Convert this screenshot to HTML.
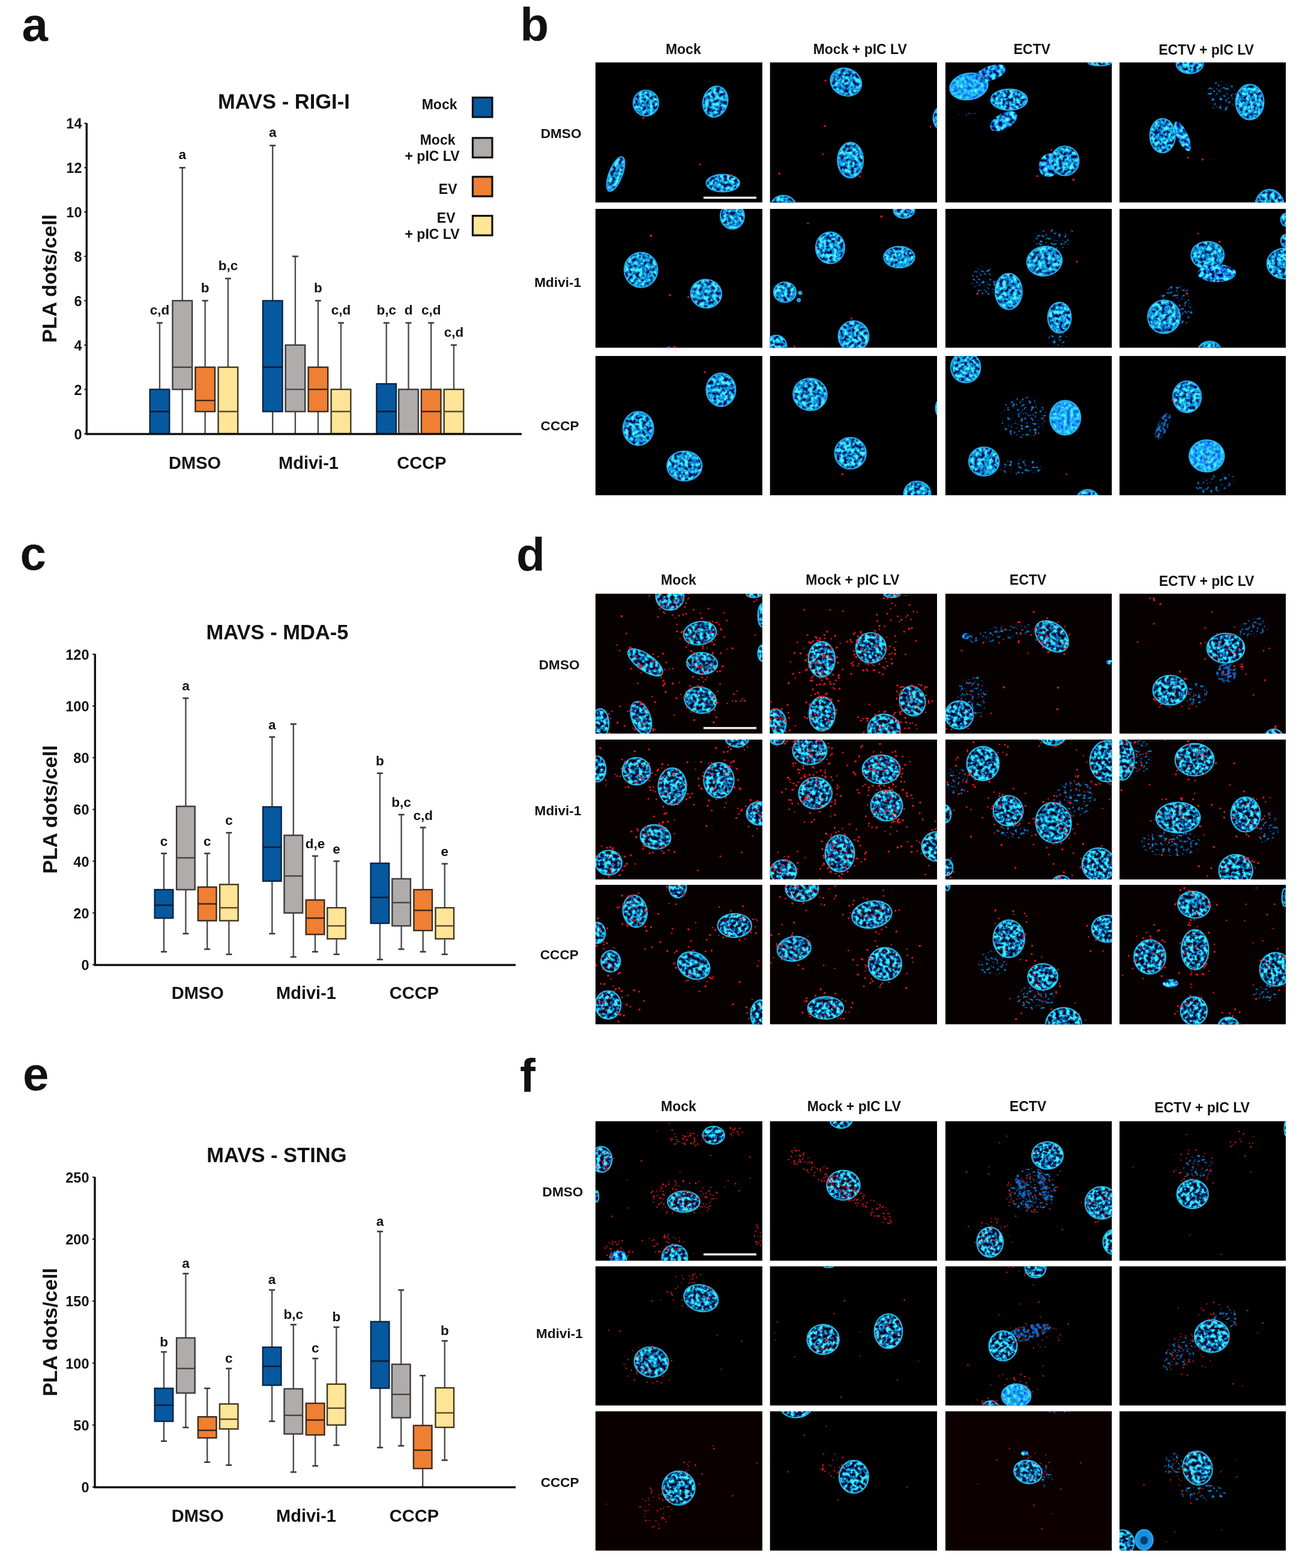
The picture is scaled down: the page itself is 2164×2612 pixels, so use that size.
<!DOCTYPE html><html><head><meta charset="utf-8"><title>Figure</title><style>html,body{margin:0;padding:0;background:#fff;width:2164px;height:2612px;overflow:hidden}svg{display:block}text{font-family:"Liberation Sans", Arial, Helvetica, sans-serif;font-weight:bold;fill:#111}</style></head><body>
<svg width="2164" height="2612" viewBox="0 0 2164 2612">
<defs><filter id="texb" x="-10%" y="-10%" width="120%" height="120%" color-interpolation-filters="sRGB"><feTurbulence type="fractalNoise" baseFrequency="0.17" numOctaves="2" seed="4" result="t"/><feColorMatrix in="t" type="matrix" values="3 0 0 0 -1  3 0 0 0 -1  3 0 0 0 -1  0 0 0 0 1" result="s"/><feComponentTransfer in="s" result="c"><feFuncR type="table" tableValues="0 0.02 0.08 0.12 0.3"/><feFuncG type="table" tableValues="0.07 0.39 0.57 0.77 0.95"/><feFuncB type="table" tableValues="0.3 0.69 0.87 0.93 1"/></feComponentTransfer><feComposite in="c" in2="SourceGraphic" operator="in" result="d"/><feGaussianBlur in="d" stdDeviation="0.5"/></filter><filter id="texd" x="-10%" y="-10%" width="120%" height="120%" color-interpolation-filters="sRGB"><feTurbulence type="fractalNoise" baseFrequency="0.17" numOctaves="2" seed="6" result="t"/><feColorMatrix in="t" type="matrix" values="3 0 0 0 -1  3 0 0 0 -1  3 0 0 0 -1  0 0 0 0 1" result="s"/><feComponentTransfer in="s" result="c"><feFuncR type="table" tableValues="0 0 0.04 0.1 0.25"/><feFuncG type="table" tableValues="0.02 0.14 0.4 0.74 0.93"/><feFuncB type="table" tableValues="0.08 0.32 0.7 0.9 1"/></feComponentTransfer><feComposite in="c" in2="SourceGraphic" operator="in" result="d"/><feGaussianBlur in="d" stdDeviation="0.5"/></filter><filter id="texf" x="-10%" y="-10%" width="120%" height="120%" color-interpolation-filters="sRGB"><feTurbulence type="fractalNoise" baseFrequency="0.17" numOctaves="2" seed="8" result="t"/><feColorMatrix in="t" type="matrix" values="3 0 0 0 -1  3 0 0 0 -1  3 0 0 0 -1  0 0 0 0 1" result="s"/><feComponentTransfer in="s" result="c"><feFuncR type="table" tableValues="0 0 0.04 0.1 0.25"/><feFuncG type="table" tableValues="0.02 0.14 0.4 0.74 0.93"/><feFuncB type="table" tableValues="0.08 0.32 0.7 0.9 1"/></feComponentTransfer><feComposite in="c" in2="SourceGraphic" operator="in" result="d"/><feGaussianBlur in="d" stdDeviation="0.5"/></filter><filter id="texm" x="-10%" y="-10%" width="120%" height="120%" color-interpolation-filters="sRGB"><feTurbulence type="fractalNoise" baseFrequency="0.16" numOctaves="2" seed="5" result="t"/><feColorMatrix in="t" type="matrix" values="0.8 0 0 0 -0.3  2.6 0 0 0 -0.75  3.0 0 0 0 -0.55  0 0 0 0 1" result="c"/><feComposite in="c" in2="SourceGraphic" operator="in" result="d"/><feGaussianBlur in="d" stdDeviation="0.5"/></filter><filter id="texk" x="-10%" y="-10%" width="120%" height="120%" color-interpolation-filters="sRGB"><feTurbulence type="fractalNoise" baseFrequency="0.2" numOctaves="2" seed="13" result="t"/><feColorMatrix in="t" type="matrix" values="0 0 0 0 0.08  0 0 0 0 0.42  0 0 0 0 0.8  6 0 0 0 -2.6" result="c"/><feComposite in="c" in2="SourceGraphic" operator="in"/></filter><filter id="tex2" x="-10%" y="-10%" width="120%" height="120%" color-interpolation-filters="sRGB"><feTurbulence type="fractalNoise" baseFrequency="0.18" numOctaves="2" seed="9" result="t"/><feColorMatrix in="t" type="matrix" values="0.5 0 0 0 -0.12  1.3 0 0 0 0.02  0 0 0 0 0.96  0 0 0 0 1" result="c"/><feComposite in="c" in2="SourceGraphic" operator="in"/></filter><filter id="tex3" x="-10%" y="-10%" width="120%" height="120%" color-interpolation-filters="sRGB"><feTurbulence type="fractalNoise" baseFrequency="0.22" numOctaves="2" seed="11" result="t"/><feColorMatrix in="t" type="matrix" values="0 0 0 0 0.04  1.2 0 0 0 -0.25  2.2 0 0 0 -0.35  8 0 0 0 -4.55" result="c"/><feComposite in="c" in2="SourceGraphic" operator="in"/></filter></defs>
<rect width="2164" height="2612" fill="#fff"/>
<text x="36.5" y="68" font-size="78" text-anchor="start">a</text>
<text x="866.5" y="67.5" font-size="78" text-anchor="start">b</text>
<text x="33.5" y="949" font-size="78" text-anchor="start">c</text>
<text x="860.3" y="951" font-size="78" text-anchor="start">d</text>
<text x="38" y="1816" font-size="78" text-anchor="start">e</text>
<text x="866" y="1819" font-size="78" text-anchor="start">f</text>
<line x1="266" y1="648.64" x2="266" y2="537.85" stroke="#4d4d4d" stroke-width="2.4"/>
<line x1="266" y1="722.5" x2="266" y2="722.5" stroke="#4d4d4d" stroke-width="2.4"/>
<line x1="261" y1="537.85" x2="271" y2="537.85" stroke="#3a3a3a" stroke-width="2.6"/>
<rect x="249.7" y="648.64" width="32.6" height="73.86" fill="#06589f" stroke="#0b2443" stroke-width="2.4"/>
<line x1="249.7" y1="685.57" x2="282.3" y2="685.57" stroke="#0a1a30" stroke-width="2.4"/>
<text x="266" y="523.85" font-size="22.5" text-anchor="middle">c,d</text>
<line x1="303.8" y1="500.92" x2="303.8" y2="279.34" stroke="#4d4d4d" stroke-width="2.4"/>
<line x1="303.8" y1="648.64" x2="303.8" y2="722.5" stroke="#4d4d4d" stroke-width="2.4"/>
<line x1="298.8" y1="279.34" x2="308.8" y2="279.34" stroke="#3a3a3a" stroke-width="2.6"/>
<rect x="287.5" y="500.92" width="32.6" height="147.72" fill="#b0acab" stroke="#3b3b3b" stroke-width="2.4"/>
<line x1="287.5" y1="611.71" x2="320.1" y2="611.71" stroke="#444" stroke-width="2.4"/>
<text x="303.8" y="265.34" font-size="22.5" text-anchor="middle">a</text>
<line x1="341.7" y1="611.71" x2="341.7" y2="500.92" stroke="#4d4d4d" stroke-width="2.4"/>
<line x1="341.7" y1="685.57" x2="341.7" y2="722.5" stroke="#4d4d4d" stroke-width="2.4"/>
<line x1="336.7" y1="500.92" x2="346.7" y2="500.92" stroke="#3a3a3a" stroke-width="2.6"/>
<rect x="325.4" y="611.71" width="32.6" height="73.86" fill="#ee7f33" stroke="#3d2a1c" stroke-width="2.4"/>
<line x1="325.4" y1="667.11" x2="358" y2="667.11" stroke="#3a2412" stroke-width="2.4"/>
<text x="341.7" y="486.92" font-size="22.5" text-anchor="middle">b</text>
<line x1="379.9" y1="611.71" x2="379.9" y2="463.99" stroke="#4d4d4d" stroke-width="2.4"/>
<line x1="379.9" y1="722.5" x2="379.9" y2="722.5" stroke="#4d4d4d" stroke-width="2.4"/>
<line x1="374.9" y1="463.99" x2="384.9" y2="463.99" stroke="#3a3a3a" stroke-width="2.6"/>
<rect x="363.6" y="611.71" width="32.6" height="110.79" fill="#ffe597" stroke="#40391f" stroke-width="2.4"/>
<line x1="363.6" y1="685.57" x2="396.2" y2="685.57" stroke="#5a4a2a" stroke-width="2.4"/>
<text x="379.9" y="449.99" font-size="22.5" text-anchor="middle">b,c</text>
<line x1="454.2" y1="500.92" x2="454.2" y2="242.41" stroke="#4d4d4d" stroke-width="2.4"/>
<line x1="454.2" y1="685.57" x2="454.2" y2="722.5" stroke="#4d4d4d" stroke-width="2.4"/>
<line x1="449.2" y1="242.41" x2="459.2" y2="242.41" stroke="#3a3a3a" stroke-width="2.6"/>
<rect x="437.9" y="500.92" width="32.6" height="184.65" fill="#06589f" stroke="#0b2443" stroke-width="2.4"/>
<line x1="437.9" y1="611.71" x2="470.5" y2="611.71" stroke="#0a1a30" stroke-width="2.4"/>
<text x="454.2" y="228.41" font-size="22.5" text-anchor="middle">a</text>
<line x1="491.9" y1="574.78" x2="491.9" y2="427.06" stroke="#4d4d4d" stroke-width="2.4"/>
<line x1="491.9" y1="685.57" x2="491.9" y2="722.5" stroke="#4d4d4d" stroke-width="2.4"/>
<line x1="486.9" y1="427.06" x2="496.9" y2="427.06" stroke="#3a3a3a" stroke-width="2.6"/>
<rect x="475.6" y="574.78" width="32.6" height="110.79" fill="#b0acab" stroke="#3b3b3b" stroke-width="2.4"/>
<line x1="475.6" y1="648.64" x2="508.2" y2="648.64" stroke="#444" stroke-width="2.4"/>
<line x1="529.9" y1="611.71" x2="529.9" y2="500.92" stroke="#4d4d4d" stroke-width="2.4"/>
<line x1="529.9" y1="685.57" x2="529.9" y2="722.5" stroke="#4d4d4d" stroke-width="2.4"/>
<line x1="524.9" y1="500.92" x2="534.9" y2="500.92" stroke="#3a3a3a" stroke-width="2.6"/>
<rect x="513.6" y="611.71" width="32.6" height="73.86" fill="#ee7f33" stroke="#3d2a1c" stroke-width="2.4"/>
<line x1="513.6" y1="648.64" x2="546.2" y2="648.64" stroke="#3a2412" stroke-width="2.4"/>
<text x="529.9" y="486.92" font-size="22.5" text-anchor="middle">b</text>
<line x1="568" y1="648.64" x2="568" y2="537.85" stroke="#4d4d4d" stroke-width="2.4"/>
<line x1="568" y1="722.5" x2="568" y2="722.5" stroke="#4d4d4d" stroke-width="2.4"/>
<line x1="563" y1="537.85" x2="573" y2="537.85" stroke="#3a3a3a" stroke-width="2.6"/>
<rect x="551.7" y="648.64" width="32.6" height="73.86" fill="#ffe597" stroke="#40391f" stroke-width="2.4"/>
<line x1="551.7" y1="685.57" x2="584.3" y2="685.57" stroke="#5a4a2a" stroke-width="2.4"/>
<text x="568" y="523.85" font-size="22.5" text-anchor="middle">c,d</text>
<line x1="643.7" y1="639.41" x2="643.7" y2="537.85" stroke="#4d4d4d" stroke-width="2.4"/>
<line x1="643.7" y1="722.5" x2="643.7" y2="722.5" stroke="#4d4d4d" stroke-width="2.4"/>
<line x1="638.7" y1="537.85" x2="648.7" y2="537.85" stroke="#3a3a3a" stroke-width="2.6"/>
<rect x="627.4" y="639.41" width="32.6" height="83.09" fill="#06589f" stroke="#0b2443" stroke-width="2.4"/>
<line x1="627.4" y1="685.57" x2="660" y2="685.57" stroke="#0a1a30" stroke-width="2.4"/>
<text x="643.7" y="523.85" font-size="22.5" text-anchor="middle">b,c</text>
<line x1="680.5" y1="648.64" x2="680.5" y2="537.85" stroke="#4d4d4d" stroke-width="2.4"/>
<line x1="680.5" y1="722.5" x2="680.5" y2="722.5" stroke="#4d4d4d" stroke-width="2.4"/>
<line x1="675.5" y1="537.85" x2="685.5" y2="537.85" stroke="#3a3a3a" stroke-width="2.6"/>
<rect x="664.2" y="648.64" width="32.6" height="73.86" fill="#b0acab" stroke="#3b3b3b" stroke-width="2.4"/>
<text x="680.5" y="523.85" font-size="22.5" text-anchor="middle">d</text>
<line x1="718.2" y1="648.64" x2="718.2" y2="537.85" stroke="#4d4d4d" stroke-width="2.4"/>
<line x1="718.2" y1="722.5" x2="718.2" y2="722.5" stroke="#4d4d4d" stroke-width="2.4"/>
<line x1="713.2" y1="537.85" x2="723.2" y2="537.85" stroke="#3a3a3a" stroke-width="2.6"/>
<rect x="701.9" y="648.64" width="32.6" height="73.86" fill="#ee7f33" stroke="#3d2a1c" stroke-width="2.4"/>
<line x1="701.9" y1="685.57" x2="734.5" y2="685.57" stroke="#3a2412" stroke-width="2.4"/>
<text x="718.2" y="523.85" font-size="22.5" text-anchor="middle">c,d</text>
<line x1="756" y1="648.64" x2="756" y2="574.78" stroke="#4d4d4d" stroke-width="2.4"/>
<line x1="756" y1="722.5" x2="756" y2="722.5" stroke="#4d4d4d" stroke-width="2.4"/>
<line x1="751" y1="574.78" x2="761" y2="574.78" stroke="#3a3a3a" stroke-width="2.6"/>
<rect x="739.7" y="648.64" width="32.6" height="73.86" fill="#ffe597" stroke="#40391f" stroke-width="2.4"/>
<line x1="739.7" y1="685.57" x2="772.3" y2="685.57" stroke="#5a4a2a" stroke-width="2.4"/>
<text x="756" y="560.78" font-size="22.5" text-anchor="middle">c,d</text>
<line x1="144.3" y1="204.98" x2="144.3" y2="724.2" stroke="#111" stroke-width="3.4"/>
<line x1="142.6" y1="723" x2="869" y2="723" stroke="#111" stroke-width="3.3"/>
<line x1="140.3" y1="722.5" x2="144.3" y2="722.5" stroke="#111" stroke-width="2"/>
<text x="136.5" y="731.5" font-size="23.5" text-anchor="end">0</text>
<line x1="140.3" y1="648.64" x2="144.3" y2="648.64" stroke="#111" stroke-width="2"/>
<text x="136.5" y="657.64" font-size="23.5" text-anchor="end">2</text>
<line x1="140.3" y1="574.78" x2="144.3" y2="574.78" stroke="#111" stroke-width="2"/>
<text x="136.5" y="583.78" font-size="23.5" text-anchor="end">4</text>
<line x1="140.3" y1="500.92" x2="144.3" y2="500.92" stroke="#111" stroke-width="2"/>
<text x="136.5" y="509.92" font-size="23.5" text-anchor="end">6</text>
<line x1="140.3" y1="427.06" x2="144.3" y2="427.06" stroke="#111" stroke-width="2"/>
<text x="136.5" y="436.06" font-size="23.5" text-anchor="end">8</text>
<line x1="140.3" y1="353.2" x2="144.3" y2="353.2" stroke="#111" stroke-width="2"/>
<text x="136.5" y="362.2" font-size="23.5" text-anchor="end">10</text>
<line x1="140.3" y1="279.34" x2="144.3" y2="279.34" stroke="#111" stroke-width="2"/>
<text x="136.5" y="288.34" font-size="23.5" text-anchor="end">12</text>
<line x1="140.3" y1="205.48" x2="144.3" y2="205.48" stroke="#111" stroke-width="2"/>
<text x="136.5" y="214.48" font-size="23.5" text-anchor="end">14</text>
<text transform="translate(93.8,463.99) rotate(-90)" font-size="34" text-anchor="middle">PLA dots/cell</text>
<text x="472.9" y="181" font-size="34.5" text-anchor="middle">MAVS - RIGI-I</text>
<text x="324.6" y="780.5" font-size="29" text-anchor="middle">DMSO</text>
<text x="514" y="780.5" font-size="29" text-anchor="middle">Mdivi-1</text>
<text x="702.4" y="780.5" font-size="29" text-anchor="middle">CCCP</text>
<line x1="273" y1="1482.01" x2="273" y2="1421.67" stroke="#4d4d4d" stroke-width="2.4"/>
<line x1="273" y1="1529.42" x2="273" y2="1585.45" stroke="#4d4d4d" stroke-width="2.4"/>
<line x1="268" y1="1421.67" x2="278" y2="1421.67" stroke="#3a3a3a" stroke-width="2.6"/>
<line x1="268" y1="1585.45" x2="278" y2="1585.45" stroke="#3a3a3a" stroke-width="2.6"/>
<rect x="257.7" y="1482.01" width="30.6" height="47.41" fill="#06589f" stroke="#0b2443" stroke-width="2.4"/>
<line x1="257.7" y1="1507.87" x2="288.3" y2="1507.87" stroke="#0a1a30" stroke-width="2.4"/>
<text x="273" y="1408.67" font-size="22.5" text-anchor="middle">c</text>
<line x1="309.4" y1="1343.23" x2="309.4" y2="1163.07" stroke="#4d4d4d" stroke-width="2.4"/>
<line x1="309.4" y1="1482.01" x2="309.4" y2="1555.28" stroke="#4d4d4d" stroke-width="2.4"/>
<line x1="304.4" y1="1163.07" x2="314.4" y2="1163.07" stroke="#3a3a3a" stroke-width="2.6"/>
<line x1="304.4" y1="1555.28" x2="314.4" y2="1555.28" stroke="#3a3a3a" stroke-width="2.6"/>
<rect x="294.1" y="1343.23" width="30.6" height="138.78" fill="#b0acab" stroke="#3b3b3b" stroke-width="2.4"/>
<line x1="294.1" y1="1429" x2="324.7" y2="1429" stroke="#444" stroke-width="2.4"/>
<text x="309.4" y="1150.07" font-size="22.5" text-anchor="middle">a</text>
<line x1="345.2" y1="1477.7" x2="345.2" y2="1421.67" stroke="#4d4d4d" stroke-width="2.4"/>
<line x1="345.2" y1="1533.73" x2="345.2" y2="1581.14" stroke="#4d4d4d" stroke-width="2.4"/>
<line x1="340.2" y1="1421.67" x2="350.2" y2="1421.67" stroke="#3a3a3a" stroke-width="2.6"/>
<line x1="340.2" y1="1581.14" x2="350.2" y2="1581.14" stroke="#3a3a3a" stroke-width="2.6"/>
<rect x="329.9" y="1477.7" width="30.6" height="56.03" fill="#ee7f33" stroke="#3d2a1c" stroke-width="2.4"/>
<line x1="329.9" y1="1505.71" x2="360.5" y2="1505.71" stroke="#3a2412" stroke-width="2.4"/>
<text x="345.2" y="1408.67" font-size="22.5" text-anchor="middle">c</text>
<line x1="381.4" y1="1473.39" x2="381.4" y2="1387.19" stroke="#4d4d4d" stroke-width="2.4"/>
<line x1="381.4" y1="1533.73" x2="381.4" y2="1589.76" stroke="#4d4d4d" stroke-width="2.4"/>
<line x1="376.4" y1="1387.19" x2="386.4" y2="1387.19" stroke="#3a3a3a" stroke-width="2.6"/>
<line x1="376.4" y1="1589.76" x2="386.4" y2="1589.76" stroke="#3a3a3a" stroke-width="2.6"/>
<rect x="366.1" y="1473.39" width="30.6" height="60.34" fill="#ffe597" stroke="#40391f" stroke-width="2.4"/>
<line x1="366.1" y1="1512.18" x2="396.7" y2="1512.18" stroke="#5a4a2a" stroke-width="2.4"/>
<text x="381.4" y="1374.19" font-size="22.5" text-anchor="middle">c</text>
<line x1="453.3" y1="1344.09" x2="453.3" y2="1227.72" stroke="#4d4d4d" stroke-width="2.4"/>
<line x1="453.3" y1="1467.79" x2="453.3" y2="1555.28" stroke="#4d4d4d" stroke-width="2.4"/>
<line x1="448.3" y1="1227.72" x2="458.3" y2="1227.72" stroke="#3a3a3a" stroke-width="2.6"/>
<line x1="448.3" y1="1555.28" x2="458.3" y2="1555.28" stroke="#3a3a3a" stroke-width="2.6"/>
<rect x="438" y="1344.09" width="30.6" height="123.7" fill="#06589f" stroke="#0b2443" stroke-width="2.4"/>
<line x1="438" y1="1411.33" x2="468.6" y2="1411.33" stroke="#0a1a30" stroke-width="2.4"/>
<text x="453.3" y="1214.72" font-size="22.5" text-anchor="middle">a</text>
<line x1="488.8" y1="1391.5" x2="488.8" y2="1206.17" stroke="#4d4d4d" stroke-width="2.4"/>
<line x1="488.8" y1="1520.8" x2="488.8" y2="1594.07" stroke="#4d4d4d" stroke-width="2.4"/>
<line x1="483.8" y1="1206.17" x2="493.8" y2="1206.17" stroke="#3a3a3a" stroke-width="2.6"/>
<line x1="483.8" y1="1594.07" x2="493.8" y2="1594.07" stroke="#3a3a3a" stroke-width="2.6"/>
<rect x="473.5" y="1391.5" width="30.6" height="129.3" fill="#b0acab" stroke="#3b3b3b" stroke-width="2.4"/>
<line x1="473.5" y1="1459.17" x2="504.1" y2="1459.17" stroke="#444" stroke-width="2.4"/>
<line x1="525" y1="1499.25" x2="525" y2="1425.98" stroke="#4d4d4d" stroke-width="2.4"/>
<line x1="525" y1="1556.57" x2="525" y2="1585.45" stroke="#4d4d4d" stroke-width="2.4"/>
<line x1="520" y1="1425.98" x2="530" y2="1425.98" stroke="#3a3a3a" stroke-width="2.6"/>
<line x1="520" y1="1585.45" x2="530" y2="1585.45" stroke="#3a3a3a" stroke-width="2.6"/>
<rect x="509.7" y="1499.25" width="30.6" height="57.32" fill="#ee7f33" stroke="#3d2a1c" stroke-width="2.4"/>
<line x1="509.7" y1="1529.42" x2="540.3" y2="1529.42" stroke="#3a2412" stroke-width="2.4"/>
<text x="525" y="1412.98" font-size="22.5" text-anchor="middle">d,e</text>
<line x1="560.6" y1="1512.18" x2="560.6" y2="1434.6" stroke="#4d4d4d" stroke-width="2.4"/>
<line x1="560.6" y1="1563.9" x2="560.6" y2="1589.76" stroke="#4d4d4d" stroke-width="2.4"/>
<line x1="555.6" y1="1434.6" x2="565.6" y2="1434.6" stroke="#3a3a3a" stroke-width="2.6"/>
<line x1="555.6" y1="1589.76" x2="565.6" y2="1589.76" stroke="#3a3a3a" stroke-width="2.6"/>
<rect x="545.3" y="1512.18" width="30.6" height="51.72" fill="#ffe597" stroke="#40391f" stroke-width="2.4"/>
<line x1="545.3" y1="1542.35" x2="575.9" y2="1542.35" stroke="#5a4a2a" stroke-width="2.4"/>
<text x="560.6" y="1421.6" font-size="22.5" text-anchor="middle">e</text>
<line x1="632.9" y1="1438.05" x2="632.9" y2="1288.06" stroke="#4d4d4d" stroke-width="2.4"/>
<line x1="632.9" y1="1538.04" x2="632.9" y2="1598.38" stroke="#4d4d4d" stroke-width="2.4"/>
<line x1="627.9" y1="1288.06" x2="637.9" y2="1288.06" stroke="#3a3a3a" stroke-width="2.6"/>
<line x1="627.9" y1="1598.38" x2="637.9" y2="1598.38" stroke="#3a3a3a" stroke-width="2.6"/>
<rect x="617.6" y="1438.05" width="30.6" height="99.99" fill="#06589f" stroke="#0b2443" stroke-width="2.4"/>
<line x1="617.6" y1="1494.94" x2="648.2" y2="1494.94" stroke="#0a1a30" stroke-width="2.4"/>
<text x="632.9" y="1275.06" font-size="22.5" text-anchor="middle">b</text>
<line x1="668.6" y1="1463.91" x2="668.6" y2="1357.02" stroke="#4d4d4d" stroke-width="2.4"/>
<line x1="668.6" y1="1542.35" x2="668.6" y2="1581.14" stroke="#4d4d4d" stroke-width="2.4"/>
<line x1="663.6" y1="1357.02" x2="673.6" y2="1357.02" stroke="#3a3a3a" stroke-width="2.6"/>
<line x1="663.6" y1="1581.14" x2="673.6" y2="1581.14" stroke="#3a3a3a" stroke-width="2.6"/>
<rect x="653.3" y="1463.91" width="30.6" height="78.44" fill="#b0acab" stroke="#3b3b3b" stroke-width="2.4"/>
<line x1="653.3" y1="1503.56" x2="683.9" y2="1503.56" stroke="#444" stroke-width="2.4"/>
<text x="668.6" y="1344.02" font-size="22.5" text-anchor="middle">b,c</text>
<line x1="704.7" y1="1482.01" x2="704.7" y2="1378.57" stroke="#4d4d4d" stroke-width="2.4"/>
<line x1="704.7" y1="1550.11" x2="704.7" y2="1585.45" stroke="#4d4d4d" stroke-width="2.4"/>
<line x1="699.7" y1="1378.57" x2="709.7" y2="1378.57" stroke="#3a3a3a" stroke-width="2.6"/>
<line x1="699.7" y1="1585.45" x2="709.7" y2="1585.45" stroke="#3a3a3a" stroke-width="2.6"/>
<rect x="689.4" y="1482.01" width="30.6" height="68.1" fill="#ee7f33" stroke="#3d2a1c" stroke-width="2.4"/>
<line x1="689.4" y1="1516.49" x2="720" y2="1516.49" stroke="#3a2412" stroke-width="2.4"/>
<text x="704.7" y="1365.57" font-size="22.5" text-anchor="middle">c,d</text>
<line x1="740.8" y1="1512.18" x2="740.8" y2="1438.91" stroke="#4d4d4d" stroke-width="2.4"/>
<line x1="740.8" y1="1563.9" x2="740.8" y2="1589.76" stroke="#4d4d4d" stroke-width="2.4"/>
<line x1="735.8" y1="1438.91" x2="745.8" y2="1438.91" stroke="#3a3a3a" stroke-width="2.6"/>
<line x1="735.8" y1="1589.76" x2="745.8" y2="1589.76" stroke="#3a3a3a" stroke-width="2.6"/>
<rect x="725.5" y="1512.18" width="30.6" height="51.72" fill="#ffe597" stroke="#40391f" stroke-width="2.4"/>
<line x1="725.5" y1="1542.35" x2="756.1" y2="1542.35" stroke="#5a4a2a" stroke-width="2.4"/>
<text x="740.8" y="1425.91" font-size="22.5" text-anchor="middle">e</text>
<line x1="158.3" y1="1089.3" x2="158.3" y2="1608.7" stroke="#111" stroke-width="3.4"/>
<line x1="156.6" y1="1607.5" x2="859" y2="1607.5" stroke="#111" stroke-width="3.3"/>
<line x1="154.3" y1="1607" x2="158.3" y2="1607" stroke="#111" stroke-width="2"/>
<text x="148.5" y="1616" font-size="23.5" text-anchor="end">0</text>
<line x1="154.3" y1="1520.8" x2="158.3" y2="1520.8" stroke="#111" stroke-width="2"/>
<text x="148.5" y="1529.8" font-size="23.5" text-anchor="end">20</text>
<line x1="154.3" y1="1434.6" x2="158.3" y2="1434.6" stroke="#111" stroke-width="2"/>
<text x="148.5" y="1443.6" font-size="23.5" text-anchor="end">40</text>
<line x1="154.3" y1="1348.4" x2="158.3" y2="1348.4" stroke="#111" stroke-width="2"/>
<text x="148.5" y="1357.4" font-size="23.5" text-anchor="end">60</text>
<line x1="154.3" y1="1262.2" x2="158.3" y2="1262.2" stroke="#111" stroke-width="2"/>
<text x="148.5" y="1271.2" font-size="23.5" text-anchor="end">80</text>
<line x1="154.3" y1="1176" x2="158.3" y2="1176" stroke="#111" stroke-width="2"/>
<text x="148.5" y="1185" font-size="23.5" text-anchor="end">100</text>
<line x1="154.3" y1="1089.8" x2="158.3" y2="1089.8" stroke="#111" stroke-width="2"/>
<text x="148.5" y="1098.8" font-size="23.5" text-anchor="end">120</text>
<text transform="translate(95.2,1348.4) rotate(-90)" font-size="34" text-anchor="middle">PLA dots/cell</text>
<text x="462" y="1065" font-size="34.5" text-anchor="middle">MAVS - MDA-5</text>
<text x="329.2" y="1664.3" font-size="29" text-anchor="middle">DMSO</text>
<text x="510" y="1664.3" font-size="29" text-anchor="middle">Mdivi-1</text>
<text x="689.9" y="1664.3" font-size="29" text-anchor="middle">CCCP</text>
<line x1="273" y1="2312.71" x2="273" y2="2252.02" stroke="#4d4d4d" stroke-width="2.4"/>
<line x1="273" y1="2367.61" x2="273" y2="2400.63" stroke="#4d4d4d" stroke-width="2.4"/>
<line x1="268" y1="2252.02" x2="278" y2="2252.02" stroke="#3a3a3a" stroke-width="2.6"/>
<line x1="268" y1="2400.63" x2="278" y2="2400.63" stroke="#3a3a3a" stroke-width="2.6"/>
<rect x="257.7" y="2312.71" width="30.6" height="54.9" fill="#06589f" stroke="#0b2443" stroke-width="2.4"/>
<line x1="257.7" y1="2340.78" x2="288.3" y2="2340.78" stroke="#0a1a30" stroke-width="2.4"/>
<text x="273" y="2242.52" font-size="22.5" text-anchor="middle">b</text>
<line x1="309.4" y1="2228.7" x2="309.4" y2="2121.58" stroke="#4d4d4d" stroke-width="2.4"/>
<line x1="309.4" y1="2320.55" x2="309.4" y2="2377.93" stroke="#4d4d4d" stroke-width="2.4"/>
<line x1="304.4" y1="2121.58" x2="314.4" y2="2121.58" stroke="#3a3a3a" stroke-width="2.6"/>
<line x1="304.4" y1="2377.93" x2="314.4" y2="2377.93" stroke="#3a3a3a" stroke-width="2.6"/>
<rect x="294.1" y="2228.7" width="30.6" height="91.85" fill="#b0acab" stroke="#3b3b3b" stroke-width="2.4"/>
<line x1="294.1" y1="2279.68" x2="324.7" y2="2279.68" stroke="#444" stroke-width="2.4"/>
<text x="309.4" y="2112.08" font-size="22.5" text-anchor="middle">a</text>
<line x1="345.2" y1="2360.18" x2="345.2" y2="2312.71" stroke="#4d4d4d" stroke-width="2.4"/>
<line x1="345.2" y1="2395.27" x2="345.2" y2="2435.72" stroke="#4d4d4d" stroke-width="2.4"/>
<line x1="340.2" y1="2312.71" x2="350.2" y2="2312.71" stroke="#3a3a3a" stroke-width="2.6"/>
<line x1="340.2" y1="2435.72" x2="350.2" y2="2435.72" stroke="#3a3a3a" stroke-width="2.6"/>
<rect x="329.9" y="2360.18" width="30.6" height="35.09" fill="#ee7f33" stroke="#3d2a1c" stroke-width="2.4"/>
<line x1="329.9" y1="2382.68" x2="360.5" y2="2382.68" stroke="#3a2412" stroke-width="2.4"/>
<line x1="381.2" y1="2338.71" x2="381.2" y2="2279.68" stroke="#4d4d4d" stroke-width="2.4"/>
<line x1="381.2" y1="2380.4" x2="381.2" y2="2440.67" stroke="#4d4d4d" stroke-width="2.4"/>
<line x1="376.2" y1="2279.68" x2="386.2" y2="2279.68" stroke="#3a3a3a" stroke-width="2.6"/>
<line x1="376.2" y1="2440.67" x2="386.2" y2="2440.67" stroke="#3a3a3a" stroke-width="2.6"/>
<rect x="365.9" y="2338.71" width="30.6" height="41.69" fill="#ffe597" stroke="#40391f" stroke-width="2.4"/>
<line x1="365.9" y1="2364.1" x2="396.5" y2="2364.1" stroke="#5a4a2a" stroke-width="2.4"/>
<text x="381.2" y="2270.18" font-size="22.5" text-anchor="middle">c</text>
<line x1="453.1" y1="2244.18" x2="453.1" y2="2148.82" stroke="#4d4d4d" stroke-width="2.4"/>
<line x1="453.1" y1="2307.55" x2="453.1" y2="2367.61" stroke="#4d4d4d" stroke-width="2.4"/>
<line x1="448.1" y1="2148.82" x2="458.1" y2="2148.82" stroke="#3a3a3a" stroke-width="2.6"/>
<line x1="448.1" y1="2367.61" x2="458.1" y2="2367.61" stroke="#3a3a3a" stroke-width="2.6"/>
<rect x="437.8" y="2244.18" width="30.6" height="63.36" fill="#06589f" stroke="#0b2443" stroke-width="2.4"/>
<line x1="437.8" y1="2275.97" x2="468.4" y2="2275.97" stroke="#0a1a30" stroke-width="2.4"/>
<text x="453.1" y="2139.32" font-size="22.5" text-anchor="middle">a</text>
<line x1="488.8" y1="2313.53" x2="488.8" y2="2206.62" stroke="#4d4d4d" stroke-width="2.4"/>
<line x1="488.8" y1="2388.66" x2="488.8" y2="2452.23" stroke="#4d4d4d" stroke-width="2.4"/>
<line x1="483.8" y1="2206.62" x2="493.8" y2="2206.62" stroke="#3a3a3a" stroke-width="2.6"/>
<line x1="483.8" y1="2452.23" x2="493.8" y2="2452.23" stroke="#3a3a3a" stroke-width="2.6"/>
<rect x="473.5" y="2313.53" width="30.6" height="75.13" fill="#b0acab" stroke="#3b3b3b" stroke-width="2.4"/>
<line x1="473.5" y1="2357.7" x2="504.1" y2="2357.7" stroke="#444" stroke-width="2.4"/>
<text x="488.8" y="2197.12" font-size="22.5" text-anchor="middle">b,c</text>
<line x1="525.2" y1="2337.68" x2="525.2" y2="2262.96" stroke="#4d4d4d" stroke-width="2.4"/>
<line x1="525.2" y1="2390.31" x2="525.2" y2="2441.91" stroke="#4d4d4d" stroke-width="2.4"/>
<line x1="520.2" y1="2262.96" x2="530.2" y2="2262.96" stroke="#3a3a3a" stroke-width="2.6"/>
<line x1="520.2" y1="2441.91" x2="530.2" y2="2441.91" stroke="#3a3a3a" stroke-width="2.6"/>
<rect x="509.9" y="2337.68" width="30.6" height="52.63" fill="#ee7f33" stroke="#3d2a1c" stroke-width="2.4"/>
<line x1="509.9" y1="2365.54" x2="540.5" y2="2365.54" stroke="#3a2412" stroke-width="2.4"/>
<text x="525.2" y="2253.46" font-size="22.5" text-anchor="middle">c</text>
<line x1="560.4" y1="2305.69" x2="560.4" y2="2210.74" stroke="#4d4d4d" stroke-width="2.4"/>
<line x1="560.4" y1="2373.8" x2="560.4" y2="2407.44" stroke="#4d4d4d" stroke-width="2.4"/>
<line x1="555.4" y1="2210.74" x2="565.4" y2="2210.74" stroke="#3a3a3a" stroke-width="2.6"/>
<line x1="555.4" y1="2407.44" x2="565.4" y2="2407.44" stroke="#3a3a3a" stroke-width="2.6"/>
<rect x="545.1" y="2305.69" width="30.6" height="68.11" fill="#ffe597" stroke="#40391f" stroke-width="2.4"/>
<line x1="545.1" y1="2345.73" x2="575.7" y2="2345.73" stroke="#5a4a2a" stroke-width="2.4"/>
<text x="560.4" y="2201.24" font-size="22.5" text-anchor="middle">b</text>
<line x1="633.1" y1="2201.66" x2="633.1" y2="2051.4" stroke="#4d4d4d" stroke-width="2.4"/>
<line x1="633.1" y1="2312.5" x2="633.1" y2="2411.36" stroke="#4d4d4d" stroke-width="2.4"/>
<line x1="628.1" y1="2051.4" x2="638.1" y2="2051.4" stroke="#3a3a3a" stroke-width="2.6"/>
<line x1="628.1" y1="2411.36" x2="638.1" y2="2411.36" stroke="#3a3a3a" stroke-width="2.6"/>
<rect x="617.8" y="2201.66" width="30.6" height="110.84" fill="#06589f" stroke="#0b2443" stroke-width="2.4"/>
<line x1="617.8" y1="2267.3" x2="648.4" y2="2267.3" stroke="#0a1a30" stroke-width="2.4"/>
<text x="633.1" y="2041.9" font-size="22.5" text-anchor="middle">a</text>
<line x1="668.2" y1="2272.66" x2="668.2" y2="2149.03" stroke="#4d4d4d" stroke-width="2.4"/>
<line x1="668.2" y1="2361.62" x2="668.2" y2="2408.48" stroke="#4d4d4d" stroke-width="2.4"/>
<line x1="663.2" y1="2149.03" x2="673.2" y2="2149.03" stroke="#3a3a3a" stroke-width="2.6"/>
<line x1="663.2" y1="2408.48" x2="673.2" y2="2408.48" stroke="#3a3a3a" stroke-width="2.6"/>
<rect x="652.9" y="2272.66" width="30.6" height="88.96" fill="#b0acab" stroke="#3b3b3b" stroke-width="2.4"/>
<line x1="652.9" y1="2322.82" x2="683.5" y2="2322.82" stroke="#444" stroke-width="2.4"/>
<line x1="704.2" y1="2374.63" x2="704.2" y2="2291.45" stroke="#4d4d4d" stroke-width="2.4"/>
<line x1="704.2" y1="2446.25" x2="704.2" y2="2477" stroke="#4d4d4d" stroke-width="2.4"/>
<line x1="699.2" y1="2291.45" x2="709.2" y2="2291.45" stroke="#3a3a3a" stroke-width="2.6"/>
<rect x="688.9" y="2374.63" width="30.6" height="71.62" fill="#ee7f33" stroke="#3d2a1c" stroke-width="2.4"/>
<line x1="688.9" y1="2415.7" x2="719.5" y2="2415.7" stroke="#3a2412" stroke-width="2.4"/>
<line x1="740.8" y1="2311.88" x2="740.8" y2="2233.65" stroke="#4d4d4d" stroke-width="2.4"/>
<line x1="740.8" y1="2377.72" x2="740.8" y2="2432.42" stroke="#4d4d4d" stroke-width="2.4"/>
<line x1="735.8" y1="2233.65" x2="745.8" y2="2233.65" stroke="#3a3a3a" stroke-width="2.6"/>
<line x1="735.8" y1="2432.42" x2="745.8" y2="2432.42" stroke="#3a3a3a" stroke-width="2.6"/>
<rect x="725.5" y="2311.88" width="30.6" height="65.84" fill="#ffe597" stroke="#40391f" stroke-width="2.4"/>
<line x1="725.5" y1="2353.57" x2="756.1" y2="2353.57" stroke="#5a4a2a" stroke-width="2.4"/>
<text x="740.8" y="2224.15" font-size="22.5" text-anchor="middle">b</text>
<line x1="158" y1="1960.5" x2="158" y2="2478.7" stroke="#111" stroke-width="3.4"/>
<line x1="156.3" y1="2477.5" x2="859" y2="2477.5" stroke="#111" stroke-width="3.3"/>
<line x1="154" y1="2477" x2="158" y2="2477" stroke="#111" stroke-width="2"/>
<text x="148.5" y="2486" font-size="23.5" text-anchor="end">0</text>
<line x1="154" y1="2373.8" x2="158" y2="2373.8" stroke="#111" stroke-width="2"/>
<text x="148.5" y="2382.8" font-size="23.5" text-anchor="end">50</text>
<line x1="154" y1="2270.6" x2="158" y2="2270.6" stroke="#111" stroke-width="2"/>
<text x="148.5" y="2279.6" font-size="23.5" text-anchor="end">100</text>
<line x1="154" y1="2167.4" x2="158" y2="2167.4" stroke="#111" stroke-width="2"/>
<text x="148.5" y="2176.4" font-size="23.5" text-anchor="end">150</text>
<line x1="154" y1="2064.2" x2="158" y2="2064.2" stroke="#111" stroke-width="2"/>
<text x="148.5" y="2073.2" font-size="23.5" text-anchor="end">200</text>
<line x1="154" y1="1961" x2="158" y2="1961" stroke="#111" stroke-width="2"/>
<text x="148.5" y="1970" font-size="23.5" text-anchor="end">250</text>
<text transform="translate(95.2,2219) rotate(-90)" font-size="34" text-anchor="middle">PLA dots/cell</text>
<text x="460.9" y="1935.5" font-size="34.5" text-anchor="middle">MAVS - STING</text>
<text x="329.2" y="2534.5" font-size="29" text-anchor="middle">DMSO</text>
<text x="510" y="2534.5" font-size="29" text-anchor="middle">Mdivi-1</text>
<text x="689.9" y="2534.5" font-size="29" text-anchor="middle">CCCP</text>
<rect x="787.5" y="162.5" width="32.5" height="32.5" fill="#06589f" stroke="#111" stroke-width="3.2"/>
<rect x="787.5" y="229.8" width="32.5" height="32.5" fill="#b0acab" stroke="#111" stroke-width="3.2"/>
<rect x="787.5" y="294.5" width="32.5" height="32.5" fill="#ee7f33" stroke="#111" stroke-width="3.2"/>
<rect x="787.5" y="359.5" width="32.5" height="32.5" fill="#ffe597" stroke="#111" stroke-width="3.2"/>
<text x="761.5" y="181.5" font-size="23" text-anchor="end">Mock</text>
<text x="758.5" y="240.5" font-size="23" text-anchor="end">Mock</text>
<text x="765.5" y="267.5" font-size="23" text-anchor="end">+ pIC LV</text>
<text x="761.5" y="322.5" font-size="23" text-anchor="end">EV</text>
<text x="758.5" y="371.2" font-size="23" text-anchor="end">EV</text>
<text x="765.5" y="398" font-size="23" text-anchor="end">+ pIC LV</text>
<clipPath id="cp_b00"><rect x="992" y="104" width="278" height="233.5"/></clipPath>
<g clip-path="url(#cp_b00)">
<rect x="992" y="104" width="278" height="233.5" fill="#000"/>
<ellipse cx="1076" cy="171.7" rx="21.7" ry="22" fill="#1c86d6" filter="url(#texb)"/>
<ellipse cx="1076" cy="171.7" rx="21.1" ry="21.4" fill="none" stroke="#2aaef2" stroke-width="2.2" opacity="0.9"/>
<ellipse cx="1191.7" cy="169.3" rx="21" ry="26.5" transform="rotate(15 1191.7 169.3)" fill="#1c86d6" filter="url(#texb)"/>
<ellipse cx="1191.7" cy="169.3" rx="20.4" ry="25.9" transform="rotate(15 1191.7 169.3)" fill="none" stroke="#2aaef2" stroke-width="2.2" opacity="0.9"/>
<ellipse cx="1025.7" cy="290" rx="11.5" ry="31" transform="rotate(21 1025.7 290)" fill="#1c86d6" filter="url(#texb)"/>
<ellipse cx="1025.7" cy="290" rx="10.9" ry="30.4" transform="rotate(21 1025.7 290)" fill="none" stroke="#2aaef2" stroke-width="2.2" opacity="0.9"/>
<ellipse cx="1204.3" cy="305" rx="28.3" ry="15" fill="#1c86d6" filter="url(#texb)"/>
<ellipse cx="1204.3" cy="305" rx="27.7" ry="14.4" fill="none" stroke="#2aaef2" stroke-width="2.2" opacity="0.9"/>
<path d="M1070.27 195.27h2.85v2.85h-2.85zM1164.69 272.69h2.61v2.61h-2.61zM1215.04 290.04h3.31v3.31h-3.31zM1036.75 277.75h2.5v2.5h-2.5z" fill="#ee1020"/>
</g>
<clipPath id="cp_b01"><rect x="1282.5" y="104" width="278.5" height="233.5"/></clipPath>
<g clip-path="url(#cp_b01)">
<rect x="1282.5" y="104" width="278.5" height="233.5" fill="#000"/>
<ellipse cx="1409.3" cy="136.7" rx="27" ry="23" transform="rotate(25 1409.3 136.7)" fill="#1c86d6" filter="url(#texb)"/>
<ellipse cx="1409.3" cy="136.7" rx="26.4" ry="22.4" transform="rotate(25 1409.3 136.7)" fill="none" stroke="#2aaef2" stroke-width="2.2" opacity="0.9"/>
<ellipse cx="1416.7" cy="266.7" rx="22" ry="30" fill="#1c86d6" filter="url(#texb)"/>
<ellipse cx="1416.7" cy="266.7" rx="21.4" ry="29.4" fill="none" stroke="#2aaef2" stroke-width="2.2" opacity="0.9"/>
<ellipse cx="1568" cy="197" rx="14" ry="19" fill="#1c86d6" filter="url(#texb)"/>
<ellipse cx="1568" cy="197" rx="13.4" ry="18.4" fill="none" stroke="#2aaef2" stroke-width="2.2" opacity="0.9"/>
<ellipse cx="1305" cy="345" rx="22" ry="20" fill="#1c86d6" filter="url(#texb)"/>
<ellipse cx="1305" cy="345" rx="21.4" ry="19.4" fill="none" stroke="#2aaef2" stroke-width="2.2" opacity="0.9"/>
<path d="M1373.42 132.72h3.15v3.15h-3.15zM1372.54 208.54h2.91v2.91h-2.91zM1369.46 255.46h2.48v2.48h-2.48zM1296.74 287.74h3.11v3.11h-3.11zM1433.77 285.77h2.45v2.45h-2.45zM1430.5 292.5h3.01v3.01h-3.01zM1548.75 209.75h2.5v2.5h-2.5z" fill="#ee1020"/>
</g>
<clipPath id="cp_b02"><rect x="1575" y="104" width="277.4" height="233.5"/></clipPath>
<g clip-path="url(#cp_b02)">
<rect x="1575" y="104" width="277.4" height="233.5" fill="#000"/>
<ellipse cx="1614" cy="144" rx="32.5" ry="22.5" transform="rotate(-10 1614 144)" fill="#22a4ee" filter="url(#tex2)"/>
<ellipse cx="1614" cy="144" rx="31.9" ry="21.9" transform="rotate(-10 1614 144)" fill="none" stroke="#2cb4f4" stroke-width="2"/>
<ellipse cx="1650" cy="122" rx="27" ry="12" transform="rotate(-20 1650 122)" fill="#1a7fcf" filter="url(#texm)"/>
<ellipse cx="1681" cy="166" rx="31" ry="18" fill="#1c86d6" filter="url(#texb)"/>
<ellipse cx="1681" cy="166" rx="30.4" ry="17.4" fill="none" stroke="#2aaef2" stroke-width="2.2" opacity="0.9"/>
<ellipse cx="1672" cy="202" rx="25" ry="13" transform="rotate(-30 1672 202)" fill="#1a7fcf" filter="url(#texm)"/>
<ellipse cx="1748" cy="275" rx="17" ry="20" transform="rotate(20 1748 275)" fill="#1a7fcf" filter="url(#texm)"/>
<ellipse cx="1774" cy="268" rx="24" ry="25" fill="#1c86d6" filter="url(#texb)"/>
<ellipse cx="1774" cy="268" rx="23.4" ry="24.4" fill="none" stroke="#2aaef2" stroke-width="2.2" opacity="0.9"/>
<ellipse cx="1613" cy="190" rx="16" ry="2" fill="#0d4a8c" opacity="0.75" filter="url(#tex3)"/>
<ellipse cx="1832" cy="104" rx="20" ry="6" fill="#1c86d6" filter="url(#texb)"/>
<ellipse cx="1832" cy="104" rx="19.4" ry="5.4" fill="none" stroke="#2aaef2" stroke-width="2.2" opacity="0.9"/>
<path d="M1635.44 128.04h2.53v2.53h-2.53zM1726.8 291.8h2.99v2.99h-2.99zM1786.52 297.52h3.56v3.56h-3.56zM1750.41 248.71h2.57v2.57h-2.57z" fill="#ee1020"/>
</g>
<clipPath id="cp_b03"><rect x="1865" y="104" width="277" height="233.5"/></clipPath>
<g clip-path="url(#cp_b03)">
<rect x="1865" y="104" width="277" height="233.5" fill="#000"/>
<ellipse cx="1982" cy="106" rx="23" ry="17" fill="#1c86d6" filter="url(#texb)"/>
<ellipse cx="1982" cy="106" rx="22.4" ry="16.4" fill="none" stroke="#2aaef2" stroke-width="2.2" opacity="0.9"/>
<ellipse cx="2035" cy="160" rx="25" ry="25" fill="#0d4a8c" opacity="0.75" filter="url(#tex3)"/>
<ellipse cx="2082" cy="170" rx="24" ry="30" fill="#1c86d6" filter="url(#texb)"/>
<ellipse cx="2082" cy="170" rx="23.4" ry="29.4" fill="none" stroke="#2aaef2" stroke-width="2.2" opacity="0.9"/>
<ellipse cx="1936.7" cy="226" rx="21.7" ry="29" fill="#1c86d6" filter="url(#texb)"/>
<ellipse cx="1936.7" cy="226" rx="21.1" ry="28.4" fill="none" stroke="#2aaef2" stroke-width="2.2" opacity="0.9"/>
<ellipse cx="1970" cy="227" rx="9" ry="27" transform="rotate(-25 1970 227)" fill="#1a7fcf" filter="url(#texm)"/>
<ellipse cx="2115" cy="345" rx="25" ry="30" fill="#1c86d6" filter="url(#texb)"/>
<ellipse cx="2115" cy="345" rx="24.4" ry="29.4" fill="none" stroke="#2aaef2" stroke-width="2.2" opacity="0.9"/>
<path d="M1977.94 261.34h2.71v2.71h-2.71zM2001.66 264.06h3.28v3.28h-3.28z" fill="#ee1020"/>
</g>
<clipPath id="cp_b10"><rect x="992" y="348" width="278" height="231.5"/></clipPath>
<g clip-path="url(#cp_b10)">
<rect x="992" y="348" width="278" height="231.5" fill="#000"/>
<ellipse cx="1220" cy="360" rx="20.5" ry="22" fill="#1c86d6" filter="url(#texb)"/>
<ellipse cx="1220" cy="360" rx="19.9" ry="21.4" fill="none" stroke="#2aaef2" stroke-width="2.2" opacity="0.9"/>
<ellipse cx="1067.7" cy="449.7" rx="28.3" ry="29.7" fill="#1c86d6" filter="url(#texb)"/>
<ellipse cx="1067.7" cy="449.7" rx="27.7" ry="29.1" fill="none" stroke="#2aaef2" stroke-width="2.2" opacity="0.9"/>
<ellipse cx="1176.3" cy="489.2" rx="26.3" ry="24.2" transform="rotate(10 1176.3 489.2)" fill="#1c86d6" filter="url(#texb)"/>
<ellipse cx="1176.3" cy="489.2" rx="25.7" ry="23.6" transform="rotate(10 1176.3 489.2)" fill="none" stroke="#2aaef2" stroke-width="2.2" opacity="0.9"/>
<ellipse cx="1114" cy="582" rx="6" ry="4" fill="#1c86d6" filter="url(#texb)"/>
<ellipse cx="1114" cy="582" rx="5.4" ry="3.4" fill="none" stroke="#2aaef2" stroke-width="2.2" opacity="0.9"/>
<path d="M1082.44 390.84h3.73v3.73h-3.73zM1114.4 490.1h3.21v3.21h-3.21zM1145.22 493.52h2.96v2.96h-2.96zM1121.42 576.42h3.77v3.77h-3.77z" fill="#ee1020"/>
</g>
<clipPath id="cp_b11"><rect x="1282.5" y="348" width="278.5" height="231.5"/></clipPath>
<g clip-path="url(#cp_b11)">
<rect x="1282.5" y="348" width="278.5" height="231.5" fill="#000"/>
<ellipse cx="1506" cy="350" rx="18" ry="14" fill="#1c86d6" filter="url(#texb)"/>
<ellipse cx="1506" cy="350" rx="17.4" ry="13.4" fill="none" stroke="#2aaef2" stroke-width="2.2" opacity="0.9"/>
<ellipse cx="1383" cy="412.7" rx="24.7" ry="26.7" fill="#1c86d6" filter="url(#texb)"/>
<ellipse cx="1383" cy="412.7" rx="24.1" ry="26.1" fill="none" stroke="#2aaef2" stroke-width="2.2" opacity="0.9"/>
<ellipse cx="1498" cy="428.3" rx="26.3" ry="18.3" fill="#1c86d6" filter="url(#texb)"/>
<ellipse cx="1498" cy="428.3" rx="25.7" ry="17.7" fill="none" stroke="#2aaef2" stroke-width="2.2" opacity="0.9"/>
<ellipse cx="1307.5" cy="486.7" rx="19.2" ry="17.3" fill="#1c86d6" filter="url(#texb)"/>
<ellipse cx="1307.5" cy="486.7" rx="18.6" ry="16.7" fill="none" stroke="#2aaef2" stroke-width="2.2" opacity="0.9"/>
<ellipse cx="1333" cy="488" rx="3" ry="3" fill="#1c86d6" filter="url(#texb)"/>
<ellipse cx="1333" cy="488" rx="2.4" ry="2.4" fill="none" stroke="#2aaef2" stroke-width="2.2" opacity="0.9"/>
<ellipse cx="1330.7" cy="500" rx="3" ry="3" fill="#1c86d6" filter="url(#texb)"/>
<ellipse cx="1330.7" cy="500" rx="2.4" ry="2.4" fill="none" stroke="#2aaef2" stroke-width="2.2" opacity="0.9"/>
<ellipse cx="1422" cy="560" rx="26" ry="26" fill="#1c86d6" filter="url(#texb)"/>
<ellipse cx="1422" cy="560" rx="25.4" ry="25.4" fill="none" stroke="#2aaef2" stroke-width="2.2" opacity="0.9"/>
<ellipse cx="1293" cy="576" rx="18" ry="18" fill="#1c86d6" filter="url(#texb)"/>
<ellipse cx="1293" cy="576" rx="17.4" ry="17.4" fill="none" stroke="#2aaef2" stroke-width="2.2" opacity="0.9"/>
<path d="M1344.77 371.07h2.47v2.47h-2.47zM1466.5 358.9h3.6v3.6h-3.6zM1416.9 529.3h2.81v2.81h-2.81zM1322 576h2.6v2.6h-2.6z" fill="#ee1020"/>
</g>
<clipPath id="cp_b12"><rect x="1575" y="348" width="277.4" height="231.5"/></clipPath>
<g clip-path="url(#cp_b12)">
<rect x="1575" y="348" width="277.4" height="231.5" fill="#000"/>
<ellipse cx="1752" cy="400" rx="30" ry="18" fill="#0d4a8c" opacity="0.75" filter="url(#tex3)"/>
<ellipse cx="1740" cy="435" rx="30" ry="25" transform="rotate(-10 1740 435)" fill="#1c86d6" filter="url(#texb)"/>
<ellipse cx="1740" cy="435" rx="29.4" ry="24.4" transform="rotate(-10 1740 435)" fill="none" stroke="#2aaef2" stroke-width="2.2" opacity="0.9"/>
<ellipse cx="1640" cy="468" rx="22" ry="25" fill="#0d4a8c" opacity="0.75" filter="url(#tex3)"/>
<ellipse cx="1680.3" cy="485.5" rx="23" ry="30.5" fill="#1c86d6" filter="url(#texb)"/>
<ellipse cx="1680.3" cy="485.5" rx="22.4" ry="29.9" fill="none" stroke="#2aaef2" stroke-width="2.2" opacity="0.9"/>
<ellipse cx="1765" cy="529" rx="20" ry="26" fill="#1c86d6" filter="url(#texb)"/>
<ellipse cx="1765" cy="529" rx="19.4" ry="25.4" fill="none" stroke="#2aaef2" stroke-width="2.2" opacity="0.9"/>
<ellipse cx="1762" cy="565" rx="16" ry="14" fill="#0d4a8c" opacity="0.75" filter="url(#tex3)"/>
<path d="M1784.72 383.72h2.56v2.56h-2.56zM1792.58 434.58h2.83v2.83h-2.83zM1626.53 487.53h3.54v3.54h-3.54z" fill="#ee1020"/>
</g>
<clipPath id="cp_b13"><rect x="1865" y="348" width="277" height="231.5"/></clipPath>
<g clip-path="url(#cp_b13)">
<rect x="1865" y="348" width="277" height="231.5" fill="#000"/>
<ellipse cx="2011.7" cy="425" rx="28" ry="23.3" fill="#1c86d6" filter="url(#texb)"/>
<ellipse cx="2011.7" cy="425" rx="27.4" ry="22.7" fill="none" stroke="#2aaef2" stroke-width="2.2" opacity="0.9"/>
<ellipse cx="2027" cy="455" rx="32" ry="15" fill="#1a7fcf" filter="url(#texm)"/>
<ellipse cx="2140" cy="439" rx="30" ry="26" fill="#1c86d6" filter="url(#texb)"/>
<ellipse cx="2140" cy="439" rx="29.4" ry="25.4" fill="none" stroke="#2aaef2" stroke-width="2.2" opacity="0.9"/>
<ellipse cx="2142" cy="366" rx="9" ry="11" fill="#1c86d6" filter="url(#texb)"/>
<ellipse cx="2142" cy="366" rx="8.4" ry="10.4" fill="none" stroke="#2aaef2" stroke-width="2.2" opacity="0.9"/>
<ellipse cx="2142" cy="401" rx="9" ry="11" fill="#1c86d6" filter="url(#texb)"/>
<ellipse cx="2142" cy="401" rx="8.4" ry="10.4" fill="none" stroke="#2aaef2" stroke-width="2.2" opacity="0.9"/>
<ellipse cx="1960" cy="510" rx="30" ry="35" fill="#0d4a8c" opacity="0.75" filter="url(#tex3)"/>
<ellipse cx="1939" cy="527.7" rx="27.5" ry="28.3" fill="#1c86d6" filter="url(#texb)"/>
<ellipse cx="1939" cy="527.7" rx="26.9" ry="27.7" fill="none" stroke="#2aaef2" stroke-width="2.2" opacity="0.9"/>
<ellipse cx="2015" cy="585" rx="20" ry="17" fill="#1c86d6" filter="url(#texb)"/>
<ellipse cx="2015" cy="585" rx="19.4" ry="16.4" fill="none" stroke="#2aaef2" stroke-width="2.2" opacity="0.9"/>
<path d="M1994.67 387.67h2.65v2.65h-2.65zM2030.09 401.09h3.21v3.21h-3.21zM1975.65 487.35h3.29v3.29h-3.29z" fill="#ee1020"/>
</g>
<clipPath id="cp_b20"><rect x="992" y="593" width="278" height="232"/></clipPath>
<g clip-path="url(#cp_b20)">
<rect x="992" y="593" width="278" height="232" fill="#000"/>
<ellipse cx="1201" cy="649.3" rx="25" ry="28.3" fill="#1c86d6" filter="url(#texb)"/>
<ellipse cx="1201" cy="649.3" rx="24.4" ry="27.7" fill="none" stroke="#2aaef2" stroke-width="2.2" opacity="0.9"/>
<ellipse cx="1063.3" cy="713.7" rx="26" ry="28.7" fill="#1c86d6" filter="url(#texb)"/>
<ellipse cx="1063.3" cy="713.7" rx="25.4" ry="28.1" fill="none" stroke="#2aaef2" stroke-width="2.2" opacity="0.9"/>
<ellipse cx="1140.3" cy="776.3" rx="29.7" ry="25.3" fill="#1c86d6" filter="url(#texb)"/>
<ellipse cx="1140.3" cy="776.3" rx="29.1" ry="24.7" fill="none" stroke="#2aaef2" stroke-width="2.2" opacity="0.9"/>
<path d="M1172.54 618.54h2.92v2.92h-2.92z" fill="#ee1020"/>
</g>
<clipPath id="cp_b21"><rect x="1282.5" y="593" width="278.5" height="232"/></clipPath>
<g clip-path="url(#cp_b21)">
<rect x="1282.5" y="593" width="278.5" height="232" fill="#000"/>
<ellipse cx="1349.5" cy="657" rx="28.8" ry="27.2" transform="rotate(10 1349.5 657)" fill="#1c86d6" filter="url(#texb)"/>
<ellipse cx="1349.5" cy="657" rx="28.2" ry="26.6" transform="rotate(10 1349.5 657)" fill="none" stroke="#2aaef2" stroke-width="2.2" opacity="0.9"/>
<ellipse cx="1416.7" cy="755" rx="26.7" ry="26.7" fill="#1c86d6" filter="url(#texb)"/>
<ellipse cx="1416.7" cy="755" rx="26.1" ry="26.1" fill="none" stroke="#2aaef2" stroke-width="2.2" opacity="0.9"/>
<ellipse cx="1528" cy="823" rx="23" ry="22" fill="#1c86d6" filter="url(#texb)"/>
<ellipse cx="1528" cy="823" rx="22.4" ry="21.4" fill="none" stroke="#2aaef2" stroke-width="2.2" opacity="0.9"/>
<ellipse cx="1568" cy="680" rx="10" ry="16" fill="#1c86d6" filter="url(#texb)"/>
<ellipse cx="1568" cy="680" rx="9.4" ry="15.4" fill="none" stroke="#2aaef2" stroke-width="2.2" opacity="0.9"/>
<path d="M1401.72 788.42h3.17v3.17h-3.17zM1395.46 755.46h2.49v2.49h-2.49z" fill="#ee1020"/>
</g>
<clipPath id="cp_b22"><rect x="1575" y="593" width="277.4" height="232"/></clipPath>
<g clip-path="url(#cp_b22)">
<rect x="1575" y="593" width="277.4" height="232" fill="#000"/>
<ellipse cx="1705" cy="695" rx="38" ry="35" fill="#0d4a8c" opacity="0.75" filter="url(#tex3)"/>
<ellipse cx="1700" cy="778" rx="40" ry="12" fill="#0d4a8c" opacity="0.75" filter="url(#tex3)"/>
<ellipse cx="1608.7" cy="612" rx="25.3" ry="26" fill="#1c86d6" filter="url(#texb)"/>
<ellipse cx="1608.7" cy="612" rx="24.7" ry="25.4" fill="none" stroke="#2aaef2" stroke-width="2.2" opacity="0.9"/>
<ellipse cx="1774.5" cy="695.8" rx="26.2" ry="29.2" fill="#22a4ee" filter="url(#tex2)"/>
<ellipse cx="1774.5" cy="695.8" rx="25.6" ry="28.6" fill="none" stroke="#2cb4f4" stroke-width="2"/>
<ellipse cx="1639.2" cy="768.8" rx="25.8" ry="24.5" fill="#1c86d6" filter="url(#texb)"/>
<ellipse cx="1639.2" cy="768.8" rx="25.2" ry="23.9" fill="none" stroke="#2aaef2" stroke-width="2.2" opacity="0.9"/>
<ellipse cx="1812" cy="835" rx="20" ry="20" fill="#1c86d6" filter="url(#texb)"/>
<ellipse cx="1812" cy="835" rx="19.4" ry="19.4" fill="none" stroke="#2aaef2" stroke-width="2.2" opacity="0.9"/>
<path d="M1728.76 720.46h2.48v2.48h-2.48zM1775.36 788.66h2.69v2.69h-2.69z" fill="#ee1020"/>
</g>
<clipPath id="cp_b23"><rect x="1865" y="593" width="277" height="232"/></clipPath>
<g clip-path="url(#cp_b23)">
<rect x="1865" y="593" width="277" height="232" fill="#000"/>
<ellipse cx="1977.5" cy="661" rx="24.2" ry="26.7" fill="#1c86d6" filter="url(#texb)"/>
<ellipse cx="1977.5" cy="661" rx="23.6" ry="26.1" fill="none" stroke="#2aaef2" stroke-width="2.2" opacity="0.9"/>
<ellipse cx="2010.3" cy="759.5" rx="29.7" ry="27.2" fill="#22a4ee" filter="url(#tex2)"/>
<ellipse cx="2010.3" cy="759.5" rx="29.1" ry="26.6" fill="none" stroke="#2cb4f4" stroke-width="2"/>
<ellipse cx="1937" cy="710" rx="9" ry="24" transform="rotate(25 1937 710)" fill="#1a7fcf" filter="url(#texk)"/>
<ellipse cx="2023" cy="806" rx="36" ry="14" transform="rotate(-15 2023 806)" fill="#0d4a8c" opacity="0.75" filter="url(#tex3)"/>
<path d="M1951.62 665.02h3.35v3.35h-3.35zM2008.5 763.5h3v3h-3z" fill="#ee1020"/>
</g>
<rect x="1172" y="327.6" width="88" height="3.6" fill="#ececec"/>
<clipPath id="cp_d00"><rect x="992" y="989" width="278" height="233"/></clipPath>
<g clip-path="url(#cp_d00)">
<rect x="992" y="989" width="278" height="233" fill="#070000"/>
<ellipse cx="1116" cy="993" rx="24" ry="24" fill="#1c86d6" filter="url(#texd)"/>
<ellipse cx="1116" cy="993" rx="23.4" ry="23.4" fill="none" stroke="#2ec2ee" stroke-width="2.2" opacity="0.9"/>
<ellipse cx="1166" cy="1054.7" rx="28" ry="19.7" transform="rotate(-10 1166 1054.7)" fill="#1c86d6" filter="url(#texd)"/>
<ellipse cx="1166" cy="1054.7" rx="27.4" ry="19.1" transform="rotate(-10 1166 1054.7)" fill="none" stroke="#2ec2ee" stroke-width="2.2" opacity="0.9"/>
<ellipse cx="1075" cy="1103.3" rx="34.7" ry="14" transform="rotate(35 1075 1103.3)" fill="#1c86d6" filter="url(#texd)"/>
<ellipse cx="1075" cy="1103.3" rx="34.1" ry="13.4" transform="rotate(35 1075 1103.3)" fill="none" stroke="#2ec2ee" stroke-width="2.2" opacity="0.9"/>
<ellipse cx="1169.7" cy="1105" rx="26.3" ry="18.3" transform="rotate(5 1169.7 1105)" fill="#1c86d6" filter="url(#texd)"/>
<ellipse cx="1169.7" cy="1105" rx="25.7" ry="17.7" transform="rotate(5 1169.7 1105)" fill="none" stroke="#2ec2ee" stroke-width="2.2" opacity="0.9"/>
<ellipse cx="1166.7" cy="1166.3" rx="27.3" ry="22" transform="rotate(15 1166.7 1166.3)" fill="#1c86d6" filter="url(#texd)"/>
<ellipse cx="1166.7" cy="1166.3" rx="26.7" ry="21.4" transform="rotate(15 1166.7 1166.3)" fill="none" stroke="#2ec2ee" stroke-width="2.2" opacity="0.9"/>
<ellipse cx="1068" cy="1196" rx="16" ry="29" transform="rotate(-20 1068 1196)" fill="#1c86d6" filter="url(#texd)"/>
<ellipse cx="1068" cy="1196" rx="15.4" ry="28.4" transform="rotate(-20 1068 1196)" fill="none" stroke="#2ec2ee" stroke-width="2.2" opacity="0.9"/>
<ellipse cx="1000" cy="1205" rx="15" ry="25" fill="#1c86d6" filter="url(#texd)"/>
<ellipse cx="1000" cy="1205" rx="14.4" ry="24.4" fill="none" stroke="#2ec2ee" stroke-width="2.2" opacity="0.9"/>
<ellipse cx="1270" cy="1025" rx="8" ry="20" fill="#1c86d6" filter="url(#texd)"/>
<ellipse cx="1270" cy="1025" rx="7.4" ry="19.4" fill="none" stroke="#2ec2ee" stroke-width="2.2" opacity="0.9"/>
<ellipse cx="1270" cy="1088" rx="8" ry="14" fill="#1c86d6" filter="url(#texd)"/>
<ellipse cx="1270" cy="1088" rx="7.4" ry="13.4" fill="none" stroke="#2ec2ee" stroke-width="2.2" opacity="0.9"/>
<ellipse cx="1256" cy="990" rx="13" ry="6" fill="#1c86d6" filter="url(#texd)"/>
<ellipse cx="1256" cy="990" rx="12.4" ry="5.4" fill="none" stroke="#2ec2ee" stroke-width="2.2" opacity="0.9"/>
<path d="M1119.33 1023.6h2.13v2.13h-2.13zM1112.14 1013.76h2.19v2.19h-2.19zM1136.05 996.22h2.63v2.63h-2.63zM1129.49 1024.22h2.82v2.82h-2.82zM1098.87 1007.78h3.13v3.13h-3.13zM1126.36 1000.99h2.87v2.87h-2.87zM1139.52 1009.84h2.78v2.78h-2.78zM1104.3 1018.25h2.92v2.92h-2.92zM1141.65 1021h2.55v2.55h-2.55zM1154.04 1014.26h2.66v2.66h-2.66zM1131.19 997.41h2.05v2.05h-2.05zM1141.24 1003.42h2.94v2.94h-2.94zM1120.55 997.79h2.28v2.28h-2.28zM1109.5 1004.6h3.1v3.1h-3.1zM1145.27 995.84h2.77v2.77h-2.77zM1188.08 1163.67h2.36v2.36h-2.36zM1238.8 1166.29h2.15v2.15h-2.15zM1194.64 1150.71h2.3v2.3h-2.3zM1221.07 1154.9h2.76v2.76h-2.76zM1193.87 1169.11h2.84v2.84h-2.84zM1235.46 1163.28h2.13v2.13h-2.13zM1219.35 1166.13h2.08v2.08h-2.08zM1239.83 1166.13h2.63v2.63h-2.63zM1224.6 1166.71h2.7v2.7h-2.7zM1190.64 1170.04h2.47v2.47h-2.47zM1232.62 1166.42h2.27v2.27h-2.27zM1185 1157.62h2.72v2.72h-2.72zM1226.54 1150.19h2.01v2.01h-2.01zM1210.16 1170.7h2.36v2.36h-2.36zM1141.79 1076.6h2.55v2.55h-2.55zM1182.17 1051.37h3.15v3.15h-3.15zM1175.66 1067.54h2.77v2.77h-2.77zM1169.53 1075.25h3.06v3.06h-3.06zM1148.47 1046.55h2.57v2.57h-2.57zM1194.04 1055.36h2.28v2.28h-2.28zM1145.32 1071.38h2.3v2.3h-2.3zM1199.82 1047.18h3.15v3.15h-3.15zM1133.73 1052.29h2.85v2.85h-2.85zM1162.45 1048.58h2.37v2.37h-2.37zM1196.93 1039.35h2.03v2.03h-2.03zM1193.15 1035.69h2.6v2.6h-2.6zM1145.9 1066.45h2.81v2.81h-2.81zM1193.56 1117.29h2.5v2.5h-2.5zM1179.48 1107.42h2.31v2.31h-2.31zM1174.32 1114.72h2.8v2.8h-2.8zM1166.02 1109.48h3.11v3.11h-3.11zM1184.87 1104.88h2.27v2.27h-2.27zM1188.42 1114.31h2.04v2.04h-2.04zM1204.03 1108.68h2.41v2.41h-2.41zM1160.29 1098.16h2.5v2.5h-2.5zM1170.29 1119.91h2.82v2.82h-2.82zM1162.59 1111.75h2.24v2.24h-2.24zM1102.9 1087.46h2.96v2.96h-2.96zM1050.01 1112.39h2.89v2.89h-2.89zM1090.22 1112.97h2.61v2.61h-2.61zM1067 1120.05h2.25v2.25h-2.25zM1086.44 1099.23h3.16v3.16h-3.16zM1119.34 1112.48h2.37v2.37h-2.37zM1062.68 1106.75h2.98v2.98h-2.98zM1072.21 1107.72h2.28v2.28h-2.28zM1044.65 1183.31h2.27v2.27h-2.27zM1089.9 1168.33h2.91v2.91h-2.91zM1072.56 1208.15h2.35v2.35h-2.35zM1086.55 1212.81h3.14v3.14h-3.14zM1047.78 1182.96h2.59v2.59h-2.59zM1067.09 1202.15h2.22v2.22h-2.22zM1085.09 1159.45h2.27v2.27h-2.27zM1204.3 1019.82h2.5v2.5h-2.5zM1178.73 1012.57h2.8v2.8h-2.8zM1143.1 1176.73h3.14v3.14h-3.14zM1114.24 1113.67h2.18v2.18h-2.18zM1201.63 1108.92h2.47v2.47h-2.47zM1122.16 1190.26h2.26v2.26h-2.26zM1218.57 1078.57h3.17v3.17h-3.17zM1257.32 1056.77h2.17v2.17h-2.17zM1210.15 1080.44h2.06v2.06h-2.06zM1141.27 1150.46h2.07v2.07h-2.07zM1149.56 1145.73h2.47v2.47h-2.47zM1033.98 1025.09h3.08v3.08h-3.08zM1180.64 1034.27h3.06v3.06h-3.06zM1093.68 961.65h2.88v2.88h-2.88zM1140.44 974.83h3.2v3.2h-3.2zM1114.47 960.37h3.12v3.12h-3.12zM1095 1026.52h2.4v2.4h-2.4zM1158.29 984.08h2.22v2.22h-2.22zM1112.99 982.37h3.12v3.12h-3.12zM1136.66 1022.45h2.9v2.9h-2.9zM1121.97 973.14h2.04v2.04h-2.04zM1145.2 987.8h2.8v2.8h-2.8zM1129.97 1008.16h2.45v2.45h-2.45zM1094.85 964.47h2.45v2.45h-2.45zM1148.44 976.9h2.4v2.4h-2.4zM1123.96 1028.16h2.2v2.2h-2.2zM1107.01 1020.88h2v2h-2zM1096.15 1002.26h2.34v2.34h-2.34zM1098.33 1013.35h2.42v2.42h-2.42zM1076.33 969.42h3.15v3.15h-3.15zM1080.58 991.57h2.15v2.15h-2.15zM1100.51 989.35h3.16v3.16h-3.16zM1122.9 1009.83h2.25v2.25h-2.25zM1126.48 1013.81h2.43v2.43h-2.43zM1149.9 1082.73h2.99v2.99h-2.99zM1126.5 1050.33h2.99v2.99h-2.99zM1169.55 1078.73h2.52v2.52h-2.52zM1165.73 1020.78h2.06v2.06h-2.06zM1191.6 1035.74h2.57v2.57h-2.57zM1126.77 1038.88h2.45v2.45h-2.45zM1139.04 1063.55h3.1v3.1h-3.1zM1131.63 1062.86h2.23v2.23h-2.23zM1209.58 1032.62h2.44v2.44h-2.44zM1135.36 1050.39h3.08v3.08h-3.08zM1190.74 1065.15h2.04v2.04h-2.04zM1205.47 1059.92h2.49v2.49h-2.49zM1167.62 1028.29h2.97v2.97h-2.97zM1184.48 1067.61h2.92v2.92h-2.92zM1186.04 1034.36h2.05v2.05h-2.05zM1176.73 1078.46h2.04v2.04h-2.04zM1199.37 1045.99h2.08v2.08h-2.08zM1188.16 1072.03h3.1v3.1h-3.1zM1177.17 1070.04h2.31v2.31h-2.31zM1159.16 1041.2h2.9v2.9h-2.9zM1151.87 1059.15h3.08v3.08h-3.08zM1042.42 1054.32h2.41v2.41h-2.41zM1095.17 1092.8h2.33v2.33h-2.33zM1103.43 1140.6h3.15v3.15h-3.15zM1066.96 1107h2.74v2.74h-2.74zM1106.26 1114.53h2.31v2.31h-2.31zM1064.99 1111.18h2.86v2.86h-2.86zM1049.78 1077.36h2.38v2.38h-2.38zM1070.4 1083.39h2.33v2.33h-2.33zM1106.73 1136.39h2v2h-2zM1105.5 1137.57h2.91v2.91h-2.91zM1103.93 1132.42h3.1v3.1h-3.1zM1047.76 1077.84h2.76v2.76h-2.76zM1066.26 1107.62h3.13v3.13h-3.13zM1071.58 1107.5h2.03v2.03h-2.03zM1100.72 1126.8h2.28v2.28h-2.28zM1086.39 1088.62h2.57v2.57h-2.57zM1058.49 1091.26h3.15v3.15h-3.15zM1119.28 1137.1h3.14v3.14h-3.14zM1048.83 1079.11h2.46v2.46h-2.46zM1026.82 1073.54h2.3v2.3h-2.3zM1030.96 1082.43h2.52v2.52h-2.52zM1108.6 1102.34h2.59v2.59h-2.59zM1101.96 1119.87h3.11v3.11h-3.11zM1186.53 1085.48h2.22v2.22h-2.22zM1161.92 1108.74h2.96v2.96h-2.96zM1198.02 1116.39h2.89v2.89h-2.89zM1167.31 1109.94h2.99v2.99h-2.99zM1185.74 1087.7h2.93v2.93h-2.93zM1167.94 1126.93h2.73v2.73h-2.73zM1153.31 1105.2h2.39v2.39h-2.39zM1162.83 1130.92h2.38v2.38h-2.38zM1167.77 1122.94h2.43v2.43h-2.43zM1152.84 1125.97h2.94v2.94h-2.94zM1143.76 1104.55h2.09v2.09h-2.09zM1176.95 1127.41h2.24v2.24h-2.24zM1188.71 1114.77h2.9v2.9h-2.9zM1180.94 1107.3h2.3v2.3h-2.3zM1170.75 1134.96h2.08v2.08h-2.08zM1154.5 1086.05h2.04v2.04h-2.04zM1199.5 1086.79h2.66v2.66h-2.66zM1198.37 1137.63h2.39v2.39h-2.39zM1155.43 1090.17h3.18v3.18h-3.18zM1190.07 1156.66h3.06v3.06h-3.06zM1187.26 1201.57h3.19v3.19h-3.19zM1133.22 1155.71h2.32v2.32h-2.32zM1130.95 1135.95h2.1v2.1h-2.1zM1160.25 1143.76h2.12v2.12h-2.12zM1179.69 1186.79h2.6v2.6h-2.6zM1192.01 1193.53h2.85v2.85h-2.85zM1148.42 1141.37h2.54v2.54h-2.54zM1143.71 1160.56h2.28v2.28h-2.28zM1174.07 1131.05h2.5v2.5h-2.5zM1189.23 1181.39h2.74v2.74h-2.74zM1162.43 1174.89h2.81v2.81h-2.81zM1167.55 1142.24h2.9v2.9h-2.9zM1107.42 1151.19h3.02v3.02h-3.02zM1137.97 1160.62h2.8v2.8h-2.8zM1160.88 1156.91h2.15v2.15h-2.15zM1155.23 1197.87h3.01v3.01h-3.01zM1149.77 1184.69h2.35v2.35h-2.35zM1156.93 1184.47h2.68v2.68h-2.68zM1161.07 1140.74h2.45v2.45h-2.45zM1125.47 1161.59h2.89v2.89h-2.89zM1090.7 1214.23h2.24v2.24h-2.24zM1072.82 1185.48h2.3v2.3h-2.3zM1061.34 1137.32h2.29v2.29h-2.29zM1053.25 1211.65h2.18v2.18h-2.18zM1093.07 1244.68h3.06v3.06h-3.06zM1086.9 1215.58h2.69v2.69h-2.69zM1064.2 1167.28h2.39v2.39h-2.39zM1071.99 1171.47h2.48v2.48h-2.48zM1062.14 1196.77h3.19v3.19h-3.19zM1039.09 1207.81h2.61v2.61h-2.61zM1069.26 1209.29h2.28v2.28h-2.28zM1071.63 1240.66h2.97v2.97h-2.97zM1066.23 1171.16h2.78v2.78h-2.78zM1053.84 1170.2h3.19v3.19h-3.19zM1080.12 1257.12h2.12v2.12h-2.12zM1031.09 1175.24h2.57v2.57h-2.57zM1055.95 1213.84h2.98v2.98h-2.98zM1065.56 1167.91h3.01v3.01h-3.01zM1076.4 1178.64h3.1v3.1h-3.1zM1088.91 1229.6h2.05v2.05h-2.05zM1016.02 1195.73h2.35v2.35h-2.35zM1018.67 1184.03h2.14v2.14h-2.14zM975.37 1191.36h2.23v2.23h-2.23zM981.65 1212.33h3.17v3.17h-3.17zM980.83 1165.61h2.7v2.7h-2.7zM1011.63 1226.07h3.12v3.12h-3.12zM990.16 1225.29h2.45v2.45h-2.45zM996.39 1257.82h3.04v3.04h-3.04zM993.25 1231.37h2.54v2.54h-2.54zM1007.68 1227.59h2.31v2.31h-2.31zM1012.65 1187.75h2.93v2.93h-2.93zM1027.1 1202.37h3.13v3.13h-3.13zM1011.37 1228.86h2.13v2.13h-2.13zM1013.42 1219.51h2.72v2.72h-2.72zM997.43 1241.54h2.74v2.74h-2.74zM980.47 1222.59h2.26v2.26h-2.26zM983.44 1199.87h2.44v2.44h-2.44zM996.11 1230.68h2.17v2.17h-2.17zM1269.19 995.56h2.24v2.24h-2.24zM1259.27 998.24h2.31v2.31h-2.31zM1254.89 1000.65h2.72v2.72h-2.72zM1264.6 982.15h2.78v2.78h-2.78zM1264.68 989.5h2.24v2.24h-2.24zM1264.86 985.49h2.01v2.01h-2.01zM1245.17 992.41h2.39v2.39h-2.39zM1262.23 981.74h2.81v2.81h-2.81z" fill="#e8141c"/>
</g>
<clipPath id="cp_d01"><rect x="1282.5" y="989" width="278.5" height="233"/></clipPath>
<g clip-path="url(#cp_d01)">
<rect x="1282.5" y="989" width="278.5" height="233" fill="#070000"/>
<ellipse cx="1486" cy="990" rx="14" ry="6" fill="#1c86d6" filter="url(#texd)"/>
<ellipse cx="1486" cy="990" rx="13.4" ry="5.4" fill="none" stroke="#2ec2ee" stroke-width="2.2" opacity="0.9"/>
<ellipse cx="1368.8" cy="1098.3" rx="22.8" ry="30" fill="#1c86d6" filter="url(#texd)"/>
<ellipse cx="1368.8" cy="1098.3" rx="22.2" ry="29.4" fill="none" stroke="#2ec2ee" stroke-width="2.2" opacity="0.9"/>
<ellipse cx="1450.8" cy="1079.2" rx="25.8" ry="25.8" fill="#1c86d6" filter="url(#texd)"/>
<ellipse cx="1450.8" cy="1079.2" rx="25.2" ry="25.2" fill="none" stroke="#2ec2ee" stroke-width="2.2" opacity="0.9"/>
<ellipse cx="1520" cy="1167.8" rx="21.7" ry="25.5" transform="rotate(-15 1520 1167.8)" fill="#1c86d6" filter="url(#texd)"/>
<ellipse cx="1520" cy="1167.8" rx="21.1" ry="24.9" transform="rotate(-15 1520 1167.8)" fill="none" stroke="#2ec2ee" stroke-width="2.2" opacity="0.9"/>
<ellipse cx="1369.5" cy="1189" rx="22.2" ry="29" fill="#1c86d6" filter="url(#texd)"/>
<ellipse cx="1369.5" cy="1189" rx="21.6" ry="28.4" fill="none" stroke="#2ec2ee" stroke-width="2.2" opacity="0.9"/>
<ellipse cx="1472.5" cy="1215" rx="27.5" ry="26" fill="#1c86d6" filter="url(#texd)"/>
<ellipse cx="1472.5" cy="1215" rx="26.9" ry="25.4" fill="none" stroke="#2ec2ee" stroke-width="2.2" opacity="0.9"/>
<ellipse cx="1292" cy="1205" rx="18" ry="24" fill="#1c86d6" filter="url(#texd)"/>
<ellipse cx="1292" cy="1205" rx="17.4" ry="23.4" fill="none" stroke="#2ec2ee" stroke-width="2.2" opacity="0.9"/>
<path d="M1369.18 1123.18h2.9v2.9h-2.9zM1371.25 1139.89h2.2v2.2h-2.2zM1346.98 1094.91h2.99v2.99h-2.99zM1382.7 1116.39h3.13v3.13h-3.13zM1322.28 1086.88h2.47v2.47h-2.47zM1375.07 1109.27h2.5v2.5h-2.5zM1348.16 1069.56h3.01v3.01h-3.01zM1353.15 1124.73h2.63v2.63h-2.63zM1384.44 1090.99h2.47v2.47h-2.47zM1332.22 1086.79h3.13v3.13h-3.13zM1319.92 1120.9h2.93v2.93h-2.93zM1387.74 1098.18h2.41v2.41h-2.41zM1372.19 1137.58h2.29v2.29h-2.29zM1359.86 1102.32h2.4v2.4h-2.4zM1384.2 1080.63h2.52v2.52h-2.52zM1371.5 1070.76h3.18v3.18h-3.18zM1382.67 1076.64h2.97v2.97h-2.97zM1361.51 1103.44h3.1v3.1h-3.1zM1322.09 1086.28h2.98v2.98h-2.98zM1370.57 1090.8h3.02v3.02h-3.02zM1337.94 1078.67h2.06v2.06h-2.06zM1340.36 1098.18h2.62v2.62h-2.62zM1351.23 1132.32h3.15v3.15h-3.15zM1372.57 1091.3h3.12v3.12h-3.12zM1315.87 1101.42h2.3v2.3h-2.3zM1379.61 1094.34h2.51v2.51h-2.51zM1391.24 1131.92h2.76v2.76h-2.76zM1391.74 1093.68h2.44v2.44h-2.44zM1402.3 1113.88h2.64v2.64h-2.64zM1324.18 1128.52h2.08v2.08h-2.08zM1327.03 1068.83h2.52v2.52h-2.52zM1381.43 1134.66h2.61v2.61h-2.61zM1364.32 1129.05h2.02v2.02h-2.02zM1383.79 1062.98h2.17v2.17h-2.17zM1367.58 1118.88h3.16v3.16h-3.16zM1330.62 1118.88h2.93v2.93h-2.93zM1345.91 1109.69h3.12v3.12h-3.12zM1359.38 1139.48h2.76v2.76h-2.76zM1457.64 1073.39h2.97v2.97h-2.97zM1415.08 1064.51h3.06v3.06h-3.06zM1489.6 1087.59h3.06v3.06h-3.06zM1476.14 1100.9h2.04v2.04h-2.04zM1417.48 1068.33h2.77v2.77h-2.77zM1440.98 1104.38h2.32v2.32h-2.32zM1425.67 1065h2.81v2.81h-2.81zM1434.9 1055.24h2.33v2.33h-2.33zM1444.45 1081.1h2.65v2.65h-2.65zM1427.86 1058.48h3.11v3.11h-3.11zM1454.19 1115.17h2.75v2.75h-2.75zM1456.43 1050.92h2.3v2.3h-2.3zM1463.65 1104.8h2.62v2.62h-2.62zM1463.07 1088.12h2.52v2.52h-2.52zM1438.35 1083.8h3.14v3.14h-3.14zM1421.47 1089.53h2.35v2.35h-2.35zM1484.77 1087.31h2.37v2.37h-2.37zM1483.37 1096.38h2.78v2.78h-2.78zM1456.36 1049.34h2.14v2.14h-2.14zM1480.08 1088.61h2.71v2.71h-2.71zM1419.55 1106.86h3.15v3.15h-3.15zM1477.4 1108.05h2.62v2.62h-2.62zM1488.48 1077.96h2.32v2.32h-2.32zM1458.41 1061.75h2.56v2.56h-2.56zM1481.34 1075.31h2.64v2.64h-2.64zM1491.47 1068.09h2.18v2.18h-2.18zM1470.79 1111.04h2.15v2.15h-2.15zM1461.13 1074.38h2.16v2.16h-2.16zM1428.16 1108.25h2.35v2.35h-2.35zM1473.35 1112.17h2.49v2.49h-2.49zM1444.61 1116.29h2.35v2.35h-2.35zM1491.94 1220.54h2.29v2.29h-2.29zM1490.14 1197.34h2.11v2.11h-2.11zM1467.91 1224.94h2.66v2.66h-2.66zM1466.62 1208.72h3.01v3.01h-3.01zM1478.61 1214.6h2.73v2.73h-2.73zM1507.11 1194.04h2.68v2.68h-2.68zM1486.22 1196.08h2.78v2.78h-2.78zM1474.42 1193.95h2.24v2.24h-2.24zM1433 1198.98h2.85v2.85h-2.85zM1442.18 1225.35h2.55v2.55h-2.55zM1436.29 1195.91h2.66v2.66h-2.66zM1482.12 1197.1h2.74v2.74h-2.74zM1508.77 1202.67h2.56v2.56h-2.56zM1437.06 1220.33h2.37v2.37h-2.37zM1466.43 1233.58h2.29v2.29h-2.29zM1445.39 1195.46h2.27v2.27h-2.27zM1473.62 1183.83h2.61v2.61h-2.61zM1489.15 1226.95h2.46v2.46h-2.46zM1512.12 1211.76h2.7v2.7h-2.7zM1470.11 1227.97h2.01v2.01h-2.01zM1507.34 1201.49h2.42v2.42h-2.42zM1456.63 1189.11h3.03v3.03h-3.03zM1479.68 1203.92h2.29v2.29h-2.29zM1492.93 1222.66h2.67v2.67h-2.67zM1482.62 1031.99h2.59v2.59h-2.59zM1520.34 1017.62h2.34v2.34h-2.34zM1513.01 1045.81h3.19v3.19h-3.19zM1510.85 1024.02h2.35v2.35h-2.35zM1500.54 1030.75h2.93v2.93h-2.93zM1497.09 1034.27h2.19v2.19h-2.19zM1482.4 1013.18h2.08v2.08h-2.08zM1517.45 1044.68h3.05v3.05h-3.05zM1494.23 1025.35h2.53v2.53h-2.53zM1527.16 1018.6h2.07v2.07h-2.07zM1516.09 1030.76h2.47v2.47h-2.47zM1484.61 1003.79h2.53v2.53h-2.53zM1513.65 1006.17h2.88v2.88h-2.88zM1508.55 1026.92h2.13v2.13h-2.13zM1490.47 1007.28h2.27v2.27h-2.27zM1286.58 1212.7h3.15v3.15h-3.15zM1275.85 1205.93h2.89v2.89h-2.89zM1297.62 1188h2.19v2.19h-2.19zM1303.11 1196.17h2.4v2.4h-2.4zM1283.17 1196.03h2.42v2.42h-2.42zM1299.06 1203.89h2.81v2.81h-2.81zM1299.13 1196.23h2.74v2.74h-2.74zM1275.47 1191.78h3.02v3.02h-3.02zM1526.9 1173.95h2.99v2.99h-2.99zM1502.07 1150.27h2.62v2.62h-2.62zM1501.52 1142.54h2.89v2.89h-2.89zM1526.16 1178.4h2.89v2.89h-2.89zM1516.49 1169.82h2.91v2.91h-2.91zM1539.1 1146.71h2.57v2.57h-2.57zM1518.01 1161.19h2.94v2.94h-2.94zM1383.05 1163.53h2.85v2.85h-2.85zM1343.23 1194.98h3.1v3.1h-3.1zM1355.29 1193.82h2.15v2.15h-2.15zM1379.89 1198.84h3.04v3.04h-3.04zM1385.86 1193.89h2.01v2.01h-2.01zM1368.49 1159.36h2.92v2.92h-2.92zM1382.92 1164.26h2.7v2.7h-2.7zM1366.46 1214.62h2.6v2.6h-2.6zM1312.18 1136.62h3.16v3.16h-3.16zM1352.41 1090.41h2.69v2.69h-2.69zM1338.59 1014.62h2.5v2.5h-2.5zM1443.64 1199.51h2.94v2.94h-2.94zM1484.51 1103.84h3.05v3.05h-3.05zM1428.41 1193.15h2.73v2.73h-2.73zM1524.36 1066.42h2.46v2.46h-2.46zM1362.09 1190.12h2.54v2.54h-2.54zM1388.6 1146.1h2.55v2.55h-2.55zM1504.88 1050.64h2.87v2.87h-2.87zM1381.56 1014.83h2.35v2.35h-2.35zM1507.07 1088.86h2.47v2.47h-2.47zM1476.68 1021h2.67v2.67h-2.67zM1472.52 1042.01h2.46v2.46h-2.46zM1403.22 1016.79h2.39v2.39h-2.39zM1397.28 1145.87h2.94v2.94h-2.94zM1392.47 1077.12h3.02v3.02h-3.02zM1460.57 1076.46h2.6v2.6h-2.6zM1497.21 989.65h2.53v2.53h-2.53zM1482.38 990.47h2.22v2.22h-2.22zM1498.46 990.38h2.36v2.36h-2.36zM1475.92 984.6h2.17v2.17h-2.17zM1471.49 985.05h2.69v2.69h-2.69zM1490.87 982.75h2.7v2.7h-2.7zM1494.91 984.27h2.11v2.11h-2.11zM1490.15 987.56h3.1v3.1h-3.1zM1493.89 992.11h2.39v2.39h-2.39zM1491.08 981.62h3.01v3.01h-3.01zM1483.31 990.62h3.01v3.01h-3.01zM1485.41 979.34h3.15v3.15h-3.15zM1477.25 995.92h2.25v2.25h-2.25zM1481.91 994.59h2.51v2.51h-2.51zM1470.56 994.95h3.09v3.09h-3.09zM1493.9 983.84h2.01v2.01h-2.01zM1507.83 990.9h2.06v2.06h-2.06zM1351.16 1127.77h2.68v2.68h-2.68zM1343.63 1089.38h2.6v2.6h-2.6zM1370.16 1088.58h3.1v3.1h-3.1zM1374.78 1128.34h2.93v2.93h-2.93zM1381.45 1094.4h2.65v2.65h-2.65zM1340.79 1098.56h3.2v3.2h-3.2zM1348.77 1132.18h2.62v2.62h-2.62zM1365.95 1127.4h2.62v2.62h-2.62zM1358.45 1061.09h2.82v2.82h-2.82zM1396.43 1128.45h2.47v2.47h-2.47zM1357.66 1059.2h2.43v2.43h-2.43zM1346.61 1068.5h2.71v2.71h-2.71zM1383.04 1080.36h2.42v2.42h-2.42zM1394.52 1102.46h3.14v3.14h-3.14zM1364.77 1138.44h2.81v2.81h-2.81zM1383.7 1077.93h2.63v2.63h-2.63zM1346.26 1104.33h2.12v2.12h-2.12zM1344.04 1056.47h2.45v2.45h-2.45zM1358.6 1119.61h2.48v2.48h-2.48zM1353.3 1066.72h2.67v2.67h-2.67zM1372.05 1056.21h2.69v2.69h-2.69zM1386.47 1122.38h3.06v3.06h-3.06zM1376.79 1129.46h3.16v3.16h-3.16zM1360.25 1065.49h2.58v2.58h-2.58zM1367.94 1132.02h2.53v2.53h-2.53zM1355.84 1094.79h2.75v2.75h-2.75zM1375.5 1123.93h3.2v3.2h-3.2zM1379.78 1093.23h2.41v2.41h-2.41zM1393.72 1093.46h2.64v2.64h-2.64zM1364.53 1062.12h2.98v2.98h-2.98zM1395.46 1126.22h2.2v2.2h-2.2zM1357.87 1107.94h2.38v2.38h-2.38zM1376.43 1050.69h3.17v3.17h-3.17zM1351.94 1101.55h2.99v2.99h-2.99zM1349.56 1113.09h2.62v2.62h-2.62zM1398.65 1070.7h2.13v2.13h-2.13zM1341.48 1115.1h3.07v3.07h-3.07zM1363.21 1065.71h2.83v2.83h-2.83zM1389.75 1057.44h2.98v2.98h-2.98zM1350.05 1068.88h3.19v3.19h-3.19zM1395.84 1123.32h3.07v3.07h-3.07zM1373 1062.25h2.51v2.51h-2.51zM1343.47 1113.81h2.19v2.19h-2.19zM1423.17 1052.69h2.35v2.35h-2.35zM1469.25 1122.07h2.61v2.61h-2.61zM1459.35 1022.85h2.61v2.61h-2.61zM1475.45 1084.38h2.23v2.23h-2.23zM1469.67 1109.94h2.22v2.22h-2.22zM1473.28 1095.4h2.76v2.76h-2.76zM1409.75 1067.37h2.72v2.72h-2.72zM1461.86 1055.32h2.42v2.42h-2.42zM1424.78 1093.03h3.19v3.19h-3.19zM1416.96 1103.82h2.76v2.76h-2.76zM1469.14 1096.92h2.05v2.05h-2.05zM1445.34 1105.27h2.49v2.49h-2.49zM1489.48 1081.09h2.95v2.95h-2.95zM1429.8 1104.54h2.37v2.37h-2.37zM1455.42 1115.02h2.83v2.83h-2.83zM1455.57 1107.38h2v2h-2zM1419.78 1102.09h2.37v2.37h-2.37zM1463.59 1041.3h3.01v3.01h-3.01zM1420.98 1083.43h2.7v2.7h-2.7zM1416.75 1120.92h2.8v2.8h-2.8zM1463.92 1047.19h2.24v2.24h-2.24zM1428.77 1071.41h2.6v2.6h-2.6zM1433.3 1098.79h2.66v2.66h-2.66zM1446.93 1102.67h2.32v2.32h-2.32zM1457.19 1096.07h2.78v2.78h-2.78zM1442.32 1113.92h2.64v2.64h-2.64zM1436.6 1114.94h3.2v3.2h-3.2zM1432.35 1051.18h2.69v2.69h-2.69zM1490.03 1058.51h2.49v2.49h-2.49zM1476.41 1060.19h2.15v2.15h-2.15zM1466.14 1098.07h2.19v2.19h-2.19zM1475.28 1079.62h2.91v2.91h-2.91zM1433.2 1053.48h2.13v2.13h-2.13zM1452.65 1106.34h2.12v2.12h-2.12zM1436.65 1096.92h2.2v2.2h-2.2zM1455.36 1055.98h2.63v2.63h-2.63zM1420.89 1054.69h2.99v2.99h-2.99zM1460.32 1033.2h2.74v2.74h-2.74zM1463.36 1118.63h2.97v2.97h-2.97zM1423.65 1088.77h2.07v2.07h-2.07zM1426.14 1069.67h2.01v2.01h-2.01zM1433.78 1078.41h2.92v2.92h-2.92zM1540.45 1185.67h2.39v2.39h-2.39zM1498.03 1172.17h2.86v2.86h-2.86zM1524.49 1143.08h2.42v2.42h-2.42zM1492.96 1161.66h2.2v2.2h-2.2zM1498.99 1188.94h2.32v2.32h-2.32zM1541.06 1173.11h2.12v2.12h-2.12zM1497.44 1154.57h3.08v3.08h-3.08zM1542.84 1143.62h2.7v2.7h-2.7zM1498.33 1174.64h2.42v2.42h-2.42zM1545.84 1166.18h2.54v2.54h-2.54zM1529.3 1138.75h2.46v2.46h-2.46zM1499.52 1176.14h2.07v2.07h-2.07zM1497.56 1185.01h3.07v3.07h-3.07zM1492.85 1163.04h2.7v2.7h-2.7zM1494.64 1199.07h3.15v3.15h-3.15zM1524.63 1206.75h2.53v2.53h-2.53zM1517.67 1139.85h2.74v2.74h-2.74zM1515.03 1203.73h2.3v2.3h-2.3zM1517.45 1147.33h2.05v2.05h-2.05zM1533.07 1140.07h3.12v3.12h-3.12zM1545.78 1169.05h3.03v3.03h-3.03zM1533.55 1150.64h2.38v2.38h-2.38zM1493.46 1140.4h3.08v3.08h-3.08zM1492.88 1150.52h2.98v2.98h-2.98zM1504.6 1143.5h2.36v2.36h-2.36zM1498.72 1143.57h2.72v2.72h-2.72zM1516.37 1155.78h3.15v3.15h-3.15zM1551.88 1166.81h2.59v2.59h-2.59zM1506.33 1194.42h3.14v3.14h-3.14zM1517.25 1142.17h2.29v2.29h-2.29zM1498.31 1188.63h2.47v2.47h-2.47zM1500.92 1183.22h2.86v2.86h-2.86zM1510.64 1164.77h2.27v2.27h-2.27zM1520.46 1141.38h2.37v2.37h-2.37zM1539.45 1142.65h3.05v3.05h-3.05zM1497.77 1157.85h2.58v2.58h-2.58zM1541.1 1156.69h2.95v2.95h-2.95zM1499.68 1149.75h2.29v2.29h-2.29zM1372.29 1195.06h2.21v2.21h-2.21zM1359.96 1163.17h2.43v2.43h-2.43zM1387.44 1203.27h2.22v2.22h-2.22zM1363.62 1158.62h3.17v3.17h-3.17zM1364.46 1139.14h2.35v2.35h-2.35zM1362.16 1154.04h2.67v2.67h-2.67zM1366.43 1167.55h2.14v2.14h-2.14zM1361.07 1152.22h2.64v2.64h-2.64zM1391.91 1180.73h2.46v2.46h-2.46zM1384.27 1189.26h2.48v2.48h-2.48zM1373.04 1174.68h2.08v2.08h-2.08zM1365.97 1163.2h2.15v2.15h-2.15zM1356.08 1188.85h2.99v2.99h-2.99zM1347.29 1173.82h2.42v2.42h-2.42zM1376.01 1155.26h2.29v2.29h-2.29zM1350.18 1157.28h2.23v2.23h-2.23zM1374.19 1154.8h2.34v2.34h-2.34zM1373.11 1159.77h2.28v2.28h-2.28zM1392.65 1182.76h2.04v2.04h-2.04zM1388.08 1138.24h2.8v2.8h-2.8zM1386.9 1144.42h2.41v2.41h-2.41zM1358.15 1222.64h2.19v2.19h-2.19zM1357.18 1154.78h2.85v2.85h-2.85zM1385.29 1171.12h2.11v2.11h-2.11zM1366.57 1216.03h2.32v2.32h-2.32zM1348.05 1171.72h3v3h-3zM1379.91 1161.9h2.15v2.15h-2.15zM1384.35 1164.51h2.53v2.53h-2.53zM1382.16 1138.11h3v3h-3zM1395.44 1165.95h2.97v2.97h-2.97zM1376.49 1153.49h2.19v2.19h-2.19zM1368.31 1158.45h2.42v2.42h-2.42zM1352.84 1146.87h2.87v2.87h-2.87zM1373.99 1214.46h2.45v2.45h-2.45zM1350.21 1193.41h3.15v3.15h-3.15zM1373.76 1137.7h2.25v2.25h-2.25zM1341.43 1168.51h3.14v3.14h-3.14zM1339.4 1193.27h2.61v2.61h-2.61zM1378.68 1221.36h2.27v2.27h-2.27zM1345.34 1222.6h2.54v2.54h-2.54zM1349.7 1205.11h2.16v2.16h-2.16zM1391.59 1187.02h2.85v2.85h-2.85zM1493.19 1230.1h2.31v2.31h-2.31zM1443.81 1195.49h3.08v3.08h-3.08zM1462.36 1212.63h2.71v2.71h-2.71zM1513.28 1211.38h2.44v2.44h-2.44zM1469.35 1239.78h2.3v2.3h-2.3zM1445.58 1225.77h2.73v2.73h-2.73zM1518.96 1203.36h2.26v2.26h-2.26zM1498.48 1219.78h3.05v3.05h-3.05zM1500.67 1223.1h2.15v2.15h-2.15zM1506.81 1178.13h2.62v2.62h-2.62zM1503.34 1226.65h2.65v2.65h-2.65zM1451.04 1228.27h2.32v2.32h-2.32zM1468.97 1256.77h2.93v2.93h-2.93zM1447.07 1172.32h2.46v2.46h-2.46zM1446.92 1221.3h2.79v2.79h-2.79zM1506.47 1211.92h2.68v2.68h-2.68zM1454.32 1235.34h2.37v2.37h-2.37zM1510.01 1188.73h2.47v2.47h-2.47zM1463.3 1184.24h2.1v2.1h-2.1zM1482.19 1212.96h2.21v2.21h-2.21zM1471.95 1184.43h3.02v3.02h-3.02zM1441.53 1195.58h2.39v2.39h-2.39zM1491.92 1228.96h2.8v2.8h-2.8zM1459.01 1215.32h2.13v2.13h-2.13zM1491.37 1237.71h2.67v2.67h-2.67zM1498.46 1215.82h2.43v2.43h-2.43zM1497.51 1201.55h2.6v2.6h-2.6zM1499.99 1201.89h2.36v2.36h-2.36zM1447.96 1221.61h2.08v2.08h-2.08zM1488.02 1189.69h2.37v2.37h-2.37zM1440.43 1222.89h2.27v2.27h-2.27zM1462.96 1205.6h2.15v2.15h-2.15zM1507.4 1226.36h2.86v2.86h-2.86zM1448.84 1206.42h2.34v2.34h-2.34zM1468.01 1243.5h2.48v2.48h-2.48zM1489.25 1186.04h3.09v3.09h-3.09zM1489.41 1244.13h2.93v2.93h-2.93zM1508.99 1244.83h3.06v3.06h-3.06zM1499.38 1223.5h3.03v3.03h-3.03zM1438.21 1218.4h2.16v2.16h-2.16zM1468.83 1262.11h2.33v2.33h-2.33zM1526.22 1213.36h2.04v2.04h-2.04zM1495.23 1229.64h2.82v2.82h-2.82zM1287.83 1178.82h2.8v2.8h-2.8zM1305.5 1201.14h2.42v2.42h-2.42zM1287.82 1209.83h2.5v2.5h-2.5zM1300.73 1179.84h2.79v2.79h-2.79zM1311.91 1186.03h2.84v2.84h-2.84zM1284.09 1199.51h2.3v2.3h-2.3zM1292.82 1179.45h3.02v3.02h-3.02zM1308.03 1217.86h2.42v2.42h-2.42zM1270.49 1204.39h2.75v2.75h-2.75zM1283.59 1168.08h2.22v2.22h-2.22zM1265.65 1184.58h2.14v2.14h-2.14zM1271.7 1219.74h3.1v3.1h-3.1zM1314.1 1214.94h2.88v2.88h-2.88zM1310.66 1173h2.86v2.86h-2.86zM1324.17 1208.28h2.05v2.05h-2.05zM1288.99 1229.85h2.05v2.05h-2.05zM1301.27 1179.35h2.19v2.19h-2.19zM1281.38 1195.28h2.24v2.24h-2.24zM1268.41 1214.41h2.36v2.36h-2.36zM1307.96 1225.5h2.46v2.46h-2.46zM1277.21 1242.38h2.05v2.05h-2.05zM1267.04 1233.06h2.37v2.37h-2.37zM1312.93 1194.78h2.77v2.77h-2.77zM1272.25 1201.81h2.22v2.22h-2.22zM1307.62 1198.76h3.01v3.01h-3.01zM1294.09 1213.78h2.68v2.68h-2.68zM1293.24 1195.63h2.86v2.86h-2.86zM1282.03 1168.43h2.31v2.31h-2.31zM1274.5 1192.45h2.52v2.52h-2.52zM1286.02 1183.74h2.82v2.82h-2.82zM1289.39 1194.87h2.42v2.42h-2.42zM1273.15 1204.96h2v2h-2zM1280.28 1212.68h3v3h-3zM1298.31 1191.17h2.93v2.93h-2.93z" fill="#e8141c"/>
</g>
<clipPath id="cp_d02"><rect x="1575" y="989" width="277.4" height="233"/></clipPath>
<g clip-path="url(#cp_d02)">
<rect x="1575" y="989" width="277.4" height="233" fill="#070000"/>
<ellipse cx="1665" cy="1055" rx="60" ry="12" transform="rotate(-10 1665 1055)" fill="#0d4a8c" opacity="0.75" filter="url(#tex3)"/>
<ellipse cx="1752.3" cy="1060" rx="32" ry="22" transform="rotate(40 1752.3 1060)" fill="#1c86d6" filter="url(#texd)"/>
<ellipse cx="1752.3" cy="1060" rx="31.4" ry="21.4" transform="rotate(40 1752.3 1060)" fill="none" stroke="#2ec2ee" stroke-width="2.2" opacity="0.9"/>
<ellipse cx="1609" cy="1060" rx="6" ry="5" fill="#1a7fcf" filter="url(#texm)"/>
<ellipse cx="1620" cy="1160" rx="25" ry="35" fill="#0d4a8c" opacity="0.75" filter="url(#tex3)"/>
<ellipse cx="1598" cy="1191" rx="24" ry="24" fill="#1c86d6" filter="url(#texd)"/>
<ellipse cx="1598" cy="1191" rx="23.4" ry="23.4" fill="none" stroke="#2ec2ee" stroke-width="2.2" opacity="0.9"/>
<ellipse cx="1848" cy="1103" rx="5" ry="4" fill="#1a7fcf" filter="url(#texm)"/>
<path d="M1696.01 1066.24h2.83v2.83h-2.83zM1724.99 1043.59h2.2v2.2h-2.2zM1724.73 1064.79h2.53v2.53h-2.53zM1735.89 1076.44h3.16v3.16h-3.16zM1711.98 1086.89h2.11v2.11h-2.11zM1698.93 1052.76h2.05v2.05h-2.05zM1686.98 1044.22h2.53v2.53h-2.53zM1698.12 1035.4h2.23v2.23h-2.23zM1695.36 1068.8h2.87v2.87h-2.87zM1732.8 1054.97h2v2h-2zM1739.91 1050.61h3.01v3.01h-3.01zM1694.9 1035.04h3.03v3.03h-3.03zM1672.87 1046.95h2.94v2.94h-2.94zM1742.05 1068.57h2.51v2.51h-2.51zM1663.4 1069.55h2.34v2.34h-2.34zM1716.28 1056.24h2.79v2.79h-2.79zM1699.55 1054.85h2.62v2.62h-2.62zM1738.24 1033.28h2.51v2.51h-2.51zM1746.72 1084.39h2.41v2.41h-2.41zM1780.09 1055.86h2.53v2.53h-2.53zM1729.37 1056.24h2.8v2.8h-2.8zM1770.79 1067.48h2.99v2.99h-2.99zM1733.2 1068.03h3.08v3.08h-3.08zM1614.78 1182.63h2.2v2.2h-2.2zM1612.26 1137.26h2.35v2.35h-2.35zM1619.86 1188.34h2.53v2.53h-2.53zM1598.74 1166.09h2.68v2.68h-2.68zM1635.15 1159.49h2.42v2.42h-2.42zM1610.27 1204.71h2.23v2.23h-2.23zM1633.09 1192.31h2.1v2.1h-2.1zM1649.96 1186.94h2.39v2.39h-2.39zM1600.53 1082.68h2.55v2.55h-2.55zM1760.01 1179.76h3.17v3.17h-3.17zM1636.61 1068.99h3.09v3.09h-3.09zM1720.49 1017.78h3.04v3.04h-3.04zM1761.02 1143.86h3.17v3.17h-3.17zM1670.64 1143.34h3.15v3.15h-3.15zM1771.55 1088.42h2.74v2.74h-2.74zM1744.59 1084.75h2.97v2.97h-2.97zM1727.1 1064.85h2.07v2.07h-2.07zM1741.64 1058.38h2.81v2.81h-2.81zM1773.27 1079.23h2.73v2.73h-2.73zM1761.16 1035.24h2.36v2.36h-2.36zM1740.41 1042.9h2.69v2.69h-2.69zM1722.43 1046.28h3.14v3.14h-3.14zM1778.33 1068.21h2.58v2.58h-2.58zM1743.04 1028.32h2.78v2.78h-2.78zM1746.82 1064.34h2.36v2.36h-2.36zM1772.9 1042.17h2.41v2.41h-2.41zM1586.05 1224.24h3.06v3.06h-3.06zM1614.4 1181.34h2.03v2.03h-2.03zM1615.63 1155.99h2.23v2.23h-2.23zM1584.02 1213.63h2.81v2.81h-2.81zM1575.55 1212.71h2.54v2.54h-2.54zM1581.27 1206.79h2.1v2.1h-2.1zM1572.93 1179.03h2.79v2.79h-2.79zM1615.58 1149.64h2.45v2.45h-2.45zM1559.28 1190.97h2.7v2.7h-2.7zM1611.39 1212.03h2.5v2.5h-2.5z" fill="#e8141c"/>
</g>
<clipPath id="cp_d03"><rect x="1865" y="989" width="277" height="233"/></clipPath>
<g clip-path="url(#cp_d03)">
<rect x="1865" y="989" width="277" height="233" fill="#070000"/>
<ellipse cx="2090" cy="1045" rx="28" ry="15" transform="rotate(-20 2090 1045)" fill="#0d4a8c" opacity="0.75" filter="url(#tex3)"/>
<ellipse cx="2042" cy="1079.7" rx="32" ry="25.3" fill="#1c86d6" filter="url(#texd)"/>
<ellipse cx="2042" cy="1079.7" rx="31.4" ry="24.7" fill="none" stroke="#2ec2ee" stroke-width="2.2" opacity="0.9"/>
<ellipse cx="2043" cy="1121" rx="17" ry="16" fill="#1a7fcf" filter="url(#texk)"/>
<ellipse cx="1992" cy="1158" rx="20" ry="20" fill="#0d4a8c" opacity="0.75" filter="url(#tex3)"/>
<ellipse cx="1949" cy="1149.7" rx="29" ry="25.3" fill="#1c86d6" filter="url(#texd)"/>
<ellipse cx="1949" cy="1149.7" rx="28.4" ry="24.7" fill="none" stroke="#2ec2ee" stroke-width="2.2" opacity="0.9"/>
<ellipse cx="2122" cy="1232" rx="17" ry="18" fill="#1c86d6" filter="url(#texd)"/>
<ellipse cx="2122" cy="1232" rx="16.4" ry="17.4" fill="none" stroke="#2ec2ee" stroke-width="2.2" opacity="0.9"/>
<path d="M1914.76 995.42h2.34v2.34h-2.34zM1921.49 998.57h2.95v2.95h-2.95zM1931.46 1005.03h3.05v3.05h-3.05zM1920.64 995.44h3.13v3.13h-3.13zM2055.27 1085.17h2.82v2.82h-2.82zM2067.94 1113.15h2.36v2.36h-2.36zM2040.24 1123.02h2.92v2.92h-2.92zM2020.36 1093.01h2.89v2.89h-2.89zM2027.12 1093.5h2.61v2.61h-2.61zM2006.22 1096.4h2.76v2.76h-2.76zM2065.96 1109.59h2.42v2.42h-2.42zM2067.38 1109.01h2.66v2.66h-2.66zM2062.6 1079.11h2.49v2.49h-2.49zM2032.33 1069.26h2.07v2.07h-2.07zM2074.47 1121.77h2.4v2.4h-2.4zM1956.25 1137.8h2.39v2.39h-2.39zM1972.01 1129.22h3.19v3.19h-3.19zM1979.65 1178.89h2.58v2.58h-2.58zM1922.23 1136.89h2.44v2.44h-2.44zM1984.73 1172.21h2.29v2.29h-2.29zM1979.35 1154.89h2.28v2.28h-2.28zM1954.94 1151.89h2.42v2.42h-2.42zM1941.69 1139.89h2.16v2.16h-2.16zM1947.32 1177h2.01v2.01h-2.01zM1920.56 1163.28h3.05v3.05h-3.05zM1920.84 1037.86h2.54v2.54h-2.54zM1893.83 1068.13h2.53v2.53h-2.53zM2045.32 1075.94h2.68v2.68h-2.68zM2006.64 1044.57h2.36v2.36h-2.36zM2018.06 1018.49h2.2v2.2h-2.2zM2029.8 1074.69h2.08v2.08h-2.08zM1930.88 1176.43h2.36v2.36h-2.36zM2113.42 1078.84h2.37v2.37h-2.37zM2105.83 1131.64h2.87v2.87h-2.87zM2086.71 1156.42h2.66v2.66h-2.66zM2049.87 1056.58h3.12v3.12h-3.12zM2025.73 1055.04h2.41v2.41h-2.41zM2054.57 1108.07h3.11v3.11h-3.11zM2049.64 1084.51h2.7v2.7h-2.7zM2055.53 1043.69h2.1v2.1h-2.1zM2007.13 1069.13h2.21v2.21h-2.21zM2067.42 1105.37h2.7v2.7h-2.7zM1998.7 1069.99h3.18v3.18h-3.18zM2103.73 1082.81h2.43v2.43h-2.43zM2068.79 1109.36h2.93v2.93h-2.93zM1990.97 1156.99h2.51v2.51h-2.51zM1963.76 1117.14h3.04v3.04h-3.04zM1968.02 1175.59h2.08v2.08h-2.08zM1922.99 1165.48h2.58v2.58h-2.58zM1932.71 1171.82h3.08v3.08h-3.08zM1975.52 1129.55h2.33v2.33h-2.33zM1928.77 1168.41h2.31v2.31h-2.31zM1922.83 1137.15h2.03v2.03h-2.03zM1922.69 1136.66h2.2v2.2h-2.2zM1979.09 1152.07h2.32v2.32h-2.32zM2130.53 1244.31h2.85v2.85h-2.85zM2117.73 1254.05h2.26v2.26h-2.26zM2106.1 1223.58h2.48v2.48h-2.48zM2145.68 1223.6h2.24v2.24h-2.24zM2123.03 1211.5h2.72v2.72h-2.72zM2123.67 1208.54h3.04v3.04h-3.04z" fill="#e8141c"/>
</g>
<clipPath id="cp_d10"><rect x="992" y="1232" width="278" height="233"/></clipPath>
<g clip-path="url(#cp_d10)">
<rect x="992" y="1232" width="278" height="233" fill="#070000"/>
<ellipse cx="1228" cy="1230" rx="20" ry="15" fill="#1c86d6" filter="url(#texd)"/>
<ellipse cx="1228" cy="1230" rx="19.4" ry="14.4" fill="none" stroke="#2ec2ee" stroke-width="2.2" opacity="0.9"/>
<ellipse cx="995" cy="1281" rx="15" ry="22" fill="#1c86d6" filter="url(#texd)"/>
<ellipse cx="995" cy="1281" rx="14.4" ry="21.4" fill="none" stroke="#2ec2ee" stroke-width="2.2" opacity="0.9"/>
<ellipse cx="1060" cy="1284.7" rx="24" ry="23.3" fill="#1c86d6" filter="url(#texd)"/>
<ellipse cx="1060" cy="1284.7" rx="23.4" ry="22.7" fill="none" stroke="#2ec2ee" stroke-width="2.2" opacity="0.9"/>
<ellipse cx="1120" cy="1310" rx="24" ry="31.3" fill="#1c86d6" filter="url(#texd)"/>
<ellipse cx="1120" cy="1310" rx="23.4" ry="30.7" fill="none" stroke="#2ec2ee" stroke-width="2.2" opacity="0.9"/>
<ellipse cx="1197.5" cy="1299.7" rx="25.8" ry="30" fill="#1c86d6" filter="url(#texd)"/>
<ellipse cx="1197.5" cy="1299.7" rx="25.2" ry="29.4" fill="none" stroke="#2ec2ee" stroke-width="2.2" opacity="0.9"/>
<ellipse cx="1265" cy="1355" rx="22" ry="20" fill="#1c86d6" filter="url(#texd)"/>
<ellipse cx="1265" cy="1355" rx="21.4" ry="19.4" fill="none" stroke="#2ec2ee" stroke-width="2.2" opacity="0.9"/>
<ellipse cx="1092" cy="1394" rx="26" ry="20.5" transform="rotate(10 1092 1394)" fill="#1c86d6" filter="url(#texd)"/>
<ellipse cx="1092" cy="1394" rx="25.4" ry="19.9" transform="rotate(10 1092 1394)" fill="none" stroke="#2ec2ee" stroke-width="2.2" opacity="0.9"/>
<ellipse cx="1014" cy="1437" rx="22.5" ry="21" fill="#1c86d6" filter="url(#texd)"/>
<ellipse cx="1014" cy="1437" rx="21.9" ry="20.4" fill="none" stroke="#2ec2ee" stroke-width="2.2" opacity="0.9"/>
<path d="M1183.78 1279.14h2.6v2.6h-2.6zM1191.07 1244.83h2.94v2.94h-2.94zM1185.25 1289.27h3.09v3.09h-3.09zM1210.92 1250.64h2.9v2.9h-2.9zM1186.6 1315.71h2.76v2.76h-2.76zM1208.37 1336.18h2.24v2.24h-2.24zM1221.15 1267.6h2.75v2.75h-2.75zM1213.84 1286.69h3.01v3.01h-3.01zM1177.46 1340.71h2.94v2.94h-2.94zM1178.95 1270.76h2.11v2.11h-2.11zM1184.28 1269.74h2.86v2.86h-2.86zM1222.89 1311.29h2.42v2.42h-2.42zM1230.07 1311.17h2.19v2.19h-2.19zM1179.4 1331.77h3.16v3.16h-3.16zM1176.96 1282.51h2.81v2.81h-2.81zM1190.44 1300.02h2.89v2.89h-2.89zM1226.06 1280.23h2.16v2.16h-2.16zM1206.12 1297.48h2.99v2.99h-2.99zM1166.55 1267.71h3.12v3.12h-3.12zM1188.89 1313.23h3.09v3.09h-3.09zM1205 1315.82h2.89v2.89h-2.89zM1100.12 1378.07h3v3h-3zM1111.25 1367.57h2.96v2.96h-2.96zM1061.42 1382.19h2.71v2.71h-2.71zM1060.6 1379.13h2.52v2.52h-2.52zM1075.41 1376.51h2.99v2.99h-2.99zM1097.11 1370.79h2.94v2.94h-2.94zM1087.99 1358.79h3.04v3.04h-3.04zM1103.34 1369.62h2.36v2.36h-2.36zM1105.42 1354.17h3.15v3.15h-3.15zM1073.44 1394.04h2.64v2.64h-2.64zM1050.45 1383.48h3.14v3.14h-3.14zM1102.14 1391.38h2.14v2.14h-2.14zM1058.41 1392.72h3.16v3.16h-3.16zM1103.08 1367.7h2.94v2.94h-2.94zM1122.68 1387.75h2.3v2.3h-2.3zM1058.93 1273.01h3.01v3.01h-3.01zM1071.48 1286.1h2.28v2.28h-2.28zM1081.92 1293.03h2.24v2.24h-2.24zM1044.69 1278.65h2.55v2.55h-2.55zM1078.52 1276.04h2.28v2.28h-2.28zM1067.42 1295.59h2.59v2.59h-2.59zM1055.87 1249.96h3.09v3.09h-3.09zM1061.72 1288.67h2.82v2.82h-2.82zM1121.6 1289.18h2.85v2.85h-2.85zM1143.34 1305.63h2.47v2.47h-2.47zM1105.06 1290.82h2.94v2.94h-2.94zM1125.94 1282.75h2.95v2.95h-2.95zM1103.7 1342.59h2.82v2.82h-2.82zM1141.79 1329.9h3.13v3.13h-3.13zM1144.28 1321.35h2.99v2.99h-2.99zM1092.21 1330.26h2.49v2.49h-2.49zM1038.39 1442.24h2.1v2.1h-2.1zM985.29 1449.03h2.78v2.78h-2.78zM1039.57 1425.44h3v3h-3zM1016.64 1448.65h2.41v2.41h-2.41zM1011.86 1453.34h2.71v2.71h-2.71zM1015.34 1446.93h3v3h-3zM1015.14 1409.51h2.95v2.95h-2.95zM1003.53 1462.54h2.01v2.01h-2.01zM1019.21 1455.85h2.59v2.59h-2.59zM1031.97 1457.21h2.02v2.02h-2.02zM1257.74 1347.58h2.13v2.13h-2.13zM1248.73 1331.3h2.97v2.97h-2.97zM1245.82 1375.66h2.5v2.5h-2.5zM1225.14 1361.2h2.73v2.73h-2.73zM1259.62 1379.79h2.55v2.55h-2.55zM1235.04 1347.18h2.4v2.4h-2.4zM1228.23 1345.41h2.26v2.26h-2.26zM1161.66 1448.91h2.42v2.42h-2.42zM1049.47 1423.2h3.01v3.01h-3.01zM1167.69 1313.08h2.74v2.74h-2.74zM1220.49 1266.06h2.35v2.35h-2.35zM1122.5 1365.38h2.11v2.11h-2.11zM1234.45 1418.86h2.33v2.33h-2.33zM1262.01 1354.8h2.84v2.84h-2.84zM1198.84 1425.36h2.53v2.53h-2.53zM1175.64 1374.6h2.79v2.79h-2.79zM1111.27 1318.38h2.97v2.97h-2.97zM1057.36 1438.1h2.14v2.14h-2.14zM1221.26 1209.97h2.82v2.82h-2.82zM1235.95 1228.11h2.05v2.05h-2.05zM1234.19 1207.25h2.99v2.99h-2.99zM1229.37 1244.92h2.22v2.22h-2.22zM1241.76 1237.51h2.33v2.33h-2.33zM1215.65 1246.63h3.15v3.15h-3.15zM1243.97 1243.56h2.43v2.43h-2.43zM1238.87 1247.68h2.27v2.27h-2.27zM1215.87 1228.43h3.07v3.07h-3.07zM1195.83 1229.18h2.73v2.73h-2.73zM1204.67 1251.13h3.07v3.07h-3.07zM1224.11 1211.79h2.47v2.47h-2.47zM1236.16 1243.12h2.6v2.6h-2.6zM1206.33 1227.6h3.15v3.15h-3.15zM1196.04 1220.15h2.61v2.61h-2.61zM984.87 1261.44h3.19v3.19h-3.19zM967.28 1267.53h2.23v2.23h-2.23zM990.33 1256.85h3v3h-3zM985.24 1307.69h2.19v2.19h-2.19zM982.12 1294.56h2.63v2.63h-2.63zM1008.62 1306.95h2v2h-2zM1006.92 1270.36h2.21v2.21h-2.21zM982.31 1265.77h3.13v3.13h-3.13zM1007.69 1298.05h2.55v2.55h-2.55zM998.63 1244.91h2.97v2.97h-2.97zM986 1302.67h2.3v2.3h-2.3zM979.93 1273.33h2.42v2.42h-2.42zM993.6 1258.97h2.12v2.12h-2.12zM974.53 1277.88h2.66v2.66h-2.66zM983.58 1264.12h3.03v3.03h-3.03zM978.69 1300.66h2.62v2.62h-2.62zM1035.25 1263.89h2.45v2.45h-2.45zM1045.22 1309.5h3.11v3.11h-3.11zM1039.57 1267.49h3.07v3.07h-3.07zM1079.71 1270.06h2.8v2.8h-2.8zM1023.63 1288.73h2.09v2.09h-2.09zM1081.05 1310.35h2.75v2.75h-2.75zM1033.94 1279.24h2.53v2.53h-2.53zM1059.85 1302.51h3.15v3.15h-3.15zM1026.32 1291.51h2.43v2.43h-2.43zM1067.47 1273.88h2.79v2.79h-2.79zM1079.85 1246.99h2.76v2.76h-2.76zM1066.74 1291.02h2.45v2.45h-2.45zM1080.33 1299.22h2.63v2.63h-2.63zM1045.81 1287.09h2.81v2.81h-2.81zM1093.63 1282.5h3.09v3.09h-3.09zM1031.88 1291.99h2.6v2.6h-2.6zM1082.42 1315.02h2.44v2.44h-2.44zM1042.59 1300.12h3.17v3.17h-3.17zM1041.18 1310.84h2.07v2.07h-2.07zM1084.5 1286.03h3v3h-3zM1129.2 1337.24h2.82v2.82h-2.82zM1114.99 1339.4h2.67v2.67h-2.67zM1155.05 1339.35h2.54v2.54h-2.54zM1143.68 1268.37h2.9v2.9h-2.9zM1095.07 1280.58h3.07v3.07h-3.07zM1151.52 1320.73h2.87v2.87h-2.87zM1108.61 1352.91h2.9v2.9h-2.9zM1101.55 1278.44h2.04v2.04h-2.04zM1091.23 1289.42h2.39v2.39h-2.39zM1127.98 1339.68h2.16v2.16h-2.16zM1101.77 1271.38h3.14v3.14h-3.14zM1147.7 1326.63h3.07v3.07h-3.07zM1087.05 1309.8h2.17v2.17h-2.17zM1119.37 1287.22h2.71v2.71h-2.71zM1090.68 1317.4h2.69v2.69h-2.69zM1087.16 1315.92h2.06v2.06h-2.06zM1078.9 1329.41h2.47v2.47h-2.47zM1106.9 1280.75h2.9v2.9h-2.9zM1104.1 1322.07h2.77v2.77h-2.77zM1096.69 1298.67h2.34v2.34h-2.34zM1122.19 1334.12h2.91v2.91h-2.91zM1134.04 1323.57h2.35v2.35h-2.35zM1102.29 1299.52h2.65v2.65h-2.65zM1111.92 1273.1h2.5v2.5h-2.5zM1231.58 1312.98h3.17v3.17h-3.17zM1228.2 1297.86h2.78v2.78h-2.78zM1205.27 1287.03h2.97v2.97h-2.97zM1171.93 1295.06h2.81v2.81h-2.81zM1191.96 1330.58h2.46v2.46h-2.46zM1216.61 1268.63h3.16v3.16h-3.16zM1162.26 1295.56h2.85v2.85h-2.85zM1214.59 1274.42h2.83v2.83h-2.83zM1212.26 1275.17h2.33v2.33h-2.33zM1169.02 1291.1h2.19v2.19h-2.19zM1162.92 1307.19h2.69v2.69h-2.69zM1205.56 1265.04h2.99v2.99h-2.99zM1225.82 1279h2.95v2.95h-2.95zM1169.19 1291.85h2.42v2.42h-2.42zM1171.11 1285.9h2.17v2.17h-2.17zM1184.58 1348.93h2.62v2.62h-2.62zM1212.34 1242.56h3.05v3.05h-3.05zM1166.17 1311.29h2.19v2.19h-2.19zM1221.18 1309.34h2.89v2.89h-2.89zM1207.93 1282.92h2.2v2.2h-2.2zM1207.93 1327.29h2.37v2.37h-2.37zM1157.62 1280.44h2.06v2.06h-2.06zM1185.1 1272.93h2.36v2.36h-2.36zM1206.05 1343.95h2.46v2.46h-2.46zM1265.55 1360.39h3.16v3.16h-3.16zM1271.64 1319.27h3.15v3.15h-3.15zM1245.04 1364.07h2.22v2.22h-2.22zM1260.91 1347.62h2.37v2.37h-2.37zM1257.23 1337.54h3.13v3.13h-3.13zM1252.4 1390.99h2.24v2.24h-2.24zM1241 1342.06h2.39v2.39h-2.39zM1283.33 1342.73h2.53v2.53h-2.53zM1273.72 1340.17h2.13v2.13h-2.13zM1293.98 1350.4h2.31v2.31h-2.31zM1249.26 1337.67h2.47v2.47h-2.47zM1251.07 1350.36h2.46v2.46h-2.46zM1260.29 1332.7h3.16v3.16h-3.16zM1273.22 1337.98h2.32v2.32h-2.32zM1289.17 1353.32h2.24v2.24h-2.24zM1233.45 1348.9h3.09v3.09h-3.09zM1229.37 1354.41h2.54v2.54h-2.54zM1288.25 1368.38h3v3h-3zM1081.29 1388.91h2.76v2.76h-2.76zM1080.78 1419.87h2.93v2.93h-2.93zM1109.11 1377.94h2.38v2.38h-2.38zM1072.1 1377.45h2.18v2.18h-2.18zM1072.78 1407.2h2.91v2.91h-2.91zM1073.75 1409.03h2.56v2.56h-2.56zM1086.61 1418.85h2.67v2.67h-2.67zM1083.27 1404.49h2.8v2.8h-2.8zM1122.34 1417.75h2.9v2.9h-2.9zM1100.96 1373.09h2.33v2.33h-2.33zM1072.62 1388.32h2.44v2.44h-2.44zM1104.8 1410h3.1v3.1h-3.1zM1070.78 1407.28h2.64v2.64h-2.64zM1101.76 1416.26h2.35v2.35h-2.35zM1070.09 1412.77h2.76v2.76h-2.76zM1101.57 1409.35h2.31v2.31h-2.31zM1112.4 1414.8h2.93v2.93h-2.93zM1076.38 1387.58h2.05v2.05h-2.05zM1104.46 1419.6h2.99v2.99h-2.99zM1095.4 1412.57h2.68v2.68h-2.68zM1015.75 1444.96h2.42v2.42h-2.42zM1028.16 1420.1h3.13v3.13h-3.13zM1033.92 1428.52h2.32v2.32h-2.32zM1019 1414.1h2.29v2.29h-2.29zM1012.96 1426.05h2.08v2.08h-2.08zM1040.29 1440.74h2.66v2.66h-2.66zM988.05 1432.93h2.9v2.9h-2.9zM991.39 1424.95h2.81v2.81h-2.81zM994.37 1424.04h2.5v2.5h-2.5zM1013.18 1458.74h2.97v2.97h-2.97zM1028.63 1434.36h2.13v2.13h-2.13zM1001.57 1408.38h2.37v2.37h-2.37zM976.83 1443.79h2.77v2.77h-2.77zM1042.53 1437.32h3.16v3.16h-3.16zM1035.43 1448.77h2.76v2.76h-2.76zM1009.86 1410.72h2.83v2.83h-2.83zM1030.93 1456.39h2.93v2.93h-2.93zM1023.34 1486.89h2.47v2.47h-2.47zM1019.31 1411.44h3.13v3.13h-3.13z" fill="#e8141c"/>
</g>
<clipPath id="cp_d11"><rect x="1282.5" y="1232" width="278.5" height="233"/></clipPath>
<g clip-path="url(#cp_d11)">
<rect x="1282.5" y="1232" width="278.5" height="233" fill="#070000"/>
<ellipse cx="1295" cy="1233" rx="12" ry="8" fill="#1c86d6" filter="url(#texd)"/>
<ellipse cx="1295" cy="1233" rx="11.4" ry="7.4" fill="none" stroke="#2ec2ee" stroke-width="2.2" opacity="0.9"/>
<ellipse cx="1349" cy="1250" rx="29" ry="24" fill="#1c86d6" filter="url(#texd)"/>
<ellipse cx="1349" cy="1250" rx="28.4" ry="23.4" fill="none" stroke="#2ec2ee" stroke-width="2.2" opacity="0.9"/>
<ellipse cx="1468" cy="1281.8" rx="32" ry="24.5" fill="#1c86d6" filter="url(#texd)"/>
<ellipse cx="1468" cy="1281.8" rx="31.4" ry="23.9" fill="none" stroke="#2ec2ee" stroke-width="2.2" opacity="0.9"/>
<ellipse cx="1358.3" cy="1321.3" rx="28.3" ry="26.7" fill="#1c86d6" filter="url(#texd)"/>
<ellipse cx="1358.3" cy="1321.3" rx="27.7" ry="26.1" fill="none" stroke="#2ec2ee" stroke-width="2.2" opacity="0.9"/>
<ellipse cx="1477" cy="1342" rx="27" ry="26" fill="#1c86d6" filter="url(#texd)"/>
<ellipse cx="1477" cy="1342" rx="26.4" ry="25.4" fill="none" stroke="#2ec2ee" stroke-width="2.2" opacity="0.9"/>
<ellipse cx="1399" cy="1421.8" rx="25" ry="31.2" fill="#1c86d6" filter="url(#texd)"/>
<ellipse cx="1399" cy="1421.8" rx="24.4" ry="30.6" fill="none" stroke="#2ec2ee" stroke-width="2.2" opacity="0.9"/>
<ellipse cx="1560" cy="1410" rx="25" ry="25" fill="#1c86d6" filter="url(#texd)"/>
<ellipse cx="1560" cy="1410" rx="24.4" ry="24.4" fill="none" stroke="#2ec2ee" stroke-width="2.2" opacity="0.9"/>
<ellipse cx="1305" cy="1452" rx="22.5" ry="20" fill="#1c86d6" filter="url(#texd)"/>
<ellipse cx="1305" cy="1452" rx="21.9" ry="19.4" fill="none" stroke="#2ec2ee" stroke-width="2.2" opacity="0.9"/>
<path d="M1347.18 1289.37h2.87v2.87h-2.87zM1313.75 1346.83h2.43v2.43h-2.43zM1335.99 1336.08h2.76v2.76h-2.76zM1373.68 1292.12h3.1v3.1h-3.1zM1308.21 1313.33h2.48v2.48h-2.48zM1363.63 1308.14h2.52v2.52h-2.52zM1342.03 1329.72h2.36v2.36h-2.36zM1318.38 1337.05h2.67v2.67h-2.67zM1373.02 1285.84h2.8v2.8h-2.8zM1320.51 1303.64h2.88v2.88h-2.88zM1325.02 1306.74h3.14v3.14h-3.14zM1373.82 1282.16h2.17v2.17h-2.17zM1359.03 1302.26h2.44v2.44h-2.44zM1327.94 1280.24h3.02v3.02h-3.02zM1301.14 1318.36h2.95v2.95h-2.95zM1383.32 1293.05h2.71v2.71h-2.71zM1365.97 1282.26h2.81v2.81h-2.81zM1361.9 1306.28h2.41v2.41h-2.41zM1336.51 1278.22h3.13v3.13h-3.13zM1328.71 1301.66h2.66v2.66h-2.66zM1384.17 1334.7h2.48v2.48h-2.48zM1360.64 1295.56h2.22v2.22h-2.22zM1354.37 1341.95h2.14v2.14h-2.14zM1382.63 1341.32h3.08v3.08h-3.08zM1392.74 1311.47h2.96v2.96h-2.96zM1322.39 1351.25h2.03v2.03h-2.03zM1389.96 1338.87h2.39v2.39h-2.39zM1347.38 1321.32h2.58v2.58h-2.58zM1335.89 1305.19h2.59v2.59h-2.59zM1346.88 1330.79h2.44v2.44h-2.44zM1313.36 1330.93h3.07v3.07h-3.07zM1472.3 1281.34h2.42v2.42h-2.42zM1476.45 1276.92h2.64v2.64h-2.64zM1474.78 1319.77h3.12v3.12h-3.12zM1453.19 1308.04h2.77v2.77h-2.77zM1447.5 1280.93h2.57v2.57h-2.57zM1474.97 1271.19h2.4v2.4h-2.4zM1492.72 1258.32h2.46v2.46h-2.46zM1460.14 1287.02h2.73v2.73h-2.73zM1470.01 1281.9h2.94v2.94h-2.94zM1436.3 1288.08h2.31v2.31h-2.31zM1505.39 1301.03h2.44v2.44h-2.44zM1462.67 1258.57h2.47v2.47h-2.47zM1439.82 1305.59h2.44v2.44h-2.44zM1448.27 1278.38h3.1v3.1h-3.1zM1502.29 1259.18h2.65v2.65h-2.65zM1485.2 1251.87h2.33v2.33h-2.33zM1445.04 1323.68h2.4v2.4h-2.4zM1499.65 1300.5h2.99v2.99h-2.99zM1491.38 1308.98h2.19v2.19h-2.19zM1451.31 1257.89h2.83v2.83h-2.83zM1440.94 1295.56h2.03v2.03h-2.03zM1480.58 1312.49h2.23v2.23h-2.23zM1464.48 1306.22h2.07v2.07h-2.07zM1465.36 1259.89h2.97v2.97h-2.97zM1448.31 1295.6h2.18v2.18h-2.18zM1462.51 1271.87h2.27v2.27h-2.27zM1465.3 1318.76h2.07v2.07h-2.07zM1453.96 1251.22h2.32v2.32h-2.32zM1475.91 1299.74h2.88v2.88h-2.88zM1510.08 1325.13h2.86v2.86h-2.86zM1474.31 1332.39h3.09v3.09h-3.09zM1477.84 1348.37h3.14v3.14h-3.14zM1501.7 1314.76h2.66v2.66h-2.66zM1460.65 1326.58h3.11v3.11h-3.11zM1465.75 1358.3h2.11v2.11h-2.11zM1446.23 1310.36h3.11v3.11h-3.11zM1473.49 1352.63h2.52v2.52h-2.52zM1489.04 1367.8h2.23v2.23h-2.23zM1509.05 1319.62h2.9v2.9h-2.9zM1462.67 1347.49h3.03v3.03h-3.03zM1490.6 1354.74h2.46v2.46h-2.46zM1482.25 1313.51h2.11v2.11h-2.11zM1519.37 1340.93h3.05v3.05h-3.05zM1485.16 1313.71h2.9v2.9h-2.9zM1483.68 1329.14h2.72v2.72h-2.72zM1502.59 1364.76h3.17v3.17h-3.17zM1456.42 1342.95h2.05v2.05h-2.05zM1476.89 1350.52h2.07v2.07h-2.07zM1508.8 1323.38h2.15v2.15h-2.15zM1518.94 1328.98h2.03v2.03h-2.03zM1441.07 1358.48h2.85v2.85h-2.85zM1446.35 1370.6h2.76v2.76h-2.76zM1407.87 1405.11h2.13v2.13h-2.13zM1419.65 1420.59h2.19v2.19h-2.19zM1375.08 1404.74h2.22v2.22h-2.22zM1439.57 1420.98h2.73v2.73h-2.73zM1405.48 1388.74h2.81v2.81h-2.81zM1439.29 1429.81h3.16v3.16h-3.16zM1387.07 1416.23h2.43v2.43h-2.43zM1382.59 1450.26h3.17v3.17h-3.17zM1422.28 1398.07h2.52v2.52h-2.52zM1385.7 1403.08h2.47v2.47h-2.47zM1400.62 1461.64h2.3v2.3h-2.3zM1388.12 1428.62h2.28v2.28h-2.28zM1384.98 1409.74h3.17v3.17h-3.17zM1407.81 1447.31h3.19v3.19h-3.19zM1367.74 1400.2h2.85v2.85h-2.85zM1390.93 1390.14h2.21v2.21h-2.21zM1433.8 1434.67h2.22v2.22h-2.22zM1428.04 1429.14h2.18v2.18h-2.18zM1368.9 1440.45h2.42v2.42h-2.42zM1393.58 1397.09h2.88v2.88h-2.88zM1376.87 1388.74h2.07v2.07h-2.07zM1382 1421.68h2.64v2.64h-2.64zM1427.88 1399.75h2.82v2.82h-2.82zM1419.27 1427.42h2.04v2.04h-2.04zM1366.8 1252.55h2.53v2.53h-2.53zM1319.84 1270.2h2.95v2.95h-2.95zM1361.9 1232.29h2.69v2.69h-2.69zM1347.32 1247.87h2.54v2.54h-2.54zM1380.32 1269.95h3.06v3.06h-3.06zM1350.18 1248.1h2.72v2.72h-2.72zM1366.5 1258.23h2.4v2.4h-2.4zM1364.76 1247.83h2.48v2.48h-2.48zM1329.25 1227.91h3.13v3.13h-3.13zM1322.79 1231.48h3.03v3.03h-3.03zM1346.18 1265.16h3.1v3.1h-3.1zM1382.24 1256.65h2.67v2.67h-2.67zM1379.27 1271.88h2.17v2.17h-2.17zM1343.59 1241.33h2.21v2.21h-2.21zM1303.02 1439.32h2.46v2.46h-2.46zM1288.86 1447.97h2.83v2.83h-2.83zM1305.51 1426.05h2.01v2.01h-2.01zM1299.75 1447.92h2.96v2.96h-2.96zM1311.84 1433.55h2.94v2.94h-2.94zM1307.91 1432.72h2.62v2.62h-2.62zM1282.12 1435.81h2.01v2.01h-2.01zM1429.61 1319.35h2.96v2.96h-2.96zM1509.24 1375.9h2.5v2.5h-2.5zM1397.75 1415.62h2.8v2.8h-2.8zM1530.74 1353.21h2.68v2.68h-2.68zM1535.62 1363.66h2.87v2.87h-2.87zM1451.94 1279.81h2.49v2.49h-2.49zM1493.85 1410h3.15v3.15h-3.15zM1441.08 1417.88h3.15v3.15h-3.15zM1517.22 1417.94h3.11v3.11h-3.11zM1344.66 1329.97h2.74v2.74h-2.74zM1511.07 1401.17h2.38v2.38h-2.38zM1488.99 1266.71h2.45v2.45h-2.45zM1482.19 1388.52h2.32v2.32h-2.32zM1381.54 1439.28h3.08v3.08h-3.08zM1479.14 1417.13h2.95v2.95h-2.95zM1531.48 1335.58h2.95v2.95h-2.95zM1454.07 1349.82h2.99v2.99h-2.99zM1500.15 1408.36h3.19v3.19h-3.19zM1342.31 1302.46h2.83v2.83h-2.83zM1339.04 1368.13h2.38v2.38h-2.38zM1338.31 1291.64h2.91v2.91h-2.91zM1306.68 1226.88h2.31v2.31h-2.31zM1305.52 1218.64h2.73v2.73h-2.73zM1308.4 1233.79h2.19v2.19h-2.19zM1301.38 1226.42h3.03v3.03h-3.03zM1278.73 1235.53h2.59v2.59h-2.59zM1293.6 1241.28h2.33v2.33h-2.33zM1306.11 1237.16h3.11v3.11h-3.11zM1313.54 1230.37h2.1v2.1h-2.1zM1301.32 1222.79h3.12v3.12h-3.12zM1293.74 1223.94h2.91v2.91h-2.91zM1310.73 1233.39h2.18v2.18h-2.18zM1305.48 1224.64h2.91v2.91h-2.91zM1296.71 1218.78h2.69v2.69h-2.69zM1298.82 1219.04h3.09v3.09h-3.09zM1331.1 1281.03h2.7v2.7h-2.7zM1324.18 1270.28h2.51v2.51h-2.51zM1318.78 1243.77h3.12v3.12h-3.12zM1297.75 1238.72h2.1v2.1h-2.1zM1331.5 1215.15h2.93v2.93h-2.93zM1376.82 1264.03h2.12v2.12h-2.12zM1402.81 1252.74h2.33v2.33h-2.33zM1340.72 1221.59h2.14v2.14h-2.14zM1331.99 1217.88h3.05v3.05h-3.05zM1347.04 1225.86h2.53v2.53h-2.53zM1384.61 1253.95h2.87v2.87h-2.87zM1359.46 1285.53h2.31v2.31h-2.31zM1320.9 1234.34h2.88v2.88h-2.88zM1323.82 1234.71h2.78v2.78h-2.78zM1362.1 1254.18h2.12v2.12h-2.12zM1358.99 1260.32h2.59v2.59h-2.59zM1379.01 1243.53h2.87v2.87h-2.87zM1343.44 1273.57h2.26v2.26h-2.26zM1336.81 1274.36h2.79v2.79h-2.79zM1337.32 1227.05h2.33v2.33h-2.33zM1378.13 1237.4h2.44v2.44h-2.44zM1359.47 1230.95h3.1v3.1h-3.1zM1352.47 1276.17h3.13v3.13h-3.13zM1345.28 1258.41h3.2v3.2h-3.2zM1365.21 1238.91h2.51v2.51h-2.51zM1308.41 1228.9h2.69v2.69h-2.69zM1351.96 1256.41h2.97v2.97h-2.97zM1384.64 1245.19h2.91v2.91h-2.91zM1349.23 1256.05h2.55v2.55h-2.55zM1363.61 1230.71h3.04v3.04h-3.04zM1320.65 1274.65h2.48v2.48h-2.48zM1365.29 1265.93h3.14v3.14h-3.14zM1334.48 1247.12h2.57v2.57h-2.57zM1359.32 1217.19h2.14v2.14h-2.14zM1326.35 1264.86h2.9v2.9h-2.9zM1354.88 1278.15h2.17v2.17h-2.17zM1427.47 1314.22h2.82v2.82h-2.82zM1500.72 1289.27h2.06v2.06h-2.06zM1489.97 1250.31h3.19v3.19h-3.19zM1491.49 1297.41h2.65v2.65h-2.65zM1463.67 1271.4h2.89v2.89h-2.89zM1452.64 1282.14h2.16v2.16h-2.16zM1456.37 1283.51h2.76v2.76h-2.76zM1436.37 1308.3h2.45v2.45h-2.45zM1500.63 1293.12h2.3v2.3h-2.3zM1464.49 1237.7h2.98v2.98h-2.98zM1485.32 1263.35h2.04v2.04h-2.04zM1410.15 1273.7h2.57v2.57h-2.57zM1482.16 1302.13h2.1v2.1h-2.1zM1463.01 1307.9h3.02v3.02h-3.02zM1423.28 1288.55h3.07v3.07h-3.07zM1451.47 1306.94h2.04v2.04h-2.04zM1435.16 1240.84h2.56v2.56h-2.56zM1456.96 1281.39h2.56v2.56h-2.56zM1432.94 1243.5h2.86v2.86h-2.86zM1497.66 1284.05h2.87v2.87h-2.87zM1471.61 1317.34h2.41v2.41h-2.41zM1429.83 1258.52h3.12v3.12h-3.12zM1514.87 1267.61h2.22v2.22h-2.22zM1490.56 1258.07h2.16v2.16h-2.16zM1471.67 1307.31h2.98v2.98h-2.98zM1478.43 1274.46h2.14v2.14h-2.14zM1502.33 1286.92h2.22v2.22h-2.22zM1466.45 1251.67h2.6v2.6h-2.6zM1495.94 1271.67h2.4v2.4h-2.4zM1497.68 1272.78h2.2v2.2h-2.2zM1420.64 1285.33h3.12v3.12h-3.12zM1502.42 1279.12h2.57v2.57h-2.57zM1476.45 1315.74h2.94v2.94h-2.94zM1385.35 1298.11h2.3v2.3h-2.3zM1506.64 1272.6h3.1v3.1h-3.1zM1458.37 1269.06h2.27v2.27h-2.27zM1486.23 1304.82h3.09v3.09h-3.09zM1497.81 1280.46h2.74v2.74h-2.74zM1423.64 1266.8h3.17v3.17h-3.17zM1389.52 1356.02h2.93v2.93h-2.93zM1367.64 1333.68h2.76v2.76h-2.76zM1314.16 1297.3h2.64v2.64h-2.64zM1389.82 1331.43h3.03v3.03h-3.03zM1317.31 1331.58h2.53v2.53h-2.53zM1393.36 1291.46h2.12v2.12h-2.12zM1350.64 1367.97h3.1v3.1h-3.1zM1335.63 1332.9h2.97v2.97h-2.97zM1367.86 1327.82h2.82v2.82h-2.82zM1348.12 1352.82h2.89v2.89h-2.89zM1321.23 1313.83h2.28v2.28h-2.28zM1368.67 1290.68h2.56v2.56h-2.56zM1357.88 1345.63h2.99v2.99h-2.99zM1311.22 1293.86h3.15v3.15h-3.15zM1365.56 1341.82h3.11v3.11h-3.11zM1315.38 1301.54h2.19v2.19h-2.19zM1346.96 1295.28h2.82v2.82h-2.82zM1318.4 1314.47h2.66v2.66h-2.66zM1390.28 1335.64h2.49v2.49h-2.49zM1339.8 1289.38h2.2v2.2h-2.2zM1392.79 1322.25h2.16v2.16h-2.16zM1330.07 1286.15h2.56v2.56h-2.56zM1384.38 1313.11h2.59v2.59h-2.59zM1396.06 1310.19h2.32v2.32h-2.32zM1328.15 1337.61h2.44v2.44h-2.44zM1353.98 1289.6h2.66v2.66h-2.66zM1339.66 1293.07h2.91v2.91h-2.91zM1364.24 1350.68h2.71v2.71h-2.71zM1372.76 1323.55h2.19v2.19h-2.19zM1339.9 1328.42h3.06v3.06h-3.06zM1393.68 1307h2.44v2.44h-2.44zM1340.71 1326.02h3.15v3.15h-3.15zM1398.99 1324.14h3.18v3.18h-3.18zM1382.7 1358.61h2.17v2.17h-2.17zM1373.31 1294.05h2.7v2.7h-2.7zM1333.43 1294.92h3.16v3.16h-3.16zM1359.98 1293.18h2.46v2.46h-2.46zM1355.28 1364.13h2.66v2.66h-2.66zM1503.9 1313.81h2.38v2.38h-2.38zM1481.56 1356.94h2.03v2.03h-2.03zM1471.8 1315.45h2.25v2.25h-2.25zM1488.06 1363.24h2.15v2.15h-2.15zM1503.29 1341.48h2.34v2.34h-2.34zM1485.69 1339.84h2.76v2.76h-2.76zM1516.65 1323.47h2.68v2.68h-2.68zM1496.97 1368.47h3.14v3.14h-3.14zM1452.02 1353.55h2.82v2.82h-2.82zM1475.27 1349.99h2.43v2.43h-2.43zM1485.39 1356.07h3.14v3.14h-3.14zM1465.5 1312.67h2.76v2.76h-2.76zM1451.37 1376.69h2.65v2.65h-2.65zM1486.55 1366.62h3.04v3.04h-3.04zM1490.99 1362.09h2.8v2.8h-2.8zM1454.42 1358.87h2.43v2.43h-2.43zM1481.54 1323.87h2.73v2.73h-2.73zM1492.83 1383.19h2.36v2.36h-2.36zM1484.17 1316.55h3.16v3.16h-3.16zM1459.82 1315.31h2.29v2.29h-2.29zM1495.25 1362.98h3.17v3.17h-3.17zM1456.96 1320.47h2.08v2.08h-2.08zM1473.6 1384.01h2.01v2.01h-2.01zM1504.79 1346.18h2.66v2.66h-2.66zM1482.68 1376.43h2.25v2.25h-2.25zM1445.65 1315.28h2.61v2.61h-2.61zM1484.53 1369.19h2.14v2.14h-2.14zM1494.03 1367.61h3v3h-3zM1479.89 1309.96h2.8v2.8h-2.8zM1490.9 1289.08h2.82v2.82h-2.82zM1458.93 1376.9h3.11v3.11h-3.11zM1489.91 1349.16h3.19v3.19h-3.19zM1493.82 1365.16h2.81v2.81h-2.81zM1495.39 1322.03h2.86v2.86h-2.86zM1444.57 1339.71h2v2h-2zM1445.83 1374.81h2.06v2.06h-2.06zM1408.57 1431.2h2.51v2.51h-2.51zM1370.26 1423.74h3.16v3.16h-3.16zM1383.57 1388.98h2.38v2.38h-2.38zM1389.36 1377.51h2.68v2.68h-2.68zM1365.25 1463.4h2.01v2.01h-2.01zM1386.8 1407.92h2.5v2.5h-2.5zM1374.43 1386.91h3.08v3.08h-3.08zM1425.59 1428.79h2.71v2.71h-2.71zM1371.19 1427.46h2.99v2.99h-2.99zM1391.91 1444.17h2.02v2.02h-2.02zM1402.23 1379.33h2.24v2.24h-2.24zM1422.41 1441.22h2.22v2.22h-2.22zM1420.68 1429.95h3v3h-3zM1405.91 1428.61h2.12v2.12h-2.12zM1368.26 1412.85h3.12v3.12h-3.12zM1407.54 1442.37h2.32v2.32h-2.32zM1370.9 1436.96h3.06v3.06h-3.06zM1409.22 1417.91h2.62v2.62h-2.62zM1396.07 1383.71h2.39v2.39h-2.39zM1429.16 1393.03h3.16v3.16h-3.16zM1391.04 1454.34h2.49v2.49h-2.49zM1391.48 1385.24h2.84v2.84h-2.84zM1417.97 1414.05h2.08v2.08h-2.08zM1382.08 1451.13h3v3h-3zM1396.44 1457.78h3.18v3.18h-3.18zM1412.67 1396.89h2.13v2.13h-2.13zM1410.46 1450.93h2.9v2.9h-2.9zM1371.84 1438.9h2.32v2.32h-2.32zM1425.83 1380.21h2.18v2.18h-2.18zM1378.18 1401.22h2.44v2.44h-2.44zM1431.8 1407.13h2.79v2.79h-2.79zM1393.35 1470.75h3.14v3.14h-3.14zM1377.88 1444.68h3.19v3.19h-3.19zM1401.34 1454.19h3.19v3.19h-3.19zM1365.39 1445.76h2.75v2.75h-2.75zM1398.88 1465.35h2.78v2.78h-2.78zM1406.7 1389.71h2.19v2.19h-2.19zM1413.93 1371.5h2.87v2.87h-2.87zM1382.64 1392.52h2.66v2.66h-2.66zM1530.81 1401.77h2.43v2.43h-2.43zM1573.87 1376.04h3.08v3.08h-3.08zM1575.31 1393.16h2.31v2.31h-2.31zM1557.4 1367.05h2.17v2.17h-2.17zM1546.46 1391.2h2.19v2.19h-2.19zM1526.23 1398.79h2.18v2.18h-2.18zM1566.77 1369.08h2.71v2.71h-2.71zM1563.83 1431.69h2.96v2.96h-2.96zM1549.38 1426.99h2.19v2.19h-2.19zM1559.93 1417.21h2.6v2.6h-2.6zM1557.04 1379.78h2.69v2.69h-2.69zM1526.81 1416.4h2.67v2.67h-2.67zM1540.32 1455.42h2.5v2.5h-2.5zM1589.08 1385.01h2.65v2.65h-2.65zM1545.97 1440.98h2.02v2.02h-2.02zM1543.69 1401.39h2.07v2.07h-2.07zM1575.63 1377.67h2.51v2.51h-2.51zM1577.07 1391.85h2.28v2.28h-2.28zM1569.6 1449.38h2.91v2.91h-2.91zM1551.4 1387.78h2.29v2.29h-2.29zM1602.68 1418.35h2.99v2.99h-2.99zM1533.14 1420.49h2.29v2.29h-2.29zM1533.35 1405.11h2.11v2.11h-2.11zM1565.23 1382.55h2.57v2.57h-2.57zM1572.2 1368.91h2.47v2.47h-2.47zM1583.89 1386.14h2.4v2.4h-2.4zM1551.5 1381.21h2.92v2.92h-2.92zM1568.56 1439.84h2.27v2.27h-2.27zM1573.99 1445.31h2.8v2.8h-2.8zM1517.23 1408.42h3v3h-3zM1604.56 1408.72h2.54v2.54h-2.54zM1568.73 1374.35h2.6v2.6h-2.6zM1560.32 1377.13h3.11v3.11h-3.11zM1542.88 1427.27h2.72v2.72h-2.72zM1280.39 1450.58h2.22v2.22h-2.22zM1340.31 1427.62h2.08v2.08h-2.08zM1289.09 1445.72h2.1v2.1h-2.1zM1311.36 1431.52h2.4v2.4h-2.4zM1285.44 1438.66h2.11v2.11h-2.11zM1271.91 1448.26h2.78v2.78h-2.78zM1313.55 1456.46h2.51v2.51h-2.51zM1299.27 1431.67h2.37v2.37h-2.37zM1288.21 1449.25h2.61v2.61h-2.61zM1327.44 1435.77h3.12v3.12h-3.12zM1285.42 1441.09h2.29v2.29h-2.29zM1294.75 1418.72h2.19v2.19h-2.19zM1327.21 1417.29h2.37v2.37h-2.37zM1296.54 1453.24h2.39v2.39h-2.39zM1311.95 1425.56h3.09v3.09h-3.09zM1331.18 1481.05h2.85v2.85h-2.85zM1278.88 1487.55h2.51v2.51h-2.51zM1304.72 1474.78h2.2v2.2h-2.2zM1281.73 1432.82h2.05v2.05h-2.05zM1318.16 1471.41h2.15v2.15h-2.15zM1293.55 1470.64h3.02v3.02h-3.02zM1322.52 1488.53h2.78v2.78h-2.78zM1272.6 1453.32h2.19v2.19h-2.19zM1277.93 1454.77h2.75v2.75h-2.75zM1312.23 1464.18h2.07v2.07h-2.07zM1327.64 1446.22h2.61v2.61h-2.61zM1285.15 1472.42h2.4v2.4h-2.4zM1288.85 1461.76h2.12v2.12h-2.12zM1286.34 1443.05h2.89v2.89h-2.89z" fill="#e8141c"/>
</g>
<clipPath id="cp_d12"><rect x="1575" y="1232" width="277.4" height="233"/></clipPath>
<g clip-path="url(#cp_d12)">
<rect x="1575" y="1232" width="277.4" height="233" fill="#070000"/>
<ellipse cx="1595" cy="1300" rx="18" ry="25" fill="#0d4a8c" opacity="0.75" filter="url(#tex3)"/>
<ellipse cx="1690" cy="1385" rx="30" ry="12" fill="#0d4a8c" opacity="0.75" filter="url(#tex3)"/>
<ellipse cx="1790" cy="1330" rx="35" ry="30" fill="#0d4a8c" opacity="0.75" filter="url(#tex3)"/>
<ellipse cx="1754" cy="1228" rx="21" ry="14" fill="#1c86d6" filter="url(#texd)"/>
<ellipse cx="1754" cy="1228" rx="20.4" ry="13.4" fill="none" stroke="#2ec2ee" stroke-width="2.2" opacity="0.9"/>
<ellipse cx="1637.5" cy="1272" rx="27.5" ry="29" fill="#1c86d6" filter="url(#texd)"/>
<ellipse cx="1637.5" cy="1272" rx="26.9" ry="28.4" fill="none" stroke="#2ec2ee" stroke-width="2.2" opacity="0.9"/>
<ellipse cx="1845" cy="1268" rx="30" ry="35" fill="#1c86d6" filter="url(#texd)"/>
<ellipse cx="1845" cy="1268" rx="29.4" ry="34.4" fill="none" stroke="#2ec2ee" stroke-width="2.2" opacity="0.9"/>
<ellipse cx="1679.5" cy="1350.5" rx="25.5" ry="25.8" fill="#1c86d6" filter="url(#texd)"/>
<ellipse cx="1679.5" cy="1350.5" rx="24.9" ry="25.2" fill="none" stroke="#2ec2ee" stroke-width="2.2" opacity="0.9"/>
<ellipse cx="1755" cy="1370.5" rx="30" ry="34.2" transform="rotate(-10 1755 1370.5)" fill="#1c86d6" filter="url(#texd)"/>
<ellipse cx="1755" cy="1370.5" rx="29.4" ry="33.6" transform="rotate(-10 1755 1370.5)" fill="none" stroke="#2ec2ee" stroke-width="2.2" opacity="0.9"/>
<ellipse cx="1575" cy="1356" rx="10" ry="15" fill="#1c86d6" filter="url(#texd)"/>
<ellipse cx="1575" cy="1356" rx="9.4" ry="14.4" fill="none" stroke="#2ec2ee" stroke-width="2.2" opacity="0.9"/>
<ellipse cx="1830" cy="1440" rx="28" ry="28" fill="#1c86d6" filter="url(#texd)"/>
<ellipse cx="1830" cy="1440" rx="27.4" ry="27.4" fill="none" stroke="#2ec2ee" stroke-width="2.2" opacity="0.9"/>
<ellipse cx="1768" cy="1472" rx="16" ry="14" fill="#1c86d6" filter="url(#texd)"/>
<ellipse cx="1768" cy="1472" rx="15.4" ry="13.4" fill="none" stroke="#2ec2ee" stroke-width="2.2" opacity="0.9"/>
<ellipse cx="1578" cy="1445" rx="10" ry="14" fill="#1c86d6" filter="url(#texd)"/>
<ellipse cx="1578" cy="1445" rx="9.4" ry="13.4" fill="none" stroke="#2ec2ee" stroke-width="2.2" opacity="0.9"/>
<path d="M1594.04 1260.52h3.04v3.04h-3.04zM1611.04 1317.44h2.1v2.1h-2.1zM1576.49 1302.01h2.44v2.44h-2.44zM1622.4 1309.13h3.06v3.06h-3.06zM1612.57 1288.84h3.17v3.17h-3.17zM1588.26 1299.61h2.02v2.02h-2.02zM1619.81 1306.01h2.75v2.75h-2.75zM1615.97 1287.73h2.76v2.76h-2.76zM1596 1321.08h3.01v3.01h-3.01zM1601.97 1313.67h2.56v2.56h-2.56zM1591.49 1264.61h2.16v2.16h-2.16zM1603.27 1297.63h2.36v2.36h-2.36zM1569.8 1277.94h2.86v2.86h-2.86zM1766.02 1361.71h2.87v2.87h-2.87zM1722.43 1368.42h2.25v2.25h-2.25zM1766.3 1403.19h2.77v2.77h-2.77zM1713.15 1369.72h2.79v2.79h-2.79zM1742.28 1410.59h2.79v2.79h-2.79zM1766.2 1340.53h2.03v2.03h-2.03zM1773.49 1393.01h2.53v2.53h-2.53zM1779.81 1395.49h2.39v2.39h-2.39zM1742.55 1336.27h2.72v2.72h-2.72zM1763.26 1367.38h2.4v2.4h-2.4zM1745.21 1329.61h2.15v2.15h-2.15zM1772.98 1385.23h2.8v2.8h-2.8zM1786.25 1380.21h2.34v2.34h-2.34zM1794.54 1291.08h2.95v2.95h-2.95zM1790.68 1291.71h2.37v2.37h-2.37zM1793.72 1293.33h2.66v2.66h-2.66zM1824.74 1305.8h2.97v2.97h-2.97zM1811.02 1309.14h2.14v2.14h-2.14zM1793 1280.98h2.88v2.88h-2.88zM1788.66 1300h2.08v2.08h-2.08zM1821.94 1290.15h3.12v3.12h-3.12zM1817.47 1321.24h2.03v2.03h-2.03zM1797.43 1306.98h2.87v2.87h-2.87zM1701.73 1355.03h2.44v2.44h-2.44zM1707.06 1320.6h2.22v2.22h-2.22zM1662.89 1383.44h2.47v2.47h-2.47zM1687.06 1312.45h2.6v2.6h-2.6zM1645.27 1328.02h2.5v2.5h-2.5zM1654.89 1318.29h2.15v2.15h-2.15zM1662.45 1341.56h2.63v2.63h-2.63zM1651.21 1345.55h2.36v2.36h-2.36zM1666.94 1405.78h3.16v3.16h-3.16zM1609.3 1343.21h2.46v2.46h-2.46zM1720.49 1405.82h2.52v2.52h-2.52zM1616.6 1347.45h2.27v2.27h-2.27zM1615.97 1392.21h3.16v3.16h-3.16zM1746.22 1422.52h2.39v2.39h-2.39zM1690.21 1443.88h2.78v2.78h-2.78zM1675.53 1255.38h3v3h-3zM1644.29 1342.78h2.47v2.47h-2.47zM1791.49 1313.12h2.91v2.91h-2.91zM1730.5 1241.69h2.33v2.33h-2.33zM1732.95 1236.36h2.13v2.13h-2.13zM1749.45 1207.24h2.05v2.05h-2.05zM1730.72 1231.29h2.54v2.54h-2.54zM1753.31 1207.61h3.05v3.05h-3.05zM1758.94 1241.6h2.24v2.24h-2.24zM1737.79 1206.82h2.53v2.53h-2.53zM1742.73 1208.89h2.92v2.92h-2.92zM1775.64 1229.97h2.33v2.33h-2.33zM1716.71 1223.12h2.18v2.18h-2.18zM1755.74 1242.23h2.62v2.62h-2.62zM1768.92 1235.5h2.51v2.51h-2.51zM1608.42 1301.62h3.13v3.13h-3.13zM1590.94 1274.29h3.08v3.08h-3.08zM1663.86 1239.04h2.29v2.29h-2.29zM1606.33 1287.64h2.67v2.67h-2.67zM1651.25 1294.93h2.5v2.5h-2.5zM1669.99 1252.15h2.04v2.04h-2.04zM1672.74 1239.18h2.53v2.53h-2.53zM1646.78 1300.55h3.1v3.1h-3.1zM1661.34 1252.34h2.36v2.36h-2.36zM1615.19 1287.25h2.7v2.7h-2.7zM1614.01 1289.81h2.85v2.85h-2.85zM1663.31 1272.94h2.08v2.08h-2.08zM1620 1234.96h3.11v3.11h-3.11zM1644.1 1290.76h2.13v2.13h-2.13zM1610.55 1248.05h2.36v2.36h-2.36zM1677.55 1242.53h2.86v2.86h-2.86zM1612.82 1256.02h2.02v2.02h-2.02zM1622.98 1298.14h2.45v2.45h-2.45zM1610.55 1250.58h2.15v2.15h-2.15zM1830.56 1304.55h2.57v2.57h-2.57zM1806.11 1318.27h2.02v2.02h-2.02zM1847.22 1330.79h2.18v2.18h-2.18zM1845.13 1303.23h2.27v2.27h-2.27zM1852.9 1232.18h2.1v2.1h-2.1zM1835.78 1345.64h2.11v2.11h-2.11zM1875.63 1280.06h2.23v2.23h-2.23zM1848.28 1304.85h2.62v2.62h-2.62zM1792.35 1248.06h2.16v2.16h-2.16zM1847.83 1250.88h2.99v2.99h-2.99zM1844.33 1226.63h2.5v2.5h-2.5zM1815.91 1274.81h2.3v2.3h-2.3zM1854.63 1267.02h2.29v2.29h-2.29zM1816.55 1300.42h3.01v3.01h-3.01zM1835.34 1234.62h2.06v2.06h-2.06zM1862.39 1264.03h2.89v2.89h-2.89zM1809.51 1268.53h2.12v2.12h-2.12zM1869.01 1237.56h3.13v3.13h-3.13zM1823.97 1305.52h2.49v2.49h-2.49zM1871.91 1285.99h2.72v2.72h-2.72zM1828.62 1285.09h3.04v3.04h-3.04zM1803.93 1257.43h2.12v2.12h-2.12zM1655.34 1387.04h2.08v2.08h-2.08zM1706.79 1341.02h2.83v2.83h-2.83zM1663.43 1324.85h2.71v2.71h-2.71zM1653.13 1357.91h2.87v2.87h-2.87zM1635.55 1361.25h2.33v2.33h-2.33zM1655.46 1372.23h2.6v2.6h-2.6zM1703.28 1343.02h2.22v2.22h-2.22zM1663.96 1320.58h2.52v2.52h-2.52zM1690.21 1372.21h2.34v2.34h-2.34zM1668.46 1322.52h2.7v2.7h-2.7zM1666.12 1338.7h2.36v2.36h-2.36zM1666.94 1376.45h2.33v2.33h-2.33zM1697.3 1370.86h2.77v2.77h-2.77zM1668.23 1376.21h2.1v2.1h-2.1zM1652.13 1341.2h2.96v2.96h-2.96zM1684.97 1387.96h2.59v2.59h-2.59zM1690.16 1327.71h2.27v2.27h-2.27zM1717.94 1391h2.14v2.14h-2.14zM1764.61 1322.45h2.61v2.61h-2.61zM1793.9 1371.7h2.6v2.6h-2.6zM1782.91 1357.55h2.86v2.86h-2.86zM1787.13 1419.94h2.45v2.45h-2.45zM1727.34 1369.95h2.49v2.49h-2.49zM1724.15 1388.95h3.07v3.07h-3.07zM1775.3 1326.87h2.33v2.33h-2.33zM1780.74 1336.15h3.18v3.18h-3.18zM1774.23 1375.19h3.07v3.07h-3.07zM1765.92 1378.42h3.19v3.19h-3.19zM1753.98 1403.56h3.13v3.13h-3.13zM1784.17 1336.11h2.31v2.31h-2.31zM1756.15 1335.88h2.98v2.98h-2.98zM1777.11 1349.73h2.73v2.73h-2.73zM1789.51 1387.1h2.24v2.24h-2.24zM1720.17 1362.33h3.2v3.2h-3.2zM1736.62 1334.48h2.78v2.78h-2.78zM1754.64 1324.14h2.97v2.97h-2.97zM1753.82 1437.73h2.67v2.67h-2.67zM1764.16 1334.23h2.1v2.1h-2.1zM1768.13 1413.53h3.04v3.04h-3.04zM1588.08 1348.58h2.21v2.21h-2.21zM1583.54 1357.29h2.31v2.31h-2.31zM1573.28 1337.51h2.74v2.74h-2.74zM1567.04 1369.51h2.23v2.23h-2.23zM1567.13 1339.56h2.56v2.56h-2.56zM1582.2 1347.3h2.86v2.86h-2.86zM1562.13 1354.18h2.12v2.12h-2.12zM1563.74 1374.11h2.79v2.79h-2.79zM1858.89 1459.12h2.13v2.13h-2.13zM1801.9 1464.9h2.57v2.57h-2.57zM1838.5 1486.76h2.78v2.78h-2.78zM1827.93 1465.45h2.82v2.82h-2.82zM1799.45 1428.94h2.05v2.05h-2.05zM1834.2 1408.1h2.23v2.23h-2.23zM1852.31 1410.56h3.15v3.15h-3.15zM1785.04 1457.14h2.47v2.47h-2.47zM1864.2 1427.91h2.51v2.51h-2.51zM1816.37 1438.03h2.45v2.45h-2.45zM1851.5 1413.09h2.84v2.84h-2.84zM1848.63 1465.79h2.89v2.89h-2.89zM1798.56 1443.36h2.78v2.78h-2.78zM1802.93 1449.05h2.48v2.48h-2.48zM1854.51 1426.48h2.68v2.68h-2.68zM1868.28 1448.41h2.62v2.62h-2.62zM1835.61 1471.46h2.23v2.23h-2.23zM1818.42 1465.48h3.14v3.14h-3.14zM1802.83 1404.01h3.16v3.16h-3.16zM1755.13 1471.8h2.93v2.93h-2.93zM1762.61 1461.81h3.19v3.19h-3.19zM1765.28 1458.95h2.56v2.56h-2.56zM1771.56 1465.8h3.01v3.01h-3.01zM1786.16 1480.71h2.29v2.29h-2.29zM1766.51 1487.62h2.89v2.89h-2.89zM1749.13 1474.34h2.86v2.86h-2.86zM1786.34 1485.61h3.13v3.13h-3.13zM1790.33 1471.58h3v3h-3zM1770.68 1451.41h3.06v3.06h-3.06zM1578.86 1454.56h2.32v2.32h-2.32zM1565.87 1452.77h2.94v2.94h-2.94zM1587.43 1451.08h2.57v2.57h-2.57zM1560.26 1442.04h2.37v2.37h-2.37zM1582.84 1428.53h2.44v2.44h-2.44zM1582.22 1459.99h2.96v2.96h-2.96zM1569.91 1428.78h3.01v3.01h-3.01zM1567.1 1446.75h3.01v3.01h-3.01z" fill="#e8141c"/>
</g>
<clipPath id="cp_d13"><rect x="1865" y="1232" width="277" height="233"/></clipPath>
<g clip-path="url(#cp_d13)">
<rect x="1865" y="1232" width="277" height="233" fill="#070000"/>
<ellipse cx="1890" cy="1260" rx="30" ry="30" fill="#0d4a8c" opacity="0.75" filter="url(#tex3)"/>
<ellipse cx="1950" cy="1405" rx="50" ry="22" fill="#0d4a8c" opacity="0.75" filter="url(#tex3)"/>
<ellipse cx="2110" cy="1380" rx="20" ry="25" fill="#0d4a8c" opacity="0.75" filter="url(#tex3)"/>
<ellipse cx="1870" cy="1265" rx="20" ry="35" fill="#1c86d6" filter="url(#texd)"/>
<ellipse cx="1870" cy="1265" rx="19.4" ry="34.4" fill="none" stroke="#2ec2ee" stroke-width="2.2" opacity="0.9"/>
<ellipse cx="1990" cy="1265.5" rx="33" ry="27.5" fill="#1c86d6" filter="url(#texd)"/>
<ellipse cx="1990" cy="1265.5" rx="32.4" ry="26.9" fill="none" stroke="#2ec2ee" stroke-width="2.2" opacity="0.9"/>
<ellipse cx="1962.5" cy="1362" rx="37.5" ry="26" fill="#1c86d6" filter="url(#texd)"/>
<ellipse cx="1962.5" cy="1362" rx="36.9" ry="25.4" fill="none" stroke="#2ec2ee" stroke-width="2.2" opacity="0.9"/>
<ellipse cx="2075" cy="1356.8" rx="25" ry="29.5" fill="#1c86d6" filter="url(#texd)"/>
<ellipse cx="2075" cy="1356.8" rx="24.4" ry="28.9" fill="none" stroke="#2ec2ee" stroke-width="2.2" opacity="0.9"/>
<ellipse cx="2058.7" cy="1450" rx="28.7" ry="27" fill="#1c86d6" filter="url(#texd)"/>
<ellipse cx="2058.7" cy="1450" rx="28.1" ry="26.4" fill="none" stroke="#2ec2ee" stroke-width="2.2" opacity="0.9"/>
<path d="M1872.75 1239.31h2.5v2.5h-2.5zM1891.53 1278.9h2.21v2.21h-2.21zM1882.55 1275.98h3.13v3.13h-3.13zM1888.08 1263.09h2.71v2.71h-2.71zM1875.76 1235.16h2.65v2.65h-2.65zM1888.68 1235h2.51v2.51h-2.51zM1888.45 1235.95h2.3v2.3h-2.3zM1876.74 1278.79h2.38v2.38h-2.38zM1898.45 1255.71h2.59v2.59h-2.59zM1876.28 1256.81h2.54v2.54h-2.54zM1890.26 1234.69h3.18v3.18h-3.18zM1908.06 1253.77h2.68v2.68h-2.68zM1880.92 1273.81h2.25v2.25h-2.25zM2003 1265.65h2.06v2.06h-2.06zM1980.32 1238.05h2.19v2.19h-2.19zM1966.47 1263.35h2.41v2.41h-2.41zM1978.39 1297.09h2.94v2.94h-2.94zM1957.37 1288.51h3.07v3.07h-3.07zM2000.88 1255.79h2.28v2.28h-2.28zM1992.31 1259.39h2.94v2.94h-2.94zM1978.92 1233.18h2.53v2.53h-2.53zM1977.47 1239.23h2.65v2.65h-2.65zM1995.48 1250.99h2.64v2.64h-2.64zM1966.49 1259.51h2.05v2.05h-2.05zM1939.57 1399.32h2.08v2.08h-2.08zM1947.81 1359.35h2.8v2.8h-2.8zM1966.55 1357.42h2.83v2.83h-2.83zM1915.89 1366.36h2.46v2.46h-2.46zM1974.28 1360.62h3.1v3.1h-3.1zM1934.12 1422.71h2.98v2.98h-2.98zM1946.7 1398.08h2.36v2.36h-2.36zM1935.86 1418.08h2.08v2.08h-2.08zM1998.81 1375.22h2.66v2.66h-2.66zM1930.79 1355.59h2.79v2.79h-2.79zM1965.26 1362.58h2.27v2.27h-2.27zM1912.41 1397.26h2.05v2.05h-2.05zM1951.19 1400.78h2.58v2.58h-2.58zM1922.85 1364.41h2.04v2.04h-2.04zM2078.93 1391.63h2.88v2.88h-2.88zM2089.78 1349.69h2.75v2.75h-2.75zM2097.31 1379.99h2.34v2.34h-2.34zM2059.03 1392.36h2.53v2.53h-2.53zM2105.56 1358.31h2.28v2.28h-2.28zM2087.4 1328.26h2.22v2.22h-2.22zM2097.14 1393.85h2.22v2.22h-2.22zM2083.55 1368.32h2.98v2.98h-2.98zM2073.62 1360.3h2.54v2.54h-2.54zM2053.08 1361.67h2.86v2.86h-2.86zM2080.38 1444.24h2.42v2.42h-2.42zM2076.65 1430.64h2.97v2.97h-2.97zM2044.02 1442.35h2.72v2.72h-2.72zM2050.32 1465.1h2.78v2.78h-2.78zM2036.53 1461.07h2.47v2.47h-2.47zM2038.78 1448.18h2.67v2.67h-2.67zM1897.26 1280.6h2.23v2.23h-2.23zM2020.53 1409.34h3.17v3.17h-3.17zM2038.29 1351.14h2.81v2.81h-2.81zM2078.14 1373.11h2.64v2.64h-2.64zM2054.78 1269.98h2.77v2.77h-2.77zM2115.18 1327.67h2.12v2.12h-2.12zM1913.83 1305.75h2.4v2.4h-2.4zM1899.25 1268.06h2.28v2.28h-2.28zM1866.35 1314.65h3.01v3.01h-3.01zM1852.32 1292.97h2.02v2.02h-2.02zM1855.94 1279.08h2.53v2.53h-2.53zM1877.22 1216.76h3.04v3.04h-3.04zM1887.2 1229.17h2.94v2.94h-2.94zM1869.5 1233.13h2.86v2.86h-2.86zM1851.64 1212.97h2.36v2.36h-2.36zM1890.29 1234.82h2.28v2.28h-2.28zM1847.92 1244.59h2.85v2.85h-2.85zM1843.83 1224.52h2.36v2.36h-2.36zM1832.73 1246.19h2.87v2.87h-2.87zM1843.98 1244.67h2.42v2.42h-2.42zM1900.72 1273.97h2.91v2.91h-2.91zM1891.88 1255.57h2.69v2.69h-2.69zM1836.07 1271.4h2.98v2.98h-2.98zM2004.26 1259.34h3.18v3.18h-3.18zM2007.92 1248.59h2.45v2.45h-2.45zM2023.91 1269.72h3.18v3.18h-3.18zM2001.17 1233.48h2.01v2.01h-2.01zM1977.66 1233.12h3.05v3.05h-3.05zM1939.42 1232.19h2.04v2.04h-2.04zM1997.88 1222.81h2.65v2.65h-2.65zM1989.5 1298.97h2.47v2.47h-2.47zM1995.74 1246.82h2.92v2.92h-2.92zM1994.89 1231.06h2.38v2.38h-2.38zM2054.6 1270.81h2.25v2.25h-2.25zM2005.59 1287.44h2.94v2.94h-2.94zM1959.75 1282.34h2.66v2.66h-2.66zM1982.43 1273.39h2.91v2.91h-2.91zM1977.56 1290.72h2.59v2.59h-2.59zM1965.27 1253.55h2.04v2.04h-2.04zM1961.07 1262.99h2.93v2.93h-2.93zM1988.99 1320.68h2.26v2.26h-2.26zM1965.46 1382.98h2.57v2.57h-2.57zM1975.26 1342.57h2v2h-2zM1968.16 1328.58h2.31v2.31h-2.31zM1986.19 1330.11h2.8v2.8h-2.8zM2017.19 1339.45h2.92v2.92h-2.92zM1941.51 1329.99h2.76v2.76h-2.76zM1952.67 1397.26h2.53v2.53h-2.53zM1930.02 1354.63h2.88v2.88h-2.88zM1994.74 1341.11h2.8v2.8h-2.8zM2004.26 1389.46h2.25v2.25h-2.25zM1965.97 1328.38h2.64v2.64h-2.64zM1967.04 1330.71h2.72v2.72h-2.72zM1966.59 1351.76h2.87v2.87h-2.87zM1938.6 1382.91h2.24v2.24h-2.24zM1961.81 1341.73h2.37v2.37h-2.37zM1996.98 1375.11h2.41v2.41h-2.41zM1935.02 1330.58h2.12v2.12h-2.12zM2103.6 1362.55h2.42v2.42h-2.42zM2074.97 1388.53h2.88v2.88h-2.88zM2031.54 1345.41h2.69v2.69h-2.69zM2092.16 1377.85h2.21v2.21h-2.21zM2071.35 1317.01h2.88v2.88h-2.88zM2058.3 1391.74h2.14v2.14h-2.14zM2037.96 1360.49h2.9v2.9h-2.9zM2107.02 1334.74h2.18v2.18h-2.18zM2092.31 1330.37h2.12v2.12h-2.12zM2073 1374.1h2.3v2.3h-2.3zM2075.37 1338.46h2.62v2.62h-2.62zM2113.42 1352.89h2.32v2.32h-2.32zM2103.26 1326.97h3.06v3.06h-3.06zM2091.48 1376.14h3.13v3.13h-3.13zM2047.49 1306.6h2.34v2.34h-2.34zM2016.48 1444.93h2.9v2.9h-2.9zM2084.62 1432.76h2.83v2.83h-2.83zM2087.92 1434.32h2.67v2.67h-2.67zM2082.91 1435.94h2.31v2.31h-2.31zM2078.12 1428.05h3.14v3.14h-3.14zM2072.95 1427.34h3.15v3.15h-3.15zM2035.07 1470.49h2.02v2.02h-2.02zM2010.16 1457.75h2.4v2.4h-2.4zM2066.71 1473.62h2.39v2.39h-2.39zM2090.07 1444.63h2.24v2.24h-2.24zM2021.09 1482.84h2.52v2.52h-2.52zM2094.64 1435.8h3.08v3.08h-3.08zM2051.12 1455.95h2.03v2.03h-2.03zM1995.64 1441.61h3v3h-3zM2023.93 1467.87h2.37v2.37h-2.37z" fill="#e8141c"/>
</g>
<clipPath id="cp_d20"><rect x="992" y="1474" width="278" height="232.5"/></clipPath>
<g clip-path="url(#cp_d20)">
<rect x="992" y="1474" width="278" height="232.5" fill="#070000"/>
<ellipse cx="1129" cy="1478" rx="15" ry="18" fill="#1c86d6" filter="url(#texd)"/>
<ellipse cx="1129" cy="1478" rx="14.4" ry="17.4" fill="none" stroke="#2ec2ee" stroke-width="2.2" opacity="0.9"/>
<ellipse cx="1057.8" cy="1518" rx="20.5" ry="27.3" transform="rotate(-10 1057.8 1518)" fill="#1c86d6" filter="url(#texd)"/>
<ellipse cx="1057.8" cy="1518" rx="19.9" ry="26.7" transform="rotate(-10 1057.8 1518)" fill="none" stroke="#2ec2ee" stroke-width="2.2" opacity="0.9"/>
<ellipse cx="1223.8" cy="1541.7" rx="28.8" ry="20.3" fill="#1c86d6" filter="url(#texd)"/>
<ellipse cx="1223.8" cy="1541.7" rx="28.2" ry="19.7" fill="none" stroke="#2ec2ee" stroke-width="2.2" opacity="0.9"/>
<ellipse cx="995" cy="1554" rx="14" ry="18" fill="#1c86d6" filter="url(#texd)"/>
<ellipse cx="995" cy="1554" rx="13.4" ry="17.4" fill="none" stroke="#2ec2ee" stroke-width="2.2" opacity="0.9"/>
<ellipse cx="1017.3" cy="1601.3" rx="16.7" ry="18.3" fill="#1c86d6" filter="url(#texd)"/>
<ellipse cx="1017.3" cy="1601.3" rx="16.1" ry="17.7" fill="none" stroke="#2ec2ee" stroke-width="2.2" opacity="0.9"/>
<ellipse cx="1155.7" cy="1608.5" rx="28.3" ry="22.2" transform="rotate(25 1155.7 1608.5)" fill="#1c86d6" filter="url(#texd)"/>
<ellipse cx="1155.7" cy="1608.5" rx="27.7" ry="21.6" transform="rotate(25 1155.7 1608.5)" fill="none" stroke="#2ec2ee" stroke-width="2.2" opacity="0.9"/>
<ellipse cx="1013" cy="1674" rx="22" ry="24" fill="#1c86d6" filter="url(#texd)"/>
<ellipse cx="1013" cy="1674" rx="21.4" ry="23.4" fill="none" stroke="#2ec2ee" stroke-width="2.2" opacity="0.9"/>
<ellipse cx="1268" cy="1690" rx="18" ry="25" fill="#1c86d6" filter="url(#texd)"/>
<ellipse cx="1268" cy="1690" rx="17.4" ry="24.4" fill="none" stroke="#2ec2ee" stroke-width="2.2" opacity="0.9"/>
<path d="M1071.29 1666.18h2.48v2.48h-2.48zM1025.82 1677.39h2.57v2.57h-2.57zM1049.1 1676h2.33v2.33h-2.33zM1042.37 1672.1h3.15v3.15h-3.15zM1028.51 1686.34h2.94v2.94h-2.94zM1005.15 1669.09h2.82v2.82h-2.82zM989.75 1659.54h2.37v2.37h-2.37zM1024.28 1646.21h2.88v2.88h-2.88zM1063.54 1650.56h2.58v2.58h-2.58zM999.8 1655.69h2.96v2.96h-2.96zM1020.88 1673.42h2.44v2.44h-2.44zM1054.88 1648.06h3.06v3.06h-3.06zM1063.83 1680.35h2.82v2.82h-2.82zM1034.99 1660.15h2.54v2.54h-2.54zM1021.95 1649.72h2.68v2.68h-2.68zM1027.35 1510.41h2.97v2.97h-2.97zM1044.09 1541.47h2.63v2.63h-2.63zM1050.63 1503.31h3.15v3.15h-3.15zM1043.01 1500.38h2.01v2.01h-2.01zM1073.53 1516.56h3.08v3.08h-3.08zM1056.85 1510.7h2.86v2.86h-2.86zM1056.89 1532.27h2.59v2.59h-2.59zM1073.58 1541.89h3.02v3.02h-3.02zM1240.21 1562.7h2.18v2.18h-2.18zM1249.76 1552.27h2.41v2.41h-2.41zM1232.71 1530.39h2.86v2.86h-2.86zM1230.61 1564.2h2.99v2.99h-2.99zM1185.83 1544.16h2.45v2.45h-2.45zM1210.16 1554.51h3.19v3.19h-3.19zM1246.24 1533.97h2.78v2.78h-2.78zM1260.89 1533.03h2.05v2.05h-2.05zM1163.01 1633.53h2.15v2.15h-2.15zM1166.73 1604.63h2.09v2.09h-2.09zM1174.13 1583.6h2.68v2.68h-2.68zM1153.68 1581.68h2.39v2.39h-2.39zM1185.53 1628.98h2.31v2.31h-2.31zM1182.07 1627.31h2.54v2.54h-2.54zM1150.18 1589.51h2.09v2.09h-2.09zM1075.44 1549.08h3.09v3.09h-3.09zM1098.59 1568.09h3.01v3.01h-3.01zM1149.66 1566.07h2.67v2.67h-2.67zM1119.01 1546.3h2.53v2.53h-2.53zM1117.67 1553.46h2.37v2.37h-2.37zM1084.92 1576.42h2.72v2.72h-2.72zM1073.52 1579.74h2.42v2.42h-2.42zM1145.35 1546.58h3.17v3.17h-3.17zM1005.27 1637.67h3.15v3.15h-3.15zM1257.91 1553.23h2.87v2.87h-2.87zM1230.57 1634.21h2.99v2.99h-2.99zM1113.63 1504.18h2.09v2.09h-2.09zM1262.83 1599.4h2.15v2.15h-2.15zM1028.75 1620.75h2.41v2.41h-2.41zM1157.97 1535.92h2.15v2.15h-2.15zM1261.02 1608.04h2.51v2.51h-2.51zM1124.76 1610.53h3.18v3.18h-3.18zM1219.73 1671.56h3v3h-3zM1125.95 1448.91h3.15v3.15h-3.15zM1114.75 1450.32h2.27v2.27h-2.27zM1137.9 1489.87h2.27v2.27h-2.27zM1115.56 1485.29h2.03v2.03h-2.03zM1139.27 1487.4h2.33v2.33h-2.33zM1141.14 1452.47h2.07v2.07h-2.07zM1110.72 1477.58h2.63v2.63h-2.63zM1137.24 1491.44h2.36v2.36h-2.36zM1140.16 1461.73h2.81v2.81h-2.81zM1125.27 1504.94h2.67v2.67h-2.67zM1112.54 1468.13h2.72v2.72h-2.72zM1108.93 1475.18h2.36v2.36h-2.36zM1076.35 1515.84h2.88v2.88h-2.88zM1054.42 1531.55h2.83v2.83h-2.83zM1095.15 1520.93h2.86v2.86h-2.86zM1045.04 1491.45h2.57v2.57h-2.57zM1052.91 1489.95h2.56v2.56h-2.56zM1030.81 1509.65h2.34v2.34h-2.34zM1056.02 1502.78h2.05v2.05h-2.05zM1062.21 1486.66h2.56v2.56h-2.56zM1063.82 1536.02h2.74v2.74h-2.74zM1051.47 1490.62h2.22v2.22h-2.22zM1054.52 1465.37h3.03v3.03h-3.03zM1035.09 1490.46h3.05v3.05h-3.05zM1037.14 1505.55h3.02v3.02h-3.02zM1082.96 1542.67h2.98v2.98h-2.98zM1035.62 1538.09h2.59v2.59h-2.59zM1042.66 1538.8h2.21v2.21h-2.21zM1045.9 1539.17h2.33v2.33h-2.33zM1048.14 1490.87h2.89v2.89h-2.89zM1190.15 1547.62h3.18v3.18h-3.18zM1257.04 1542.97h2.13v2.13h-2.13zM1258.55 1530.53h2.01v2.01h-2.01zM1250.45 1548.03h2.42v2.42h-2.42zM1237.05 1523.62h2.42v2.42h-2.42zM1236.16 1508.35h2.72v2.72h-2.72zM1196.06 1556.7h2.13v2.13h-2.13zM1234.69 1529.35h3.01v3.01h-3.01zM1274.42 1537.09h2.41v2.41h-2.41zM1212.8 1541.9h3.09v3.09h-3.09zM1219.89 1523.85h2.4v2.4h-2.4zM1196.97 1509.66h2.37v2.37h-2.37zM1208.08 1531.33h2.21v2.21h-2.21zM1181.5 1555.68h3.16v3.16h-3.16zM1253.18 1529.93h2.71v2.71h-2.71zM1203.71 1560.13h2.99v2.99h-2.99zM1208.94 1559.86h2.08v2.08h-2.08zM1215.96 1516.19h2.65v2.65h-2.65zM1009.84 1544.96h2.88v2.88h-2.88zM1009.45 1569.64h3.18v3.18h-3.18zM983.28 1539.66h3.12v3.12h-3.12zM1004.37 1566.22h2.12v2.12h-2.12zM1004.84 1579.09h2.45v2.45h-2.45zM971.04 1549.63h3.2v3.2h-3.2zM981.63 1543.4h2.64v2.64h-2.64zM992.15 1574.09h3.15v3.15h-3.15zM998.83 1548.67h2.3v2.3h-2.3zM1005.1 1568.53h2.03v2.03h-2.03zM994.57 1528.32h3.14v3.14h-3.14zM978.67 1555.92h2.32v2.32h-2.32zM987.48 1615.75h2.67v2.67h-2.67zM1015.97 1629.78h2.43v2.43h-2.43zM1002.97 1613.09h2.69v2.69h-2.69zM1031.1 1618.88h3.12v3.12h-3.12zM991.63 1606.38h3.14v3.14h-3.14zM1018.09 1608.92h3.05v3.05h-3.05zM1004.59 1572.56h2.31v2.31h-2.31zM1008.66 1603.31h2.99v2.99h-2.99zM1020.12 1617.36h2.02v2.02h-2.02zM1000.91 1594.66h2.5v2.5h-2.5zM1011.58 1623.52h3.13v3.13h-3.13zM1021.42 1578.02h2.31v2.31h-2.31zM1012.96 1595.12h2.44v2.44h-2.44zM1163.71 1650.14h2.7v2.7h-2.7zM1122.5 1586.52h2.28v2.28h-2.28zM1144.59 1631.79h2.85v2.85h-2.85zM1175.86 1563.97h2.78v2.78h-2.78zM1141.05 1633.25h2.11v2.11h-2.11zM1173.62 1641.29h3.1v3.1h-3.1zM1147.6 1614.22h2.09v2.09h-2.09zM1184.04 1582.07h2.84v2.84h-2.84zM1145.66 1583.59h2.42v2.42h-2.42zM1176.83 1634.3h2.17v2.17h-2.17zM1179.49 1626.42h2.09v2.09h-2.09zM1121.8 1603.19h3.2v3.2h-3.2zM1147.82 1621.41h2.96v2.96h-2.96zM1145.95 1575.85h2.55v2.55h-2.55zM1160.47 1617.12h2.95v2.95h-2.95zM1110.13 1582.63h3.16v3.16h-3.16zM1125.7 1582.77h3.11v3.11h-3.11zM1182.56 1628.38h2.64v2.64h-2.64zM1186.98 1626.24h2.33v2.33h-2.33zM1013.84 1661.13h2.62v2.62h-2.62zM1030.05 1644.82h3.18v3.18h-3.18zM1029.95 1688.83h2.88v2.88h-2.88zM1028.79 1700.3h2.8v2.8h-2.8zM1007.72 1681.35h3.01v3.01h-3.01zM1001.85 1680.35h2.49v2.49h-2.49zM977.99 1660.36h2.67v2.67h-2.67zM1037.89 1690.22h3.02v3.02h-3.02zM1044.51 1657.04h2.24v2.24h-2.24zM983.27 1665.45h3.03v3.03h-3.03zM1002.78 1668.06h2.03v2.03h-2.03zM1032.41 1688.56h2.64v2.64h-2.64zM995.44 1668.32h2.69v2.69h-2.69zM1020.39 1641.51h2.18v2.18h-2.18zM1034.28 1649.36h3.11v3.11h-3.11zM999.79 1637.8h2.53v2.53h-2.53zM1001.66 1689.7h2.22v2.22h-2.22zM1246.48 1695.86h2.49v2.49h-2.49zM1243.6 1685.97h2.71v2.71h-2.71zM1281.53 1670.11h2.51v2.51h-2.51zM1283 1662.64h2v2h-2zM1248.51 1679.68h2.11v2.11h-2.11zM1277.19 1644.06h2.86v2.86h-2.86zM1283.58 1702.55h2.16v2.16h-2.16zM1273.33 1666.1h2.31v2.31h-2.31zM1242.15 1676.58h2.97v2.97h-2.97zM1285.59 1705.32h3.03v3.03h-3.03zM1277.06 1699.57h3.06v3.06h-3.06zM1251.88 1663.42h2.21v2.21h-2.21zM1274.74 1692.62h2.01v2.01h-2.01zM1268.65 1672.68h2.91v2.91h-2.91zM1268.12 1672.7h2.72v2.72h-2.72zM1294.88 1660.71h2.44v2.44h-2.44z" fill="#e8141c"/>
</g>
<clipPath id="cp_d21"><rect x="1282.5" y="1474" width="278.5" height="232.5"/></clipPath>
<g clip-path="url(#cp_d21)">
<rect x="1282.5" y="1474" width="278.5" height="232.5" fill="#070000"/>
<ellipse cx="1336" cy="1480" rx="28" ry="22" fill="#1c86d6" filter="url(#texd)"/>
<ellipse cx="1336" cy="1480" rx="27.4" ry="21.4" fill="none" stroke="#2ec2ee" stroke-width="2.2" opacity="0.9"/>
<ellipse cx="1452.5" cy="1523.5" rx="34" ry="22.8" transform="rotate(-10 1452.5 1523.5)" fill="#1c86d6" filter="url(#texd)"/>
<ellipse cx="1452.5" cy="1523.5" rx="33.4" ry="22.2" transform="rotate(-10 1452.5 1523.5)" fill="none" stroke="#2ec2ee" stroke-width="2.2" opacity="0.9"/>
<ellipse cx="1322.8" cy="1580.5" rx="28.8" ry="20.8" transform="rotate(-10 1322.8 1580.5)" fill="#1c86d6" filter="url(#texd)"/>
<ellipse cx="1322.8" cy="1580.5" rx="28.2" ry="20.2" transform="rotate(-10 1322.8 1580.5)" fill="none" stroke="#2ec2ee" stroke-width="2.2" opacity="0.9"/>
<ellipse cx="1474.3" cy="1605.8" rx="28.3" ry="27.8" fill="#1c86d6" filter="url(#texd)"/>
<ellipse cx="1474.3" cy="1605.8" rx="27.7" ry="27.2" fill="none" stroke="#2ec2ee" stroke-width="2.2" opacity="0.9"/>
<ellipse cx="1375.5" cy="1679" rx="30.5" ry="19.2" fill="#1c86d6" filter="url(#texd)"/>
<ellipse cx="1375.5" cy="1679" rx="29.9" ry="18.6" fill="none" stroke="#2ec2ee" stroke-width="2.2" opacity="0.9"/>
<path d="M1360.52 1485.33h3.16v3.16h-3.16zM1336.94 1502.57h3.07v3.07h-3.07zM1352.9 1482.34h2.54v2.54h-2.54zM1364.64 1493.4h2.13v2.13h-2.13zM1349.45 1491.12h2.55v2.55h-2.55zM1297.83 1492.95h2.62v2.62h-2.62zM1324.41 1496.07h2.94v2.94h-2.94zM1318.97 1485.45h2.22v2.22h-2.22zM1307.47 1495.88h2.34v2.34h-2.34zM1318.4 1503.35h3.18v3.18h-3.18zM1340.1 1491.29h2.01v2.01h-2.01zM1315.86 1471.57h2.73v2.73h-2.73zM1346.23 1479.96h2.11v2.11h-2.11zM1333.78 1463.09h2.9v2.9h-2.9zM1324.91 1490.26h2.51v2.51h-2.51zM1443.55 1580.93h3.11v3.11h-3.11zM1443.39 1608.57h2.27v2.27h-2.27zM1459.67 1574.76h3.05v3.05h-3.05zM1456.66 1611.86h2.27v2.27h-2.27zM1441.47 1610.69h2.06v2.06h-2.06zM1509.67 1579.79h2.1v2.1h-2.1zM1449.78 1595.95h2.09v2.09h-2.09zM1479.86 1635.06h2.47v2.47h-2.47zM1471.79 1583.56h3.17v3.17h-3.17zM1457.32 1566.58h2.43v2.43h-2.43zM1439.71 1627.99h2.86v2.86h-2.86zM1440.48 1616.51h2.04v2.04h-2.04zM1487.26 1590.28h2.62v2.62h-2.62zM1448.46 1636.42h2.65v2.65h-2.65zM1473.78 1531.66h2.12v2.12h-2.12zM1412.24 1528.1h2.7v2.7h-2.7zM1421.14 1499.05h2.54v2.54h-2.54zM1449.96 1522.61h2.39v2.39h-2.39zM1458.26 1526.4h3v3h-3zM1443.86 1525.98h2.83v2.83h-2.83zM1415.61 1519.4h2.14v2.14h-2.14zM1463.23 1554.88h2.13v2.13h-2.13zM1287.41 1594.15h2.06v2.06h-2.06zM1301.1 1597.25h2.32v2.32h-2.32zM1300.81 1574.62h2.76v2.76h-2.76zM1320.89 1576.55h3.16v3.16h-3.16zM1320.48 1595.41h3.16v3.16h-3.16zM1341.37 1564.16h3.04v3.04h-3.04zM1342.23 1582.66h2.15v2.15h-2.15zM1342.27 1661.38h2.95v2.95h-2.95zM1404.3 1695.3h2.91v2.91h-2.91zM1348.54 1692.5h2.57v2.57h-2.57zM1347.19 1687.85h3.19v3.19h-3.19zM1416.7 1676.93h2.72v2.72h-2.72zM1407.51 1666.24h2.14v2.14h-2.14zM1368.66 1668.13h2.26v2.26h-2.26zM1413.94 1684.93h2.16v2.16h-2.16zM1357.02 1657.54h2.73v2.73h-2.73zM1364.7 1692.94h2.75v2.75h-2.75zM1491.83 1550.21h3.03v3.03h-3.03zM1484.26 1596.95h2.01v2.01h-2.01zM1389.32 1612.25h2.01v2.01h-2.01zM1530.77 1574.05h3.17v3.17h-3.17zM1412.19 1582.27h2.31v2.31h-2.31zM1371.12 1607.05h2.32v2.32h-2.32zM1390.77 1490.66h3.04v3.04h-3.04zM1437.26 1494.04h2.13v2.13h-2.13zM1419.43 1597.28h2.95v2.95h-2.95zM1508.04 1644.08h3.08v3.08h-3.08zM1348.51 1458.64h2.67v2.67h-2.67zM1371.97 1506.31h2.73v2.73h-2.73zM1380.22 1479.42h2.01v2.01h-2.01zM1346.61 1450.62h2.73v2.73h-2.73zM1390.11 1475.05h2.74v2.74h-2.74zM1370.14 1494.4h2.93v2.93h-2.93zM1341.69 1515.27h2.62v2.62h-2.62zM1389.01 1495.85h2.14v2.14h-2.14zM1366.89 1505.03h2.27v2.27h-2.27zM1307.75 1475.92h2.78v2.78h-2.78zM1320.83 1497.3h2.1v2.1h-2.1zM1370.11 1455.39h2.13v2.13h-2.13zM1356.94 1454.4h2.3v2.3h-2.3zM1325.24 1475.26h2.96v2.96h-2.96zM1331.18 1485.43h2.66v2.66h-2.66zM1328.1 1453.93h2.43v2.43h-2.43zM1311.48 1462.37h3.16v3.16h-3.16zM1298.18 1452.01h2.7v2.7h-2.7zM1309.64 1470.34h2.29v2.29h-2.29zM1356.92 1458.78h2.68v2.68h-2.68zM1464.62 1515.1h3.03v3.03h-3.03zM1434.57 1524.55h2.44v2.44h-2.44zM1402.86 1522.42h2.52v2.52h-2.52zM1419.77 1505.37h2.69v2.69h-2.69zM1458.68 1470.57h3.18v3.18h-3.18zM1452.98 1513.46h2.77v2.77h-2.77zM1460.65 1542.53h2.22v2.22h-2.22zM1467.09 1529.89h2.7v2.7h-2.7zM1490.81 1516.39h2.39v2.39h-2.39zM1489.98 1515.8h2.57v2.57h-2.57zM1458 1551.28h2.86v2.86h-2.86zM1441.79 1541.66h2.02v2.02h-2.02zM1443.7 1496.56h2.61v2.61h-2.61zM1496.72 1514.86h2.38v2.38h-2.38zM1467.37 1546.88h2.72v2.72h-2.72zM1465.71 1510.28h2.98v2.98h-2.98zM1434.71 1520.72h2.56v2.56h-2.56zM1413.31 1507.13h2.76v2.76h-2.76zM1444.69 1528.48h2.35v2.35h-2.35zM1471.16 1491.18h2.31v2.31h-2.31zM1471.58 1508.2h2.61v2.61h-2.61zM1474.79 1543.01h2.64v2.64h-2.64zM1470.23 1481.25h2.27v2.27h-2.27zM1303.17 1596.38h2.92v2.92h-2.92zM1296.39 1554.86h2.6v2.6h-2.6zM1306.51 1593.63h2.43v2.43h-2.43zM1328.71 1587.4h2.3v2.3h-2.3zM1283.35 1556.01h3v3h-3zM1317.81 1556.63h3.08v3.08h-3.08zM1308.22 1579.14h3.13v3.13h-3.13zM1332.2 1586.38h2.3v2.3h-2.3zM1345.03 1558.5h2.09v2.09h-2.09zM1292.68 1571.37h2.76v2.76h-2.76zM1340.87 1578.47h2.03v2.03h-2.03zM1301.26 1572.46h3.03v3.03h-3.03zM1328.6 1606.35h2.81v2.81h-2.81zM1347.83 1567.5h2.4v2.4h-2.4zM1282.56 1602.4h2.53v2.53h-2.53zM1321.17 1535.58h2.82v2.82h-2.82zM1301.91 1539.37h2.19v2.19h-2.19zM1319.3 1553.28h2.44v2.44h-2.44zM1292.89 1574.86h2.94v2.94h-2.94zM1336.38 1612.38h2.82v2.82h-2.82zM1440.64 1606.58h2.7v2.7h-2.7zM1519.73 1601.77h2.12v2.12h-2.12zM1483.7 1572.78h2.26v2.26h-2.26zM1510.29 1590.32h2.31v2.31h-2.31zM1462.57 1617.92h2.04v2.04h-2.04zM1435.27 1596.77h2.77v2.77h-2.77zM1488 1611.48h2.69v2.69h-2.69zM1452 1633h3.11v3.11h-3.11zM1444.95 1599.2h2.67v2.67h-2.67zM1446.01 1593.96h3.1v3.1h-3.1zM1466.04 1638.96h2.56v2.56h-2.56zM1427.13 1606.41h2.62v2.62h-2.62zM1485.41 1605.03h2.34v2.34h-2.34zM1437.86 1641.82h2.56v2.56h-2.56zM1427.55 1622.07h3.12v3.12h-3.12zM1518.46 1594.07h2.59v2.59h-2.59zM1460.09 1626.92h2v2h-2zM1433.74 1596.11h2.42v2.42h-2.42zM1509.46 1620.54h2.24v2.24h-2.24zM1464.55 1642.76h2.75v2.75h-2.75zM1449.91 1629h2.61v2.61h-2.61zM1468.76 1636.14h2.57v2.57h-2.57zM1387.17 1676.44h3.11v3.11h-3.11zM1378.97 1667.06h2.91v2.91h-2.91zM1380.8 1658.97h2.1v2.1h-2.1zM1401.88 1663.69h2.04v2.04h-2.04zM1390.22 1653.77h2.84v2.84h-2.84zM1373.21 1689.58h2.72v2.72h-2.72zM1399.31 1682.74h2.78v2.78h-2.78zM1339.46 1666.76h2.6v2.6h-2.6zM1395.14 1696.08h2.04v2.04h-2.04zM1371.68 1696.71h2.54v2.54h-2.54zM1365.72 1646.44h3v3h-3zM1418.49 1669.3h2.72v2.72h-2.72zM1406.95 1684.66h2.05v2.05h-2.05zM1399.01 1695.94h2.15v2.15h-2.15zM1342.34 1666.09h3.09v3.09h-3.09zM1368.11 1658.93h2.65v2.65h-2.65zM1353.49 1711.79h2.2v2.2h-2.2zM1390.85 1676.57h2.85v2.85h-2.85zM1335.36 1685.35h3.11v3.11h-3.11zM1372.44 1652.65h3.04v3.04h-3.04z" fill="#e8141c"/>
</g>
<clipPath id="cp_d22"><rect x="1575" y="1474" width="277.4" height="232.5"/></clipPath>
<g clip-path="url(#cp_d22)">
<rect x="1575" y="1474" width="277.4" height="232.5" fill="#070000"/>
<ellipse cx="1655" cy="1605" rx="25" ry="22" fill="#0d4a8c" opacity="0.75" filter="url(#tex3)"/>
<ellipse cx="1725" cy="1662" rx="32" ry="20" fill="#0d4a8c" opacity="0.75" filter="url(#tex3)"/>
<ellipse cx="1680.7" cy="1563.7" rx="26.7" ry="31.7" fill="#1c86d6" filter="url(#texd)"/>
<ellipse cx="1680.7" cy="1563.7" rx="26.1" ry="31.1" fill="none" stroke="#2ec2ee" stroke-width="2.2" opacity="0.9"/>
<ellipse cx="1737.2" cy="1627.2" rx="25.5" ry="22.5" fill="#1c86d6" filter="url(#texd)"/>
<ellipse cx="1737.2" cy="1627.2" rx="24.9" ry="21.9" fill="none" stroke="#2ec2ee" stroke-width="2.2" opacity="0.9"/>
<ellipse cx="1845" cy="1547" rx="27" ry="23" fill="#1c86d6" filter="url(#texd)"/>
<ellipse cx="1845" cy="1547" rx="26.4" ry="22.4" fill="none" stroke="#2ec2ee" stroke-width="2.2" opacity="0.9"/>
<ellipse cx="1772" cy="1706" rx="30.5" ry="28" fill="#1c86d6" filter="url(#texd)"/>
<ellipse cx="1772" cy="1706" rx="29.9" ry="27.4" fill="none" stroke="#2ec2ee" stroke-width="2.2" opacity="0.9"/>
<ellipse cx="1578" cy="1476" rx="5" ry="8" fill="#1c86d6" filter="url(#texd)"/>
<ellipse cx="1578" cy="1476" rx="4.4" ry="7.4" fill="none" stroke="#2ec2ee" stroke-width="2.2" opacity="0.9"/>
<path d="M1656.44 1514.96h3.19v3.19h-3.19zM1702.18 1558.2h2.07v2.07h-2.07zM1687.61 1522.25h2.07v2.07h-2.07zM1701.82 1573.05h2.39v2.39h-2.39zM1677.98 1540.64h2.09v2.09h-2.09zM1705.94 1555.05h3.14v3.14h-3.14zM1708.92 1534.81h2.43v2.43h-2.43zM1688.01 1534.66h2.47v2.47h-2.47zM1722.24 1622.61h3.03v3.03h-3.03zM1729.02 1638.77h2.64v2.64h-2.64zM1728.29 1630.07h2.76v2.76h-2.76zM1720.15 1608.65h2.53v2.53h-2.53zM1761.07 1613.91h2.55v2.55h-2.55zM1764.44 1641.21h3.15v3.15h-3.15zM1681.19 1662.39h2.33v2.33h-2.33zM1703.72 1669.04h2.63v2.63h-2.63zM1709.57 1658.74h2.57v2.57h-2.57zM1739.49 1667.08h2.17v2.17h-2.17zM1733.99 1658.8h2.18v2.18h-2.18zM1700.53 1686.74h2.61v2.61h-2.61zM1686.48 1516.27h2.96v2.96h-2.96zM1695.26 1659.14h2.52v2.52h-2.52zM1695.31 1537.68h2.07v2.07h-2.07zM1757.93 1652.49h3.12v3.12h-3.12zM1690.58 1565.13h2.17v2.17h-2.17zM1691.22 1695.91h3.06v3.06h-3.06zM1675.78 1605.5h2.05v2.05h-2.05zM1673.67 1580.66h2.78v2.78h-2.78zM1709.12 1525.08h2.18v2.18h-2.18zM1657.11 1537.25h2.31v2.31h-2.31zM1662.63 1528.82h2.51v2.51h-2.51zM1708.4 1598.6h2.91v2.91h-2.91zM1705.79 1520.27h2.52v2.52h-2.52zM1652.79 1563.95h2.5v2.5h-2.5zM1666.1 1557.06h2.48v2.48h-2.48zM1718.18 1574.04h2.62v2.62h-2.62zM1698.58 1597.3h2.34v2.34h-2.34zM1728.77 1654.41h3.14v3.14h-3.14zM1734.1 1593.54h2.23v2.23h-2.23zM1748.84 1606.93h2.16v2.16h-2.16zM1734.55 1666.59h2.66v2.66h-2.66zM1721.69 1640.93h2.42v2.42h-2.42zM1717.31 1587.73h2.87v2.87h-2.87zM1764.11 1637.74h2.05v2.05h-2.05zM1722.91 1598.89h2.81v2.81h-2.81zM1740.1 1647.18h2.44v2.44h-2.44zM1815.35 1582.65h3.11v3.11h-3.11zM1836.46 1583.01h2.36v2.36h-2.36zM1874.22 1565.7h2.52v2.52h-2.52zM1874.77 1538.5h2.38v2.38h-2.38zM1824.48 1564.51h2.64v2.64h-2.64zM1859.19 1526.58h2.34v2.34h-2.34zM1873.54 1557.37h2.8v2.8h-2.8zM1812.34 1559.34h2.49v2.49h-2.49zM1809.87 1540.67h2.85v2.85h-2.85zM1807.21 1706.65h2.35v2.35h-2.35zM1750.43 1679.86h2.55v2.55h-2.55zM1795.93 1687.51h2.67v2.67h-2.67zM1735.52 1710.13h2.86v2.86h-2.86zM1814.43 1720.99h2.78v2.78h-2.78zM1769.04 1682.57h2.51v2.51h-2.51zM1807.6 1698.23h2.1v2.1h-2.1zM1758.22 1649.97h2.13v2.13h-2.13zM1790.3 1669.64h2.18v2.18h-2.18zM1789.92 1741.07h2.22v2.22h-2.22zM1756.65 1730.38h2.22v2.22h-2.22z" fill="#e8141c"/>
</g>
<clipPath id="cp_d23"><rect x="1865" y="1474" width="277" height="232.5"/></clipPath>
<g clip-path="url(#cp_d23)">
<rect x="1865" y="1474" width="277" height="232.5" fill="#070000"/>
<ellipse cx="2110" cy="1653" rx="20" ry="15" fill="#0d4a8c" opacity="0.75" filter="url(#tex3)"/>
<ellipse cx="1989" cy="1507" rx="27.5" ry="22.5" transform="rotate(10 1989 1507)" fill="#1c86d6" filter="url(#texd)"/>
<ellipse cx="1989" cy="1507" rx="26.9" ry="21.9" transform="rotate(10 1989 1507)" fill="none" stroke="#2ec2ee" stroke-width="2.2" opacity="0.9"/>
<ellipse cx="1915.5" cy="1594" rx="27" ry="29" fill="#1c86d6" filter="url(#texd)"/>
<ellipse cx="1915.5" cy="1594" rx="26.4" ry="28.4" fill="none" stroke="#2ec2ee" stroke-width="2.2" opacity="0.9"/>
<ellipse cx="1990.7" cy="1582" rx="23.3" ry="34" fill="#1c86d6" filter="url(#texd)"/>
<ellipse cx="1990.7" cy="1582" rx="22.7" ry="33.4" fill="none" stroke="#2ec2ee" stroke-width="2.2" opacity="0.9"/>
<ellipse cx="2125" cy="1614.7" rx="27" ry="28.4" fill="#1c86d6" filter="url(#texd)"/>
<ellipse cx="2125" cy="1614.7" rx="26.4" ry="27.8" fill="none" stroke="#2ec2ee" stroke-width="2.2" opacity="0.9"/>
<ellipse cx="1988.8" cy="1684" rx="22.8" ry="24" fill="#1c86d6" filter="url(#texd)"/>
<ellipse cx="1988.8" cy="1684" rx="22.2" ry="23.4" fill="none" stroke="#2ec2ee" stroke-width="2.2" opacity="0.9"/>
<ellipse cx="2046.7" cy="1710" rx="18" ry="16" fill="#1c86d6" filter="url(#texd)"/>
<ellipse cx="2046.7" cy="1710" rx="17.4" ry="15.4" fill="none" stroke="#2ec2ee" stroke-width="2.2" opacity="0.9"/>
<ellipse cx="2140" cy="1495" rx="5" ry="15" fill="#1c86d6" filter="url(#texd)"/>
<ellipse cx="2140" cy="1495" rx="4.4" ry="14.4" fill="none" stroke="#2ec2ee" stroke-width="2.2" opacity="0.9"/>
<ellipse cx="1950" cy="1638" rx="13" ry="7" fill="#1a7fcf" filter="url(#texm)"/>
<path d="M1901.71 1579.11h2.04v2.04h-2.04zM1929.73 1587.95h2.96v2.96h-2.96zM1913.98 1615.62h2.96v2.96h-2.96zM1933.83 1624.51h3.04v3.04h-3.04zM1896.18 1589.36h2.31v2.31h-2.31zM1925.61 1567.9h3.12v3.12h-3.12zM1885.67 1612.29h2.45v2.45h-2.45zM1899.02 1576.61h2.54v2.54h-2.54zM1933.68 1611.58h3.14v3.14h-3.14zM1936.73 1590.55h2.65v2.65h-2.65zM1981.9 1573.34h2.82v2.82h-2.82zM1993.82 1542.57h2.13v2.13h-2.13zM1974.08 1603.63h2.01v2.01h-2.01zM1971.32 1582.01h2.32v2.32h-2.32zM1992.07 1599.56h2.13v2.13h-2.13zM1978.88 1553.87h2.99v2.99h-2.99zM2021.9 1571.86h2.3v2.3h-2.3zM2012.36 1552.34h3.15v3.15h-3.15zM1991.48 1577.6h2.81v2.81h-2.81zM2012.61 1616.22h2.23v2.23h-2.23zM2140.09 1594h2.85v2.85h-2.85zM2109.33 1598.02h2.38v2.38h-2.38zM2113.49 1619.76h2.63v2.63h-2.63zM2108.94 1608.5h2.09v2.09h-2.09zM2143.67 1636.13h3v3h-3zM2098.48 1598.71h2.94v2.94h-2.94zM2117.44 1639.22h2.7v2.7h-2.7zM1982.23 1531.05h2.83v2.83h-2.83zM1994.97 1528.25h2.41v2.41h-2.41zM1969.13 1504.1h2.15v2.15h-2.15zM2009.2 1517.21h2.39v2.39h-2.39zM1956.23 1505.3h2.89v2.89h-2.89zM1992.03 1518.96h2.68v2.68h-2.68zM2086.68 1569.44h2.16v2.16h-2.16zM2102.42 1566.33h2.29v2.29h-2.29zM2109.95 1522.16h2.57v2.57h-2.57zM2091.69 1478.14h2.02v2.02h-2.02zM2119.87 1545.81h2.05v2.05h-2.05zM2122.02 1505.03h2.54v2.54h-2.54zM2074.64 1505.27h2.16v2.16h-2.16zM1971.42 1587.69h3.07v3.07h-3.07zM2072.3 1532.72h2.15v2.15h-2.15zM1958.83 1636.63h2.9v2.9h-2.9zM2046.93 1686.61h2.95v2.95h-2.95zM2042.07 1531.9h2.38v2.38h-2.38zM1921.64 1539.32h2.65v2.65h-2.65zM2005.69 1607.48h3.19v3.19h-3.19zM1988.57 1490.61h2.74v2.74h-2.74zM1998.55 1508.67h2.46v2.46h-2.46zM1971.35 1477.87h3.17v3.17h-3.17zM2015.72 1509.45h2.31v2.31h-2.31zM2013.51 1504.31h3.15v3.15h-3.15zM2004.7 1493.8h2.37v2.37h-2.37zM1957.71 1504.23h2.51v2.51h-2.51zM1964.99 1490.12h2.38v2.38h-2.38zM1984.34 1488.72h2.78v2.78h-2.78zM1964.71 1481.33h3.06v3.06h-3.06zM1979.59 1481.96h2.83v2.83h-2.83zM2011.65 1495.93h2.22v2.22h-2.22zM1978.29 1539.28h3.19v3.19h-3.19zM2025.55 1506.08h2.87v2.87h-2.87zM1974.11 1469.08h2.61v2.61h-2.61zM1927.75 1548.99h3.02v3.02h-3.02zM1892.48 1558.44h2.13v2.13h-2.13zM1919.99 1586.26h2.72v2.72h-2.72zM1891.71 1597.93h2.94v2.94h-2.94zM1936.72 1607.6h2.93v2.93h-2.93zM1914.85 1558.14h2.81v2.81h-2.81zM1869.12 1623.7h2.08v2.08h-2.08zM1878.92 1590.91h2.57v2.57h-2.57zM1887.3 1599.9h2.32v2.32h-2.32zM1903.09 1561.36h2.73v2.73h-2.73zM1916.29 1561.71h2.48v2.48h-2.48zM1939.35 1610.41h2.55v2.55h-2.55zM1938.88 1567.79h2.65v2.65h-2.65zM1929.65 1548.29h2.71v2.71h-2.71zM1934.81 1564.81h3.07v3.07h-3.07zM1908.76 1552.25h2.34v2.34h-2.34zM1902.9 1628.95h2.33v2.33h-2.33zM1994.38 1622.63h2.22v2.22h-2.22zM1981.87 1540.85h2.14v2.14h-2.14zM2021.65 1584.03h3.02v3.02h-3.02zM1982.27 1621.61h3.1v3.1h-3.1zM2011.68 1594.59h2.15v2.15h-2.15zM2003.91 1610.92h2.43v2.43h-2.43zM1986.12 1612.94h3.09v3.09h-3.09zM2003.61 1621.38h3.04v3.04h-3.04zM1992.12 1621.84h3.17v3.17h-3.17zM2007.97 1603.99h3.19v3.19h-3.19zM1964.95 1569.53h2.36v2.36h-2.36zM1988.52 1531.06h2.08v2.08h-2.08zM2001.75 1620.61h2.3v2.3h-2.3zM1980.17 1535.69h2.6v2.6h-2.6zM1984.3 1618.56h2.02v2.02h-2.02zM2005.4 1556.96h2.3v2.3h-2.3zM1982.5 1638.15h2.57v2.57h-2.57zM1962.82 1619.15h2.82v2.82h-2.82zM2138.17 1640.26h2.19v2.19h-2.19zM2148.45 1654.86h2.15v2.15h-2.15zM2087.45 1655.92h2.4v2.4h-2.4zM2149.84 1620.17h2.11v2.11h-2.11zM2125.53 1591.29h2.15v2.15h-2.15zM2138.3 1614.3h2.12v2.12h-2.12zM2148.31 1628.51h2.96v2.96h-2.96zM2091.05 1662.63h3.06v3.06h-3.06zM2137.39 1592.49h2.05v2.05h-2.05zM2144.87 1595.75h2.97v2.97h-2.97zM2109.96 1610.77h3.01v3.01h-3.01zM2129.91 1648.2h2.78v2.78h-2.78zM2127.44 1579.31h2.36v2.36h-2.36zM2134.22 1591.84h2.98v2.98h-2.98zM2096.97 1612.28h2.1v2.1h-2.1zM2087.12 1639.64h2.06v2.06h-2.06zM2111.88 1606.03h3.15v3.15h-3.15zM1987.87 1665.81h2.27v2.27h-2.27zM1961.13 1674.39h3.1v3.1h-3.1zM1955.75 1687.42h2.9v2.9h-2.9zM2007.94 1693.44h2.06v2.06h-2.06zM1985.65 1720.06h2.11v2.11h-2.11zM1991.51 1719.72h2.78v2.78h-2.78zM1984.26 1643.46h2.18v2.18h-2.18zM1967.91 1675.36h2.8v2.8h-2.8zM1977.51 1671.39h2.81v2.81h-2.81zM1960.51 1683.74h2.28v2.28h-2.28zM1973.9 1668.81h2.57v2.57h-2.57zM2020.21 1652.51h2.25v2.25h-2.25zM1981.38 1657.39h3.05v3.05h-3.05zM2000.04 1660.75h2.76v2.76h-2.76zM2056.22 1679.83h2.83v2.83h-2.83zM2052.18 1691.13h2.75v2.75h-2.75zM2063.29 1704.8h2.07v2.07h-2.07zM2021.59 1723.65h3.06v3.06h-3.06zM2027.07 1707.74h2.94v2.94h-2.94zM2063.95 1684.77h2.62v2.62h-2.62zM2034.86 1685.71h2.71v2.71h-2.71zM2067.8 1709.62h2.59v2.59h-2.59zM2065.17 1705.14h2.91v2.91h-2.91zM2044.82 1724.46h2.64v2.64h-2.64z" fill="#e8141c"/>
</g>
<rect x="1172" y="1211" width="88" height="3.6" fill="#ececec"/>
<clipPath id="cp_f00"><rect x="992" y="1867.5" width="278" height="232.8"/></clipPath>
<g clip-path="url(#cp_f00)">
<rect x="992" y="1867.5" width="278" height="232.8" fill="#000"/>
<ellipse cx="1188.7" cy="1891" rx="18.7" ry="15.3" fill="#1c86d6" filter="url(#texf)"/>
<ellipse cx="1188.7" cy="1891" rx="18.1" ry="14.7" fill="none" stroke="#2ec2ee" stroke-width="2.2" opacity="0.9"/>
<ellipse cx="1002" cy="1931.3" rx="18" ry="22" fill="#1c86d6" filter="url(#texf)"/>
<ellipse cx="1002" cy="1931.3" rx="17.4" ry="21.4" fill="none" stroke="#2ec2ee" stroke-width="2.2" opacity="0.9"/>
<ellipse cx="1139" cy="2001.7" rx="27.5" ry="18" fill="#1c86d6" filter="url(#texf)"/>
<ellipse cx="1139" cy="2001.7" rx="26.9" ry="17.4" fill="none" stroke="#2ec2ee" stroke-width="2.2" opacity="0.9"/>
<ellipse cx="994" cy="1993" rx="4" ry="10" fill="#1c86d6" filter="url(#texf)"/>
<ellipse cx="994" cy="1993" rx="3.4" ry="9.4" fill="none" stroke="#2ec2ee" stroke-width="2.2" opacity="0.9"/>
<ellipse cx="1124" cy="2095" rx="22" ry="22" fill="#1c86d6" filter="url(#texf)"/>
<ellipse cx="1124" cy="2095" rx="21.4" ry="21.4" fill="none" stroke="#2ec2ee" stroke-width="2.2" opacity="0.9"/>
<ellipse cx="1030" cy="2095" rx="15" ry="12" fill="#1a7fcf" filter="url(#texm)"/>
<path d="M1139.75 1905.23h2.53v2.53h-2.53zM1144.7 1898.01h1.62v1.62h-1.62zM1114.42 1895.56h1.96v1.96h-1.96zM1141.01 1891.42h2.38v2.38h-2.38zM1119.45 1896.39h2.27v2.27h-2.27zM1124.8 1892.97h2.27v2.27h-2.27zM1117.45 1896.37h2.09v2.09h-2.09zM1161.02 1891.3h1.69v1.69h-1.69zM1149.4 1887.12h2.43v2.43h-2.43zM1155.72 1900.99h2.36v2.36h-2.36zM1136.55 1903.54h2.08v2.08h-2.08zM1126.58 1897.28h2.16v2.16h-2.16zM1171.21 1896.66h2.4v2.4h-2.4zM1125.48 1904.22h2.09v2.09h-2.09zM1155.34 1894.78h2.08v2.08h-2.08zM1122.39 1888.43h2.08v2.08h-2.08zM1122.59 1904.76h2.34v2.34h-2.34zM1149.83 1890.43h2.34v2.34h-2.34zM1161.74 1905.52h1.93v1.93h-1.93zM1127.48 1900.41h2.38v2.38h-2.38zM1117.41 1899.32h1.98v1.98h-1.98zM1167.97 1889.78h2.27v2.27h-2.27zM1145.39 1892.01h1.98v1.98h-1.98zM1141.94 1897.48h2.5v2.5h-2.5zM1149.43 1903.4h2.54v2.54h-2.54zM1153.56 1904.24h2.38v2.38h-2.38zM1161.5 1904.15h1.98v1.98h-1.98zM1130.54 1900.19h1.95v1.95h-1.95zM1136.8 1890.66h2.03v2.03h-2.03zM1172.87 1898.54h2.2v2.2h-2.2zM1144.95 1885.94h1.63v1.63h-1.63zM1139.46 1902.86h2.15v2.15h-2.15zM1139.69 1892.4h2.53v2.53h-2.53zM1169.46 1895.15h1.66v1.66h-1.66zM1136.82 1895.94h2.49v2.49h-2.49zM1139.59 1904.55h2.17v2.17h-2.17zM1155.79 1896.15h2.6v2.6h-2.6zM1136.36 1895.01h2.32v2.32h-2.32zM1171.05 1894.98h2.32v2.32h-2.32zM1154.41 1887.23h2.35v2.35h-2.35zM1150.71 1902.32h2.02v2.02h-2.02zM1167.18 1899.32h1.72v1.72h-1.72zM1155.89 1899.31h2.45v2.45h-2.45zM1157.85 1906.99h2.48v2.48h-2.48zM1148.05 1890.62h2.32v2.32h-2.32zM1228.91 1883.51h1.82v1.82h-1.82zM1228.75 1887.77h2.1v2.1h-2.1zM1221.63 1881.58h2.11v2.11h-2.11zM1223.47 1878.29h1.96v1.96h-1.96zM1223.3 1879.53h2.09v2.09h-2.09zM1226.56 1884.63h2.06v2.06h-2.06zM1215.73 1878.09h2.58v2.58h-2.58zM1219.85 1880.33h2.23v2.23h-2.23zM1216.61 1887.33h2.58v2.58h-2.58zM1231.15 1878.34h2.51v2.51h-2.51zM1231.1 1889.74h1.78v1.78h-1.78zM1235.39 1885.13h2.37v2.37h-2.37zM1218.03 1891h1.98v1.98h-1.98zM1214.86 1877.41h2.2v2.2h-2.2zM1220.6 1885.49h2.16v2.16h-2.16zM1108.03 1974.56h2.34v2.34h-2.34zM1192.07 1995.65h1.9v1.9h-1.9zM1166.72 1983.02h2.28v2.28h-2.28zM1092.55 1991.13h1.97v1.97h-1.97zM1180.56 1982.93h2.38v2.38h-2.38zM1088.34 1991.37h2.09v2.09h-2.09zM1128.39 1994.22h2.24v2.24h-2.24zM1103.02 1988.05h2.6v2.6h-2.6zM1120.49 2010.26h1.88v1.88h-1.88zM1145.03 2010.68h1.6v1.6h-1.6zM1137.75 1965.53h2.5v2.5h-2.5zM1087.59 2001.4h2.12v2.12h-2.12zM1168.24 2009.16h2.25v2.25h-2.25zM1137 1967.29h2.43v2.43h-2.43zM1120.71 2001.75h2.49v2.49h-2.49zM1182.91 1988.29h1.99v1.99h-1.99zM1119.2 1979.23h2.59v2.59h-2.59zM1172.21 2008.78h1.99v1.99h-1.99zM1093.64 2009.79h2.33v2.33h-2.33zM1112.64 1971.49h2.43v2.43h-2.43zM1093.44 1982.98h1.96v1.96h-1.96zM1177.57 2016.32h2.02v2.02h-2.02zM1099.83 1982.75h1.97v1.97h-1.97zM1145.51 2002.44h1.94v1.94h-1.94zM1125.29 1969.43h2.01v2.01h-2.01zM1124.14 1980.66h2.45v2.45h-2.45zM1088.51 1996.34h1.66v1.66h-1.66zM1103.61 1971.59h2.59v2.59h-2.59zM1182.04 2007.85h2.39v2.39h-2.39zM1184.62 1995.89h2.16v2.16h-2.16zM1123.45 1992.14h2.24v2.24h-2.24zM1097.66 2006.01h1.9v1.9h-1.9zM1149.65 1987.65h2.36v2.36h-2.36zM1087.13 1992.14h2.47v2.47h-2.47zM1179.69 2013h1.98v1.98h-1.98zM1170.42 1987.37h2.1v2.1h-2.1zM1144.74 2005.15h1.82v1.82h-1.82zM1146.21 2013.14h1.85v1.85h-1.85zM1123.82 1965.79h2.45v2.45h-2.45zM1086.04 1983.35h2.24v2.24h-2.24zM1096.83 2004.77h2.05v2.05h-2.05zM1176.41 1993.9h2.24v2.24h-2.24zM1159.98 1995.66h1.79v1.79h-1.79zM1146.28 1984.73h1.6v1.6h-1.6zM1126.09 2014.73h1.96v1.96h-1.96zM1128.92 1993.08h2.18v2.18h-2.18zM1175.78 2009.89h1.78v1.78h-1.78zM1124.37 1999.06h2.14v2.14h-2.14zM1103.96 1996.49h1.93v1.93h-1.93zM1151.77 1994.05h1.86v1.86h-1.86zM1145.56 2001.25h2.34v2.34h-2.34zM1085.1 1984.71h1.96v1.96h-1.96zM1142.18 1983.94h2.34v2.34h-2.34zM1105.19 1989.41h2.35v2.35h-2.35zM1187.29 1990.43h1.98v1.98h-1.98zM1115.87 1984.94h1.63v1.63h-1.63zM1099.98 2002.22h2.44v2.44h-2.44zM1107.43 2009.49h2.15v2.15h-2.15zM1170.66 2004.34h2.18v2.18h-2.18zM1175.38 1992.29h2.29v2.29h-2.29zM1088.61 1992.95h2.15v2.15h-2.15zM1157.74 1969.95h2.51v2.51h-2.51zM1103.26 2011.38h1.61v1.61h-1.61zM1152.9 2016.11h2.57v2.57h-2.57zM1164.21 1995.21h2.22v2.22h-2.22zM1154.61 2009.86h2.01v2.01h-2.01zM1138.12 1989.43h2.51v2.51h-2.51zM1151.27 1987.38h2.5v2.5h-2.5zM1192.68 1984.94h2.2v2.2h-2.2zM1099.2 1976.07h1.61v1.61h-1.61zM1175.06 1986.6h2.22v2.22h-2.22zM1145.67 1989.59h2.01v2.01h-2.01zM1147.91 1970.21h2.17v2.17h-2.17zM1142.5 1982.35h2.43v2.43h-2.43zM1175.47 2004.98h1.73v1.73h-1.73zM1101.04 1978.36h2.44v2.44h-2.44zM1157.88 2014.45h1.91v1.91h-1.91zM1167.69 1991.14h1.85v1.85h-1.85zM1163.3 1967.55h1.64v1.64h-1.64zM1121.2 1976.54h1.71v1.71h-1.71zM1104.52 2004.14h1.87v1.87h-1.87zM1150.16 1999.72h2.13v2.13h-2.13zM1134.24 2006.01h2.54v2.54h-2.54zM1167.29 1983.46h1.77v1.77h-1.77zM1169.92 1978.18h1.89v1.89h-1.89zM1183.03 1977.02h1.97v1.97h-1.97zM1129.51 1974.38h2.24v2.24h-2.24zM1140.74 2016.54h1.95v1.95h-1.95zM1118.91 2019.14h2.27v2.27h-2.27zM1183.75 2000.47h1.75v1.75h-1.75zM1119.22 2010.66h1.64v1.64h-1.64zM1083.45 1986.09h2.18v2.18h-2.18zM1173.47 1993.11h2.32v2.32h-2.32zM1193.81 1986.37h1.73v1.73h-1.73zM1096.22 1990.5h1.65v1.65h-1.65zM1155.56 2019.08h2.27v2.27h-2.27zM1088.75 1996.56h1.67v1.67h-1.67zM1179.13 1982.57h2.53v2.53h-2.53zM1124.31 1972.94h2.29v2.29h-2.29zM1165.84 2009.03h1.76v1.76h-1.76zM1161.77 1998.87h2.01v2.01h-2.01zM1174.67 1991.92h1.66v1.66h-1.66zM1164.43 2009.01h1.69v1.69h-1.69zM1181.04 2002.63h1.95v1.95h-1.95zM1142.44 2007.62h2.48v2.48h-2.48zM1102.36 1971.87h2.51v2.51h-2.51zM1187.69 1995.99h2.35v2.35h-2.35zM1103.67 1983.56h2.24v2.24h-2.24zM1133.52 1995.41h2.18v2.18h-2.18zM1113.91 2011.36h2.11v2.11h-2.11zM1109.29 2019.57h2.26v2.26h-2.26zM1110.33 2017.23h2.1v2.1h-2.1zM1158.21 1969.17h2v2h-2zM1097.85 1994.86h2.44v2.44h-2.44zM1150.08 1985.49h1.9v1.9h-1.9zM1140.04 1997.37h2.01v2.01h-2.01zM1099.86 1994.95h2.28v2.28h-2.28zM1192.52 1985.77h2.56v2.56h-2.56zM1105.11 2005.8h1.94v1.94h-1.94zM1178.75 2009.94h2.03v2.03h-2.03zM1093.98 2070.21h2v2h-2zM1111.82 2068.79h1.81v1.81h-1.81zM1114.83 2081.36h1.95v1.95h-1.95zM1118.72 2070.69h2.39v2.39h-2.39zM1104.16 2085.26h1.79v1.79h-1.79zM1091.06 2084.18h2.08v2.08h-2.08zM1122.56 2071.98h1.88v1.88h-1.88zM1096.09 2084.62h2.18v2.18h-2.18zM1127.85 2078.68h2.37v2.37h-2.37zM1131.06 2060.83h1.72v1.72h-1.72zM1109.44 2067.58h2.09v2.09h-2.09zM1092.24 2071.9h1.79v1.79h-1.79zM1118.25 2076.35h2.25v2.25h-2.25zM1104.59 2058.78h2.28v2.28h-2.28zM1118.76 2077.34h1.82v1.82h-1.82zM1135.27 2077.29h1.83v1.83h-1.83zM1107.62 2060.06h1.9v1.9h-1.9zM1137.75 2067.23h1.93v1.93h-1.93zM1111.09 2078.53h2.49v2.49h-2.49zM1115.9 2082.59h2.47v2.47h-2.47zM1087.75 2064.33h2.39v2.39h-2.39zM1110.5 2059.49h1.99v1.99h-1.99zM1096.63 2082.99h2.06v2.06h-2.06zM1113.88 2069.98h1.8v1.8h-1.8zM1095.06 2071.49h2.06v2.06h-2.06zM1106.34 2060.22h2.55v2.55h-2.55zM1121.03 2060.05h1.69v1.69h-1.69zM1130.57 2067.91h1.99v1.99h-1.99zM1081.05 2062.17h1.8v1.8h-1.8zM1112.87 2061.99h2.44v2.44h-2.44zM1131.5 2080.35h1.9v1.9h-1.9zM1135.28 2076.95h2.09v2.09h-2.09zM1130.95 2065.88h1.65v1.65h-1.65zM1130.52 2066.92h2.29v2.29h-2.29zM1106.3 2058.6h2.11v2.11h-2.11zM1108.35 2075.22h2.4v2.4h-2.4zM1105.9 2060.1h2.32v2.32h-2.32zM1123.78 2079.27h2.34v2.34h-2.34zM1105.53 2079.23h1.86v1.86h-1.86zM1125 2062.24h1.85v1.85h-1.85zM1106.57 2056.44h2.2v2.2h-2.2zM1087.36 2075.34h1.65v1.65h-1.65zM1089.32 2074.69h2.54v2.54h-2.54zM1112.22 2056.03h2.32v2.32h-2.32zM1098.94 2083.84h2.09v2.09h-2.09zM1029.5 2082.41h1.96v1.96h-1.96zM1020.44 2068.22h1.68v1.68h-1.68zM1016.93 2094.92h2.15v2.15h-2.15zM1026.08 2071.92h2.37v2.37h-2.37zM1030.61 2066.47h1.72v1.72h-1.72zM1044.34 2092.94h1.7v1.7h-1.7zM1016.86 2084.22h2.29v2.29h-2.29zM1015.9 2089.05h2.07v2.07h-2.07zM1015.44 2079.33h2.39v2.39h-2.39zM1047.45 2085.68h2.01v2.01h-2.01zM1024.49 2067.64h2.58v2.58h-2.58zM1010.33 2089.73h2.47v2.47h-2.47zM1037.97 2081.66h1.92v1.92h-1.92zM1047.42 2082.3h2.14v2.14h-2.14zM1017.11 2079.8h2.19v2.19h-2.19zM1027.5 2080.82h2.05v2.05h-2.05zM1052.69 2084.33h2.42v2.42h-2.42zM1033.81 2078.07h2.31v2.31h-2.31zM1018.85 2071.33h2.42v2.42h-2.42zM1006.82 2077.57h1.85v1.85h-1.85zM1013.64 2068.91h2.1v2.1h-2.1zM1018.98 2067.01h2.14v2.14h-2.14zM1045.78 2090.6h2.18v2.18h-2.18zM1019.04 2095.1h1.62v1.62h-1.62zM1035.13 2065.6h2.41v2.41h-2.41zM1029.49 2070.98h2.05v2.05h-2.05zM1007.25 2079.01h1.76v1.76h-1.76zM1045.93 2084.96h2.45v2.45h-2.45zM1009.65 2075.3h2.16v2.16h-2.16zM1018.19 2091.26h2.34v2.34h-2.34zM1261.45 2044.52h2.34v2.34h-2.34zM1259.12 2039.6h2.22v2.22h-2.22zM1258.28 2067.36h2.51v2.51h-2.51zM1255.79 2059.02h1.66v1.66h-1.66zM1261.57 2067.65h1.93v1.93h-1.93zM1257.71 2067.22h1.76v1.76h-1.76zM1265.79 2073.21h2.24v2.24h-2.24zM1256.11 2056.77h1.82v1.82h-1.82zM1261.2 2058.91h1.63v1.63h-1.63zM1258.15 2067.09h1.74v1.74h-1.74zM1267.96 2067.76h1.77v1.77h-1.77zM1257.88 2049.88h2.14v2.14h-2.14zM1265.39 2058.76h2.06v2.06h-2.06zM1259.03 2070.72h2.06v2.06h-2.06zM1264.43 2069.57h1.61v1.61h-1.61zM1261.25 2071.84h2.13v2.13h-2.13zM1260.16 2043.76h1.85v1.85h-1.85zM1262.16 2041.37h1.69v1.69h-1.69zM1267.08 2065.3h1.66v1.66h-1.66zM1256.06 2058.89h1.75v1.75h-1.75zM1265.83 2052.43h2v2h-2zM1006.76 1924.42h1.77v1.77h-1.77zM1000.1 1932.47h2.06v2.06h-2.06zM1007.18 1919.24h1.76v1.76h-1.76zM987.29 1938.79h2.34v2.34h-2.34zM994.09 1942.38h2.48v2.48h-2.48zM995.41 1915.53h1.92v1.92h-1.92zM1010.96 1938.53h1.67v1.67h-1.67zM1010.39 1928.18h2.57v2.57h-2.57zM997.06 1952.46h1.68v1.68h-1.68zM987.31 1951.33h2.25v2.25h-2.25zM1007.97 1932.85h2.36v2.36h-2.36zM1002.26 1944.17h2.08v2.08h-2.08zM990.73 1938.29h2.49v2.49h-2.49zM992.52 1913.21h1.75v1.75h-1.75zM1003.76 1935.59h2.32v2.32h-2.32zM1009.23 1942.76h2.51v2.51h-2.51zM1009.51 1945.99h2.5v2.5h-2.5zM989.61 1949.9h2.45v2.45h-2.45zM1020.33 1928.89h2.04v2.04h-2.04zM986.86 1943.54h2.11v2.11h-2.11zM1011.31 1948.2h2.45v2.45h-2.45zM1015.01 1918.3h1.98v1.98h-1.98zM1006.26 1941.93h1.86v1.86h-1.86zM1014.81 1922.11h1.63v1.63h-1.63zM1131.93 1950.65h1.8v1.8h-1.8zM1113.56 1967.86h1.74v1.74h-1.74zM1118.38 1881.02h2.53v2.53h-2.53zM1125.77 1984.34h1.91v1.91h-1.91zM1114.05 1869.75h1.95v1.95h-1.95zM1067.17 1932.99h2.57v2.57h-2.57zM1068.8 2066.02h2.29v2.29h-2.29zM1211.94 1965.99h2.03v2.03h-2.03zM1154.48 2087.13h1.71v1.71h-1.71zM1045.38 2011.17h1.97v1.97h-1.97zM1084.62 2065.95h1.89v1.89h-1.89zM1224.05 1970.46h2.55v2.55h-2.55zM1183.31 1923.99h2.02v2.02h-2.02zM1018.06 2025.05h2.57v2.57h-2.57zM1248.69 1961.66h1.87v1.87h-1.87zM1093.45 1883.15h1.65v1.65h-1.65zM1248.19 1926.51h2.5v2.5h-2.5zM1043.7 1965.65h1.68v1.68h-1.68zM1230.33 1982.32h2.39v2.39h-2.39zM1127.3 1980.52h2.2v2.2h-2.2zM1206.61 1976.42h1.88v1.88h-1.88z" fill="#c0141a"/>
</g>
<clipPath id="cp_f01"><rect x="1282.5" y="1867.5" width="278.5" height="232.8"/></clipPath>
<g clip-path="url(#cp_f01)">
<rect x="1282.5" y="1867.5" width="278.5" height="232.8" fill="#000"/>
<ellipse cx="1401" cy="1866" rx="19" ry="14" fill="#1c86d6" filter="url(#texf)"/>
<ellipse cx="1401" cy="1866" rx="18.4" ry="13.4" fill="none" stroke="#2ec2ee" stroke-width="2.2" opacity="0.9"/>
<ellipse cx="1405" cy="1974.3" rx="28.3" ry="25.3" fill="#1c86d6" filter="url(#texf)"/>
<ellipse cx="1405" cy="1974.3" rx="27.7" ry="24.7" fill="none" stroke="#2ec2ee" stroke-width="2.2" opacity="0.9"/>
<path d="M1458.55 2011.69h1.97v1.97h-1.97zM1481.83 2031.16h2.47v2.47h-2.47zM1469.95 2034.96h1.97v1.97h-1.97zM1376.75 1965.32h2.28v2.28h-2.28zM1437.34 2004.65h1.78v1.78h-1.78zM1316.86 1925.33h2.14v2.14h-2.14zM1449.68 1998.44h1.87v1.87h-1.87zM1337.87 1919.87h2.51v2.51h-2.51zM1413.9 1971.85h1.97v1.97h-1.97zM1460.78 2012.65h2.55v2.55h-2.55zM1481.48 2036.47h2.17v2.17h-2.17zM1393.11 1960.39h1.94v1.94h-1.94zM1386.59 1969.27h2.15v2.15h-2.15zM1456.22 2024.51h2.53v2.53h-2.53zM1377.6 1945.02h2.29v2.29h-2.29zM1425.78 1997.85h2.42v2.42h-2.42zM1421.3 1998.52h2.17v2.17h-2.17zM1451.84 2013.32h2.22v2.22h-2.22zM1460.89 2003.8h1.74v1.74h-1.74zM1473.91 2029.27h2.43v2.43h-2.43zM1336.42 1922.11h2.24v2.24h-2.24zM1427.4 1987.04h2.25v2.25h-2.25zM1478.25 2020.14h1.9v1.9h-1.9zM1398.07 1973.65h2.36v2.36h-2.36zM1478.28 2020.9h2.13v2.13h-2.13zM1464.18 2024.65h1.92v1.92h-1.92zM1405.72 1992.54h2.59v2.59h-2.59zM1462.13 2024.03h2.37v2.37h-2.37zM1414.88 1970.5h2.28v2.28h-2.28zM1350.81 1946.74h2.44v2.44h-2.44zM1333.36 1934.89h2.3v2.3h-2.3zM1376.32 1955.59h1.98v1.98h-1.98zM1450.38 2019.01h2.56v2.56h-2.56zM1443.31 2001.99h2.51v2.51h-2.51zM1399.7 1989.81h2.27v2.27h-2.27zM1471.54 2025.92h2.03v2.03h-2.03zM1323.27 1936.28h2.1v2.1h-2.1zM1329.16 1915.77h1.65v1.65h-1.65zM1431.85 1986.55h2.49v2.49h-2.49zM1440.89 2007.89h2.43v2.43h-2.43zM1337.81 1946.16h2.19v2.19h-2.19zM1483.11 2035.16h2.07v2.07h-2.07zM1478.12 2036.29h2.4v2.4h-2.4zM1391.65 1979.52h1.62v1.62h-1.62zM1472.39 2029.26h2v2h-2zM1331.84 1925.49h1.85v1.85h-1.85zM1437.2 1995.45h2.21v2.21h-2.21zM1344.67 1936.65h1.95v1.95h-1.95zM1339.94 1934.02h2.21v2.21h-2.21zM1329.02 1934.57h2.5v2.5h-2.5zM1345.63 1952.26h2.01v2.01h-2.01zM1332.17 1933.82h1.71v1.71h-1.71zM1429.63 1985.29h1.61v1.61h-1.61zM1421.39 1990.6h2.44v2.44h-2.44zM1424.88 1981.61h2.07v2.07h-2.07zM1391.89 1979.97h2.04v2.04h-2.04zM1424.67 1983.38h1.63v1.63h-1.63zM1367.18 1964.91h1.7v1.7h-1.7zM1325.24 1924.44h1.6v1.6h-1.6zM1403.72 1975.1h2.5v2.5h-2.5zM1322 1910.66h1.65v1.65h-1.65zM1459.54 2013.17h1.92v1.92h-1.92zM1365.96 1950.67h2.07v2.07h-2.07zM1330.55 1915.49h2.17v2.17h-2.17zM1452.94 2018.31h1.82v1.82h-1.82zM1351.7 1936.95h2.25v2.25h-2.25zM1331.24 1923.33h2.24v2.24h-2.24zM1400.34 1982.91h2.58v2.58h-2.58zM1396.84 1983.69h1.69v1.69h-1.69zM1484.48 2033.31h1.9v1.9h-1.9zM1328.49 1915.85h1.7v1.7h-1.7zM1435.42 1986.96h1.89v1.89h-1.89zM1475.09 2011.03h1.81v1.81h-1.81zM1318.15 1935.89h1.63v1.63h-1.63zM1383.84 1965.77h2.41v2.41h-2.41zM1422.61 1978.05h1.88v1.88h-1.88zM1374.46 1953.71h2.34v2.34h-2.34zM1436.85 2008.19h2.41v2.41h-2.41zM1438.2 1990.3h2.4v2.4h-2.4zM1388.34 1980.17h1.62v1.62h-1.62zM1347.45 1935.11h2.19v2.19h-2.19zM1413.02 1998.96h2.45v2.45h-2.45zM1317.13 1925.59h2.23v2.23h-2.23zM1393.61 1971.49h2.2v2.2h-2.2zM1464.39 2005.17h2.03v2.03h-2.03zM1419.83 1982.31h2.42v2.42h-2.42zM1440.96 2008.86h2.13v2.13h-2.13zM1391.43 1958.31h1.95v1.95h-1.95zM1442.75 2009.63h2.1v2.1h-2.1zM1407.94 1987.84h2.07v2.07h-2.07zM1480.82 2020.8h1.79v1.79h-1.79zM1428.37 2003.33h2.27v2.27h-2.27zM1354.87 1957.33h2.43v2.43h-2.43zM1362.31 1963.97h2.25v2.25h-2.25zM1408.08 1995.1h1.61v1.61h-1.61zM1461.98 2025h2.01v2.01h-2.01zM1379.12 1959.6h2.37v2.37h-2.37zM1411.26 1991.96h1.73v1.73h-1.73zM1380.67 1974.45h2.11v2.11h-2.11zM1352.1 1943.57h2.28v2.28h-2.28zM1345.04 1927.95h2.13v2.13h-2.13zM1371.7 1941.9h1.93v1.93h-1.93zM1411.02 1986.05h1.62v1.62h-1.62zM1378.53 1969.82h2.3v2.3h-2.3zM1405.96 1984.62h1.77v1.77h-1.77zM1332.56 1924.58h2.2v2.2h-2.2zM1324.14 1913.68h2.12v2.12h-2.12zM1465.27 2006.94h2.32v2.32h-2.32zM1418.93 1983.72h1.71v1.71h-1.71zM1424.39 2002.65h2.57v2.57h-2.57zM1449.86 2022.58h2.35v2.35h-2.35zM1481.12 2025.7h2.47v2.47h-2.47zM1479.99 2036.44h1.78v1.78h-1.78zM1365.27 1946.32h2.32v2.32h-2.32zM1399.74 1985.5h1.98v1.98h-1.98zM1326.76 1938.24h2.3v2.3h-2.3zM1428.18 1996.52h2.3v2.3h-2.3zM1386.59 1962.24h2.01v2.01h-2.01zM1381.31 1969.08h2.55v2.55h-2.55zM1387.87 1973.47h2.04v2.04h-2.04zM1470.58 2009.01h2.07v2.07h-2.07zM1312.38 1930.22h2.32v2.32h-2.32zM1344.17 1947.53h1.75v1.75h-1.75zM1388.24 1958.36h2.5v2.5h-2.5zM1318.85 1918.58h1.93v1.93h-1.93zM1423.85 1976.78h2.49v2.49h-2.49zM1320.84 1915.52h1.75v1.75h-1.75zM1462 2024.07h1.72v1.72h-1.72zM1360.6 1945.58h2.19v2.19h-2.19zM1383.58 1970.48h1.84v1.84h-1.84zM1366.21 1947.83h2.04v2.04h-2.04zM1405.23 1970.19h1.8v1.8h-1.8zM1384.93 1972.53h2.32v2.32h-2.32zM1407.72 1966.09h2.34v2.34h-2.34zM1373.87 1959.62h2.29v2.29h-2.29zM1356.84 1942.65h1.73v1.73h-1.73zM1412.95 1979.34h1.65v1.65h-1.65zM1341.28 1947.44h2.18v2.18h-2.18zM1321.14 1935.07h1.68v1.68h-1.68zM1330.91 1930.47h2.32v2.32h-2.32zM1409.59 1978.42h2.15v2.15h-2.15zM1416.31 1997.64h2.53v2.53h-2.53zM1376.07 1945.12h2.42v2.42h-2.42zM1344.09 1949.4h2.26v2.26h-2.26zM1413.62 1991.83h2.43v2.43h-2.43zM1384.39 1958.96h2.11v2.11h-2.11zM1432.09 1998.41h1.89v1.89h-1.89zM1476.02 2015h1.66v1.66h-1.66zM1371.14 1961.57h2.3v2.3h-2.3zM1470.21 2020.59h2.27v2.27h-2.27zM1455.1 1999.37h2.23v2.23h-2.23zM1426.84 1987.42h2.11v2.11h-2.11zM1436.47 1992.85h2.06v2.06h-2.06zM1350.54 1934.62h2.52v2.52h-2.52zM1435.66 2005.28h1.98v1.98h-1.98zM1472.25 2020.39h1.74v1.74h-1.74zM1322.09 1932.51h2.55v2.55h-2.55zM1355.96 1952.28h2.36v2.36h-2.36zM1399.39 1972.65h2.5v2.5h-2.5zM1324.57 1915.98h2.59v2.59h-2.59zM1443.45 2002.58h2.04v2.04h-2.04zM1461.29 2025.36h1.76v1.76h-1.76zM1399.44 1989.59h2.09v2.09h-2.09zM1317.51 1916.79h2.09v2.09h-2.09zM1412.85 1969.51h1.99v1.99h-1.99zM1468.64 2009.62h2.39v2.39h-2.39zM1417.73 1979.57h1.85v1.85h-1.85zM1380.82 1960.92h2.57v2.57h-2.57zM1369.75 1944.48h1.81v1.81h-1.81zM1427.36 1997.08h1.88v1.88h-1.88zM1322.38 1937.86h2.43v2.43h-2.43zM1337.85 1924.84h1.83v1.83h-1.83zM1365.33 1947.49h2.32v2.32h-2.32zM1393.3 1983.04h1.87v1.87h-1.87zM1331.82 1931.76h2.01v2.01h-2.01zM1425.28 1984.15h2.07v2.07h-2.07zM1376.97 1957.84h1.85v1.85h-1.85zM1462.29 2024.98h2.42v2.42h-2.42zM1403.21 1963.46h2.54v2.54h-2.54zM1371.7 1965.83h2.52v2.52h-2.52zM1391.22 1965.66h1.76v1.76h-1.76zM1431.11 1981.32h1.63v1.63h-1.63zM1423.17 1996.12h2.04v2.04h-2.04zM1335.89 1929.51h2.34v2.34h-2.34zM1464.57 2010.47h2.15v2.15h-2.15zM1407.76 1975.14h2.56v2.56h-2.56zM1410.93 1978.66h2.59v2.59h-2.59zM1367.94 1966.74h2.28v2.28h-2.28zM1426.34 2008.04h1.86v1.86h-1.86zM1373.09 1955.9h2v2h-2z" fill="#c0141a"/>
</g>
<clipPath id="cp_f02"><rect x="1575" y="1867.5" width="277.4" height="232.8"/></clipPath>
<g clip-path="url(#cp_f02)">
<rect x="1575" y="1867.5" width="277.4" height="232.8" fill="#000"/>
<ellipse cx="1720" cy="1983" rx="40" ry="37" fill="#0d4a8c" opacity="0.75" filter="url(#tex3)"/>
<ellipse cx="1705" cy="1985" rx="30" ry="8" transform="rotate(70 1705 1985)" fill="#1a7fcf" filter="url(#texk)"/>
<ellipse cx="1738" cy="1975" rx="28" ry="7" transform="rotate(75 1738 1975)" fill="#1a7fcf" filter="url(#texk)"/>
<ellipse cx="1745" cy="1924.7" rx="26.7" ry="23.3" fill="#1c86d6" filter="url(#texf)"/>
<ellipse cx="1745" cy="1924.7" rx="26.1" ry="22.7" fill="none" stroke="#2ec2ee" stroke-width="2.2" opacity="0.9"/>
<ellipse cx="1835" cy="2003.8" rx="28" ry="27.5" fill="#1c86d6" filter="url(#texf)"/>
<ellipse cx="1835" cy="2003.8" rx="27.4" ry="26.9" fill="none" stroke="#2ec2ee" stroke-width="2.2" opacity="0.9"/>
<ellipse cx="1855" cy="2069" rx="18" ry="21" fill="#1c86d6" filter="url(#texf)"/>
<ellipse cx="1855" cy="2069" rx="17.4" ry="20.4" fill="none" stroke="#2ec2ee" stroke-width="2.2" opacity="0.9"/>
<ellipse cx="1649.2" cy="2069.2" rx="22.5" ry="25.5" fill="#1c86d6" filter="url(#texf)"/>
<ellipse cx="1649.2" cy="2069.2" rx="21.9" ry="24.9" fill="none" stroke="#2ec2ee" stroke-width="2.2" opacity="0.9"/>
<path d="M1745.1 1993.7h1.6v1.6h-1.6zM1719.37 1962.81h1.65v1.65h-1.65zM1731.89 2009.39h2.42v2.42h-2.42zM1747.48 1965.21h2.47v2.47h-2.47zM1741.94 2000.07h1.69v1.69h-1.69zM1724.4 2018.04h1.82v1.82h-1.82zM1692.88 1996.41h2.03v2.03h-2.03zM1736.4 1969.38h2.43v2.43h-2.43zM1676.79 1995.97h1.91v1.91h-1.91zM1707.23 2009.89h2.56v2.56h-2.56zM1703.64 1966.5h1.69v1.69h-1.69zM1698.61 1965.87h2.51v2.51h-2.51zM1735.55 1959.42h1.66v1.66h-1.66zM1713.93 1955.44h2.2v2.2h-2.2zM1709.56 1961.28h2.57v2.57h-2.57zM1735.09 2002.19h2.32v2.32h-2.32zM1716.28 1987.8h2.51v2.51h-2.51zM1722.93 1956.7h1.95v1.95h-1.95zM1681.25 1987.69h2.56v2.56h-2.56zM1733.33 1989.21h2.5v2.5h-2.5zM1717.2 1976.56h1.87v1.87h-1.87zM1740.62 1963.95h2.37v2.37h-2.37zM1759.56 1976.48h2.52v2.52h-2.52zM1696.99 1996.26h1.81v1.81h-1.81zM1682.88 1997.44h1.99v1.99h-1.99zM1681.72 1991.48h2.37v2.37h-2.37zM1757.79 1982.09h2.17v2.17h-2.17zM1680.11 1980.96h2.52v2.52h-2.52zM1684.71 1985.07h2.03v2.03h-2.03zM1680.79 2001.61h2.05v2.05h-2.05zM1752.92 1981.81h1.77v1.77h-1.77zM1705.58 1979.67h1.87v1.87h-1.87zM1679 1969.11h2.47v2.47h-2.47zM1720.97 2017.48h1.86v1.86h-1.86zM1717.64 2015.84h2.5v2.5h-2.5zM1711.84 2012.53h2.4v2.4h-2.4zM1720.19 1977.17h2.17v2.17h-2.17zM1736.53 1960.85h1.9v1.9h-1.9zM1720.11 2005.25h1.6v1.6h-1.6zM1682.65 1973.16h1.72v1.72h-1.72zM1723.99 1992.84h2.43v2.43h-2.43zM1722.93 2013.78h2.56v2.56h-2.56zM1686.48 2002.71h2.56v2.56h-2.56zM1715.15 1961.25h1.88v1.88h-1.88zM1704.2 1975.99h2.54v2.54h-2.54zM1690.99 1964.59h2.04v2.04h-2.04zM1722.14 2014.93h1.97v1.97h-1.97zM1747.3 2012.41h2.51v2.51h-2.51zM1677.51 1972.99h2.42v2.42h-2.42zM1708.67 1968.51h2.28v2.28h-2.28zM1715.15 1954.45h1.89v1.89h-1.89zM1629.9 2071.41h1.71v1.71h-1.71zM1650.8 2029.42h1.78v1.78h-1.78zM1655.32 2082.96h1.86v1.86h-1.86zM1666.88 2043.47h1.79v1.79h-1.79zM1677.49 2040.63h2.17v2.17h-2.17zM1641.21 2064.91h1.91v1.91h-1.91zM1649.93 2075.07h1.82v1.82h-1.82zM1658.36 2065.28h2.48v2.48h-2.48zM1648.53 2049.94h1.97v1.97h-1.97zM1633.61 2041.8h1.6v1.6h-1.6zM1645.15 2039.41h1.61v1.61h-1.61zM1634.29 2055.79h2.15v2.15h-2.15zM1678.79 2056.94h1.63v1.63h-1.63zM1637.3 2066.04h2.16v2.16h-2.16zM1667.03 2046.89h1.63v1.63h-1.63zM1637.36 2051.09h2.07v2.07h-2.07zM1623.44 2068.67h2.22v2.22h-2.22zM1661.98 2029.71h2.14v2.14h-2.14zM1662.31 2046.73h1.82v1.82h-1.82zM1659.7 2057.28h2.44v2.44h-2.44zM1634.89 2035.74h2.57v2.57h-2.57zM1630.4 2072.33h2.41v2.41h-2.41zM1653.42 2076.71h2.53v2.53h-2.53zM1638.34 2059.28h2.57v2.57h-2.57zM1651.22 2041.3h1.97v1.97h-1.97zM1657.59 2029.05h2.14v2.14h-2.14zM1629.11 2061.79h2.01v2.01h-2.01zM1652.14 2064.56h2.39v2.39h-2.39zM1642.67 2036.88h1.77v1.77h-1.77zM1631.16 2047.09h1.83v1.83h-1.83zM1647.66 2066.02h2.05v2.05h-2.05zM1650.56 2034.25h2.14v2.14h-2.14zM1665.89 2076.65h2.59v2.59h-2.59zM1657.71 2065.87h1.94v1.94h-1.94zM1662.38 2072.93h1.6v1.6h-1.6zM1649.98 2048.8h1.99v1.99h-1.99zM1672.65 2042.33h2.48v2.48h-2.48zM1659.29 2037.14h1.7v1.7h-1.7zM1639.9 2057.49h2.12v2.12h-2.12zM1827.08 2034.95h2.2v2.2h-2.2zM1823.6 2034.72h2.44v2.44h-2.44zM1841.05 1985.79h1.93v1.93h-1.93zM1839.21 2022.97h2.21v2.21h-2.21zM1835.72 1995.21h2.55v2.55h-2.55zM1828.83 2012.73h2.57v2.57h-2.57zM1810.78 2004.59h2.16v2.16h-2.16zM1832.06 2022.87h1.94v1.94h-1.94zM1821.9 2000.25h2.25v2.25h-2.25zM1834.07 1983.35h2.33v2.33h-2.33zM1820.95 2013.72h2.28v2.28h-2.28zM1816.6 2002.32h2.28v2.28h-2.28zM1845.64 2023.46h1.98v1.98h-1.98zM1816.71 2003.53h2.32v2.32h-2.32zM1829.4 2032.84h1.95v1.95h-1.95zM1841.93 2000.79h1.83v1.83h-1.83zM1819.06 2002.42h1.7v1.7h-1.7zM1810.33 2013.55h2.15v2.15h-2.15zM1822.51 2029.6h1.77v1.77h-1.77zM1824.03 2007.54h1.88v1.88h-1.88zM1840.87 2021.28h1.9v1.9h-1.9zM1840.09 2025.58h1.97v1.97h-1.97zM1812.52 1996.76h2.02v2.02h-2.02zM1843.36 1994.31h2.57v2.57h-2.57zM1830.08 1999.51h2.13v2.13h-2.13zM1845.75 1989.59h2.15v2.15h-2.15zM1809.9 1995.17h2v2h-2zM1725.12 1918.83h2.15v2.15h-2.15zM1754.9 1938.45h2.41v2.41h-2.41zM1737.84 1902.25h2.12v2.12h-2.12zM1760.91 1912.81h2.11v2.11h-2.11zM1761.24 1918.86h1.95v1.95h-1.95zM1763.56 1926.02h1.79v1.79h-1.79zM1718.58 1918.51h1.81v1.81h-1.81zM1744.65 1928.11h1.69v1.69h-1.69zM1741.81 1913.29h1.88v1.88h-1.88zM1757.65 1909.09h1.64v1.64h-1.64zM1758.23 1937.59h2.02v2.02h-2.02zM1745.89 1912.2h2.17v2.17h-2.17zM1738.86 1971.97h1.71v1.71h-1.71zM1768.5 2046.97h2.36v2.36h-2.36zM1664.03 1902.55h2.05v2.05h-2.05zM1760.59 1956.03h2.22v2.22h-2.22zM1800.32 2001.98h2.03v2.03h-2.03zM1660.09 2034.44h2.39v2.39h-2.39zM1612.1 2041.89h2.28v2.28h-2.28zM1685.37 2068.41h1.72v1.72h-1.72zM1645.76 1954.8h2.15v2.15h-2.15zM1764.99 1949.85h1.86v1.86h-1.86zM1691 2024.68h2.35v2.35h-2.35zM1676.14 1891.76h1.97v1.97h-1.97zM1679.58 2007.37h1.82v1.82h-1.82zM1646.85 1943.12h1.63v1.63h-1.63zM1608.72 1950.88h2.59v2.59h-2.59z" fill="#c0141a"/>
</g>
<clipPath id="cp_f03"><rect x="1865" y="1867.5" width="277" height="232.8"/></clipPath>
<g clip-path="url(#cp_f03)">
<rect x="1865" y="1867.5" width="277" height="232.8" fill="#000"/>
<ellipse cx="1995" cy="1945" rx="25" ry="20" transform="rotate(-30 1995 1945)" fill="#0d4a8c" opacity="0.75" filter="url(#tex3)"/>
<ellipse cx="1986.7" cy="1989.2" rx="26.7" ry="24.5" fill="#1c86d6" filter="url(#texf)"/>
<ellipse cx="1986.7" cy="1989.2" rx="26.1" ry="23.9" fill="none" stroke="#2ec2ee" stroke-width="2.2" opacity="0.9"/>
<ellipse cx="2142" cy="1880" rx="3" ry="12" fill="#1c86d6" filter="url(#texf)"/>
<ellipse cx="2142" cy="1880" rx="2.4" ry="11.4" fill="none" stroke="#2ec2ee" stroke-width="2.2" opacity="0.9"/>
<path d="M2008.87 1963.5h1.66v1.66h-1.66zM2002.23 1945.06h1.91v1.91h-1.91zM1971.64 1963.63h2.18v2.18h-2.18zM1978.98 1915.35h2.02v2.02h-2.02zM2016.38 1945.31h1.82v1.82h-1.82zM2010.18 1959.04h1.67v1.67h-1.67zM2014.51 1949.44h2.47v2.47h-2.47zM1966.34 1921.63h2.27v2.27h-2.27zM2010.86 1961.76h1.9v1.9h-1.9zM2017.5 1928.35h2.07v2.07h-2.07zM1985.1 1955.42h2.47v2.47h-2.47zM2011.62 1955.9h1.74v1.74h-1.74zM1986.71 1942.14h2.23v2.23h-2.23zM1957.92 1948.44h1.83v1.83h-1.83zM2015.19 1949.08h2.5v2.5h-2.5zM1967.07 1965.77h2.4v2.4h-2.4zM1990.78 1914.27h2.55v2.55h-2.55zM1972.72 1958.83h1.98v1.98h-1.98zM1974.93 1928.64h2.11v2.11h-2.11zM2020.3 1935.88h1.92v1.92h-1.92zM1965.99 1931.47h1.95v1.95h-1.95zM1965.83 1951.98h2.55v2.55h-2.55zM1977.71 1920.87h2.57v2.57h-2.57zM2015.8 1948.49h2.59v2.59h-2.59zM1954.28 1950.2h2.51v2.51h-2.51zM2005.7 1920.23h2.09v2.09h-2.09zM1988.21 1965.6h2.26v2.26h-2.26zM1971.19 1962.57h2.51v2.51h-2.51zM1975.55 1957.75h2.03v2.03h-2.03zM1963.67 1952.62h2.52v2.52h-2.52zM2019.82 1969.2h2.4v2.4h-2.4zM1989.67 1931.08h1.88v1.88h-1.88zM1994.08 1957.23h1.96v1.96h-1.96zM2048.64 1901.48h2.29v2.29h-2.29zM2052.81 1906.39h1.76v1.76h-1.76zM2064.91 1896.75h1.86v1.86h-1.86zM2085.9 1903.35h1.79v1.79h-1.79zM2087.84 1892.25h1.71v1.71h-1.71zM2056.74 1901.81h2.51v2.51h-2.51zM2082.28 1909.37h2.6v2.6h-2.6zM2070.22 1887.56h2.42v2.42h-2.42zM2080.26 1903.79h2.1v2.1h-2.1zM2063 1883.59h2.35v2.35h-2.35zM2049.78 1908.8h2.29v2.29h-2.29zM2066.03 1900.75h2.04v2.04h-2.04zM2033.42 2088.54h2.12v2.12h-2.12zM1988.6 1958.01h1.73v1.73h-1.73zM1980.58 2056.4h1.84v1.84h-1.84zM1978.49 1991.08h1.94v1.94h-1.94zM2082.56 1951.21h1.96v1.96h-1.96zM1996.85 2008.32h2.26v2.26h-2.26zM1885.87 1943.13h1.84v1.84h-1.84zM1975.52 1889.11h1.84v1.84h-1.84zM2073.06 1924.77h2.47v2.47h-2.47z" fill="#c0141a"/>
</g>
<clipPath id="cp_f10"><rect x="992" y="2109.3" width="278" height="232.3"/></clipPath>
<g clip-path="url(#cp_f10)">
<rect x="992" y="2109.3" width="278" height="232.3" fill="#000"/>
<ellipse cx="1167.8" cy="2162.5" rx="29.5" ry="22.5" transform="rotate(15 1167.8 2162.5)" fill="#1c86d6" filter="url(#texf)"/>
<ellipse cx="1167.8" cy="2162.5" rx="28.9" ry="21.9" transform="rotate(15 1167.8 2162.5)" fill="none" stroke="#2ec2ee" stroke-width="2.2" opacity="0.9"/>
<ellipse cx="1085" cy="2268.8" rx="29" ry="25.5" transform="rotate(10 1085 2268.8)" fill="#1c86d6" filter="url(#texf)"/>
<ellipse cx="1085" cy="2268.8" rx="28.4" ry="24.9" transform="rotate(10 1085 2268.8)" fill="none" stroke="#2ec2ee" stroke-width="2.2" opacity="0.9"/>
<path d="M1157.17 2120.7h1.84v1.84h-1.84zM1152.16 2135.77h2.39v2.39h-2.39zM1110.52 2150.85h2.46v2.46h-2.46zM1156.01 2135.62h1.88v1.88h-1.88zM1116.88 2151.45h2.16v2.16h-2.16zM1169.65 2150h2.06v2.06h-2.06zM1147.32 2124.67h1.73v1.73h-1.73zM1118.83 2156.23h2.33v2.33h-2.33zM1124.61 2145.88h2.13v2.13h-2.13zM1179.82 2161.89h2.59v2.59h-2.59zM1152.66 2129.16h2.51v2.51h-2.51zM1153.42 2121.66h2.5v2.5h-2.5zM1135.52 2123.9h1.86v1.86h-1.86zM1157.34 2147.89h1.71v1.71h-1.71zM1175.18 2141.6h2.41v2.41h-2.41zM1155.4 2123.78h1.71v1.71h-1.71zM1175.05 2162.19h2.29v2.29h-2.29zM1179.55 2162.75h1.78v1.78h-1.78zM1135.21 2164.46h2.31v2.31h-2.31zM1143.75 2175.89h1.65v1.65h-1.65zM1134.61 2136.48h1.69v1.69h-1.69zM1147.76 2135.87h2.47v2.47h-2.47zM1159.43 2126.85h2.12v2.12h-2.12zM1152.27 2125.54h2.05v2.05h-2.05zM1183.59 2146.45h2.57v2.57h-2.57zM1117.36 2154h2.38v2.38h-2.38zM1128.6 2142.55h1.83v1.83h-1.83zM1135.86 2174.01h2.31v2.31h-2.31zM1166.1 2122.18h1.99v1.99h-1.99zM1137.33 2129.34h2.06v2.06h-2.06zM1121.18 2164.49h1.91v1.91h-1.91zM1124.92 2125.62h1.83v1.83h-1.83zM1148.66 2130.47h1.9v1.9h-1.9zM1082.25 2278.57h1.87v1.87h-1.87zM1090.06 2247.99h1.79v1.79h-1.79zM1075.07 2275.86h2.47v2.47h-2.47zM1038.54 2272.03h1.98v1.98h-1.98zM1076.87 2301.5h2.16v2.16h-2.16zM1085.98 2241.59h2.41v2.41h-2.41zM1064.12 2260.67h2.28v2.28h-2.28zM1067.36 2246.64h1.76v1.76h-1.76zM1117.43 2265.38h2.55v2.55h-2.55zM1055.84 2297.87h2.53v2.53h-2.53zM1063.89 2255.95h2.44v2.44h-2.44zM1073 2259.67h1.93v1.93h-1.93zM1100.74 2302.16h2.43v2.43h-2.43zM1042.03 2278.24h2.24v2.24h-2.24zM1091.42 2295.28h1.63v1.63h-1.63zM1087.47 2303.15h1.98v1.98h-1.98zM1059.18 2257.9h2.3v2.3h-2.3zM1067.43 2281.91h2.14v2.14h-2.14zM1093.53 2299.72h2.55v2.55h-2.55zM1077.89 2281.56h2.39v2.39h-2.39zM1059.44 2286.71h2.44v2.44h-2.44zM1113.42 2269.04h2.58v2.58h-2.58zM1045.18 2291.3h1.94v1.94h-1.94zM1077.87 2246.76h2.51v2.51h-2.51zM1065.93 2281.41h1.6v1.6h-1.6zM1102.76 2291.05h2.4v2.4h-2.4zM1074.23 2262.11h1.69v1.69h-1.69zM1064.19 2273.16h2.1v2.1h-2.1zM1061.37 2258.37h2.04v2.04h-2.04zM1062.74 2243.66h1.67v1.67h-1.67zM1059.37 2283.45h2.24v2.24h-2.24zM1103.24 2278.68h2.39v2.39h-2.39zM1052.96 2248.71h1.82v1.82h-1.82zM1114.62 2298.29h1.85v1.85h-1.85zM1108.73 2259.64h2.37v2.37h-2.37zM1045.75 2263.75h2.13v2.13h-2.13zM1070.32 2290.34h1.62v1.62h-1.62zM1078.15 2246.38h1.91v1.91h-1.91zM1050.51 2281.15h2.54v2.54h-2.54zM1200.6 2279.41h1.88v1.88h-1.88zM1113.26 2272.3h1.89v1.89h-1.89zM1013.03 2214.89h2.05v2.05h-2.05zM1031.17 2216.17h2.49v2.49h-2.49zM1084.89 2166.25h2.41v2.41h-2.41zM1193.35 2223.16h1.99v1.99h-1.99zM1234.29 2233.17h2.27v2.27h-2.27zM1100.02 2165.13h1.63v1.63h-1.63zM1063.12 2267.32h1.66v1.66h-1.66z" fill="#c0141a"/>
</g>
<clipPath id="cp_f11"><rect x="1282.5" y="2109.3" width="278.5" height="232.3"/></clipPath>
<g clip-path="url(#cp_f11)">
<rect x="1282.5" y="2109.3" width="278.5" height="232.3" fill="#000"/>
<ellipse cx="1371.2" cy="2231.2" rx="27.2" ry="25.5" fill="#1c86d6" filter="url(#texf)"/>
<ellipse cx="1371.2" cy="2231.2" rx="26.6" ry="24.9" fill="none" stroke="#2ec2ee" stroke-width="2.2" opacity="0.9"/>
<ellipse cx="1480" cy="2217.5" rx="24" ry="29.2" fill="#1c86d6" filter="url(#texf)"/>
<ellipse cx="1480" cy="2217.5" rx="23.4" ry="28.6" fill="none" stroke="#2ec2ee" stroke-width="2.2" opacity="0.9"/>
<ellipse cx="1380" cy="2108" rx="10" ry="4" fill="#1c86d6" filter="url(#texf)"/>
<ellipse cx="1380" cy="2108" rx="9.4" ry="3.4" fill="none" stroke="#2ec2ee" stroke-width="2.2" opacity="0.9"/>
<path d="M1356.88 2242.76h1.73v1.73h-1.73zM1372.9 2233.27h2.5v2.5h-2.5zM1376.2 2222.38h2.11v2.11h-2.11zM1376.56 2232.11h2.12v2.12h-2.12zM1381.39 2235.71h1.78v1.78h-1.78zM1352.85 2221.48h2.09v2.09h-2.09zM1365.97 2245.21h2.36v2.36h-2.36zM1360.87 2244.47h2.16v2.16h-2.16zM1384.38 2240.72h2.58v2.58h-2.58zM1392.99 2229.97h2.13v2.13h-2.13zM1374.27 2245.6h2.5v2.5h-2.5zM1376.16 2243.72h1.73v1.73h-1.73zM1368.08 2247.37h2.34v2.34h-2.34zM1373.94 2210.02h2.2v2.2h-2.2zM1385.74 2227.36h2.48v2.48h-2.48zM1356.49 2226.04h1.94v1.94h-1.94zM1365.9 2245.2h2.06v2.06h-2.06zM1375.37 2228.92h2.41v2.41h-2.41zM1369.84 2217.57h1.86v1.86h-1.86zM1359.9 2223.49h1.97v1.97h-1.97zM1366.49 2214.58h2.45v2.45h-2.45zM1363.95 2243.56h2.25v2.25h-2.25zM1377.47 2230.16h2.09v2.09h-2.09zM1375.96 2226.73h1.62v1.62h-1.62zM1354.11 2240.62h2.36v2.36h-2.36zM1392.55 2234.79h2.01v2.01h-2.01zM1376.41 2250.87h1.84v1.84h-1.84zM1463.6 2224.37h1.99v1.99h-1.99zM1473.92 2211.24h1.74v1.74h-1.74zM1459.75 2214.87h2.44v2.44h-2.44zM1483.44 2193.37h2.4v2.4h-2.4zM1475.38 2206.97h2.57v2.57h-2.57zM1465.65 2226.27h2.27v2.27h-2.27zM1497.75 2222.08h1.76v1.76h-1.76zM1492.23 2228.13h2.02v2.02h-2.02zM1477.75 2226.54h2.6v2.6h-2.6zM1495.76 2209.96h1.6v1.6h-1.6zM1477.17 2195.13h1.94v1.94h-1.94zM1460.23 2206.21h1.75v1.75h-1.75zM1491.59 2222.55h1.77v1.77h-1.77zM1482.36 2236.52h1.88v1.88h-1.88zM1462.26 2231.85h2.22v2.22h-2.22zM1480.37 2230.1h1.67v1.67h-1.67zM1494.98 2204.38h2.47v2.47h-2.47zM1466.85 2223.09h2.03v2.03h-2.03zM1478.26 2205.76h1.77v1.77h-1.77zM1477.31 2203.49h1.7v1.7h-1.7zM1481.01 2209.05h2.12v2.12h-2.12zM1496.55 2203.16h1.95v1.95h-1.95zM1487.64 2217.6h2.1v2.1h-2.1zM1496.25 2203.63h1.71v1.71h-1.71zM1473.9 2239.35h1.96v1.96h-1.96zM1469.37 2209.48h2.11v2.11h-2.11zM1473.76 2200.08h1.68v1.68h-1.68zM1494.26 2297.93h2.1v2.1h-2.1zM1405.76 2165.6h2.44v2.44h-2.44zM1322.58 2259.13h2.19v2.19h-2.19zM1373.6 2259.53h1.73v1.73h-1.73zM1293.89 2201.15h2.23v2.23h-2.23zM1473.11 2250.19h1.68v1.68h-1.68zM1290.85 2230.7h1.74v1.74h-1.74zM1431.09 2218.73h1.61v1.61h-1.61zM1388.58 2187.12h2.13v2.13h-2.13zM1431.89 2258.15h1.78v1.78h-1.78zM1289.48 2219.18h1.88v1.88h-1.88zM1496.1 2204.91h1.72v1.72h-1.72zM1505.36 2164.28h2.5v2.5h-2.5zM1529.32 2266.11h1.75v1.75h-1.75zM1399.96 2326.5h2.27v2.27h-2.27z" fill="#c0141a"/>
</g>
<clipPath id="cp_f12"><rect x="1575" y="2109.3" width="277.4" height="232.3"/></clipPath>
<g clip-path="url(#cp_f12)">
<rect x="1575" y="2109.3" width="277.4" height="232.3" fill="#000"/>
<ellipse cx="1725" cy="2112" rx="18" ry="17" fill="#1c86d6" filter="url(#texf)"/>
<ellipse cx="1725" cy="2112" rx="17.4" ry="16.4" fill="none" stroke="#2ec2ee" stroke-width="2.2" opacity="0.9"/>
<ellipse cx="1712" cy="2220" rx="40" ry="12" transform="rotate(-15 1712 2220)" fill="#1a7fcf" filter="url(#texk)"/>
<ellipse cx="1671" cy="2242" rx="24" ry="25.5" fill="#1c86d6" filter="url(#texf)"/>
<ellipse cx="1671" cy="2242" rx="23.4" ry="24.9" fill="none" stroke="#2ec2ee" stroke-width="2.2" opacity="0.9"/>
<ellipse cx="1693" cy="2325" rx="25" ry="20" fill="#22a4ee" filter="url(#tex2)"/>
<ellipse cx="1693" cy="2325" rx="24.4" ry="19.4" fill="none" stroke="#2cb4f4" stroke-width="2"/>
<ellipse cx="1650" cy="2345" rx="14" ry="12" fill="#1c86d6" filter="url(#texf)"/>
<ellipse cx="1650" cy="2345" rx="13.4" ry="11.4" fill="none" stroke="#2ec2ee" stroke-width="2.2" opacity="0.9"/>
<path d="M1704.64 2104.41h2.32v2.32h-2.32zM1686.26 2109.5h2.41v2.41h-2.41zM1707.73 2102.8h1.83v1.83h-1.83zM1717.46 2119.87h2.1v2.1h-2.1zM1710.19 2122.24h1.6v1.6h-1.6zM1706.09 2123.56h1.95v1.95h-1.95zM1686.89 2103.27h2.2v2.2h-2.2zM1696.4 2117.19h1.86v1.86h-1.86zM1676.05 2118.21h2.39v2.39h-2.39zM1680.46 2110.31h1.81v1.81h-1.81zM1700.94 2102.06h2.04v2.04h-2.04zM1722.03 2109.23h2.28v2.28h-2.28zM1697.48 2100.65h1.82v1.82h-1.82zM1706.95 2119.87h2.26v2.26h-2.26zM1694.37 2102.91h2v2h-2zM1748.52 2209.42h1.65v1.65h-1.65zM1711.42 2232.09h1.71v1.71h-1.71zM1712.11 2217.74h2.25v2.25h-2.25zM1695.6 2224.16h2.42v2.42h-2.42zM1689.29 2234.21h2.28v2.28h-2.28zM1695.58 2210.9h2.46v2.46h-2.46zM1763.01 2231.59h2.27v2.27h-2.27zM1708.01 2203.7h2.38v2.38h-2.38zM1691.44 2212.29h2.44v2.44h-2.44zM1752.57 2211.64h2.2v2.2h-2.2zM1714.57 2220.64h2.13v2.13h-2.13zM1761.3 2226.92h1.76v1.76h-1.76zM1738.16 2212.87h1.84v1.84h-1.84zM1728.97 2238.33h1.69v1.69h-1.69zM1743.78 2208.08h1.71v1.71h-1.71zM1735.71 2231.23h1.99v1.99h-1.99zM1731.92 2242.38h1.89v1.89h-1.89zM1720.68 2244.66h2.16v2.16h-2.16zM1702.86 2228.88h2.43v2.43h-2.43zM1705.59 2228.24h1.87v1.87h-1.87zM1726.05 2221.45h2.49v2.49h-2.49zM1695.2 2230.55h2.43v2.43h-2.43zM1743.06 2226.58h1.79v1.79h-1.79zM1765.29 2222.51h2.19v2.19h-2.19zM1681.7 2233.92h1.8v1.8h-1.8zM1758.43 2213.06h1.66v1.66h-1.66zM1715.7 2207.71h1.82v1.82h-1.82zM1680.58 2222.75h1.8v1.8h-1.8zM1683.15 2211.27h1.61v1.61h-1.61zM1740.51 2243.07h1.63v1.63h-1.63zM1721.81 2209.17h2.41v2.41h-2.41zM1735.62 2214.16h2.47v2.47h-2.47zM1692.49 2234.31h2.46v2.46h-2.46zM1708.51 2306.85h1.67v1.67h-1.67zM1707.82 2292.6h1.62v1.62h-1.62zM1707.97 2302.18h2.46v2.46h-2.46zM1669.53 2288.84h1.97v1.97h-1.97zM1713.96 2295.12h1.95v1.95h-1.95zM1705.87 2292.02h2.3v2.3h-2.3zM1672.34 2305.38h2.13v2.13h-2.13zM1649.76 2306.18h1.93v1.93h-1.93zM1696.86 2307.42h1.75v1.75h-1.75zM1682.67 2320.69h1.71v1.71h-1.71zM1698.18 2299.92h2.31v2.31h-2.31zM1690.49 2297.73h2.51v2.51h-2.51zM1668.06 2330h1.64v1.64h-1.64zM1710.61 2322.6h1.82v1.82h-1.82zM1683.54 2330.41h2.12v2.12h-2.12zM1719.1 2317.48h1.87v1.87h-1.87zM1687.11 2333.39h2.09v2.09h-2.09zM1673.38 2326.94h2.1v2.1h-2.1zM1727.21 2313.42h1.86v1.86h-1.86zM1663.6 2291.35h1.72v1.72h-1.72zM1688.6 2302.86h2.02v2.02h-2.02zM1687.81 2293.38h2.41v2.41h-2.41zM1700.63 2331.6h1.74v1.74h-1.74zM1676.75 2296.27h2.14v2.14h-2.14zM1717.79 2317.59h2.41v2.41h-2.41zM1707.12 2313.38h2.17v2.17h-2.17zM1704.87 2312.13h1.95v1.95h-1.95zM1688.43 2295.81h2.53v2.53h-2.53zM1709.87 2307.66h2.38v2.38h-2.38zM1699.15 2288.27h2.6v2.6h-2.6zM1627 2330.95h1.9v1.9h-1.9zM1653.48 2343.97h2.08v2.08h-2.08zM1655.08 2333.57h2.05v2.05h-2.05zM1641.6 2339.49h2.44v2.44h-2.44zM1637.97 2346.74h2.22v2.22h-2.22zM1633.5 2341.76h2.15v2.15h-2.15zM1634.35 2336.65h2.11v2.11h-2.11zM1644.19 2328.2h2.49v2.49h-2.49zM1637.5 2338.64h1.95v1.95h-1.95zM1657.32 2331.84h1.73v1.73h-1.73zM1640.11 2332.54h1.78v1.78h-1.78zM1658.27 2334.81h1.84v1.84h-1.84zM1663.43 2339.12h1.7v1.7h-1.7zM1635.29 2332.65h2.58v2.58h-2.58zM1653.85 2332.02h2.16v2.16h-2.16zM1636.07 2335.54h2.4v2.4h-2.4zM1644.03 2345.64h2.05v2.05h-2.05zM1649.9 2337.32h2.12v2.12h-2.12zM1656.38 2340.32h1.83v1.83h-1.83zM1653.1 2343.5h2.49v2.49h-2.49zM1617.89 2339.63h2.02v2.02h-2.02zM1660.08 2331.89h2.01v2.01h-2.01zM1736.93 2290.83h2.34v2.34h-2.34zM1729.2 2167.74h2.47v2.47h-2.47zM1778.44 2204.51h2.6v2.6h-2.6zM1662.96 2189.17h2.08v2.08h-2.08zM1697.31 2171.27h2.02v2.02h-2.02zM1611.22 2272.76h2.43v2.43h-2.43zM1731.94 2192.68h2.02v2.02h-2.02zM1736.91 2273.95h1.8v1.8h-1.8zM1720.54 2139.19h2.08v2.08h-2.08z" fill="#c0141a"/>
</g>
<clipPath id="cp_f13"><rect x="1865" y="2109.3" width="277" height="232.3"/></clipPath>
<g clip-path="url(#cp_f13)">
<rect x="1865" y="2109.3" width="277" height="232.3" fill="#000"/>
<ellipse cx="1965" cy="2255" rx="20" ry="35" transform="rotate(45 1965 2255)" fill="#0d4a8c" opacity="0.75" filter="url(#tex3)"/>
<ellipse cx="2040" cy="2195" rx="22" ry="18" fill="#0d4a8c" opacity="0.75" filter="url(#tex3)"/>
<ellipse cx="2018.8" cy="2225.8" rx="29.5" ry="27.5" fill="#1c86d6" filter="url(#texf)"/>
<ellipse cx="2018.8" cy="2225.8" rx="28.9" ry="26.9" fill="none" stroke="#2ec2ee" stroke-width="2.2" opacity="0.9"/>
<path d="M1971.36 2271.81h2.6v2.6h-2.6zM1982.45 2231.71h2.13v2.13h-2.13zM1962.78 2239.28h1.81v1.81h-1.81zM2007.08 2276.19h1.78v1.78h-1.78zM1984.33 2222.33h2.31v2.31h-2.31zM1965.22 2243.63h2.53v2.53h-2.53zM1940.77 2253.78h1.8v1.8h-1.8zM1985.98 2225.55h1.84v1.84h-1.84zM1967.34 2242.61h1.74v1.74h-1.74zM2015.43 2265.98h1.81v1.81h-1.81zM2000.1 2256.28h1.83v1.83h-1.83zM1950.59 2272.72h2.02v2.02h-2.02zM1966.27 2220.66h1.84v1.84h-1.84zM1998.66 2245.42h2.26v2.26h-2.26zM1979.18 2267.36h1.84v1.84h-1.84zM1972.59 2264.74h1.87v1.87h-1.87zM2009.89 2247.03h2.02v2.02h-2.02zM1969.06 2254.63h1.77v1.77h-1.77zM1996.87 2244.3h1.65v1.65h-1.65zM1981.5 2237.09h1.69v1.69h-1.69zM1977.19 2268.15h1.6v1.6h-1.6zM1957.01 2249.45h2.27v2.27h-2.27zM1947.19 2240.21h1.65v1.65h-1.65zM1981.26 2267.59h2.08v2.08h-2.08zM1952.33 2251.44h2.49v2.49h-2.49zM1954.81 2261.46h2.21v2.21h-2.21zM1986.54 2265.5h1.91v1.91h-1.91zM1974.22 2224.05h2v2h-2zM1966.19 2225.91h2.03v2.03h-2.03zM1960.48 2252.64h1.92v1.92h-1.92zM2005.47 2239.91h1.65v1.65h-1.65zM1958.4 2259.18h1.76v1.76h-1.76zM1949.36 2280.41h1.74v1.74h-1.74zM1947.79 2273.03h1.81v1.81h-1.81zM2002.12 2274.75h1.93v1.93h-1.93zM1976.37 2272.36h1.7v1.7h-1.7zM1970.15 2276.47h2.22v2.22h-2.22zM1962.49 2235.06h1.8v1.8h-1.8zM1989.58 2242.49h2.11v2.11h-2.11zM1995.91 2234.04h2.29v2.29h-2.29zM1985.92 2230.92h2.1v2.1h-2.1zM1977.02 2289.73h2.34v2.34h-2.34zM1955.48 2229.37h2.38v2.38h-2.38zM1943.93 2249.46h2.05v2.05h-2.05zM2013.9 2245.28h1.81v1.81h-1.81zM2003.53 2249.82h1.64v1.64h-1.64zM1967.15 2287.96h2.29v2.29h-2.29zM1998.93 2223.06h1.97v1.97h-1.97zM1954.23 2263.69h1.89v1.89h-1.89zM1997.04 2248.6h1.68v1.68h-1.68zM1987.85 2267.74h1.78v1.78h-1.78zM1969.94 2276.98h2.49v2.49h-2.49zM1957.83 2271.25h2.07v2.07h-2.07zM2002.73 2258.67h2.45v2.45h-2.45zM2020.65 2186.54h2.44v2.44h-2.44zM1996 2189.29h1.85v1.85h-1.85zM2009.64 2171.12h1.83v1.83h-1.83zM2044.44 2175.93h2.49v2.49h-2.49zM2037.55 2187.73h1.84v1.84h-1.84zM2000.38 2178.44h2.2v2.2h-2.2zM2022.5 2193.05h2.54v2.54h-2.54zM2030.42 2172.31h2.07v2.07h-2.07zM2016.73 2188.42h2.02v2.02h-2.02zM2003.71 2181.69h2.56v2.56h-2.56zM2020.61 2168.35h2.46v2.46h-2.46zM2057.09 2195.1h2.53v2.53h-2.53zM2019.07 2198.47h2.31v2.31h-2.31zM2011.58 2202.02h1.82v1.82h-1.82zM2020.46 2189.11h1.65v1.65h-1.65zM2015.89 2188.44h1.62v1.62h-1.62zM2036.59 2187.19h2.52v2.52h-2.52zM2011.74 2196.08h2.14v2.14h-2.14zM2046.84 2228.93h2.48v2.48h-2.48zM2076.92 2181.8h2.56v2.56h-2.56zM2094.08 2218.98h1.84v1.84h-1.84zM2102.37 2202.79h2.57v2.57h-2.57zM1976.95 2245.09h1.87v1.87h-1.87zM2068.47 2307.49h1.78v1.78h-1.78zM1961.9 2177.98h1.87v1.87h-1.87zM2052.61 2303.95h2.6v2.6h-2.6zM2057.32 2205.34h2.54v2.54h-2.54z" fill="#c0141a"/>
</g>
<clipPath id="cp_f20"><rect x="992" y="2351" width="278" height="232"/></clipPath>
<g clip-path="url(#cp_f20)">
<rect x="992" y="2351" width="278" height="232" fill="#0a0000"/>
<ellipse cx="1130.5" cy="2478.8" rx="27.8" ry="28.8" fill="#1c86d6" filter="url(#texf)"/>
<ellipse cx="1130.5" cy="2478.8" rx="27.2" ry="28.2" fill="none" stroke="#2ec2ee" stroke-width="2.2" opacity="0.9"/>
<path d="M1081.63 2532.23h1.75v1.75h-1.75zM1106.19 2480.68h1.67v1.67h-1.67zM1108.54 2497.36h1.81v1.81h-1.81zM1096.54 2538.2h1.68v1.68h-1.68zM1115.33 2498.85h2.34v2.34h-2.34zM1103.06 2498.72h2.31v2.31h-2.31zM1065.01 2509.04h2.59v2.59h-2.59zM1070.04 2496.62h1.65v1.65h-1.65zM1100.92 2487.2h2.3v2.3h-2.3zM1084.52 2481.46h2.39v2.39h-2.39zM1074.02 2521.28h1.78v1.78h-1.78zM1104.54 2477.99h1.68v1.68h-1.68zM1111.83 2508.79h2.58v2.58h-2.58zM1083.84 2485.59h2.39v2.39h-2.39zM1102.95 2496.22h1.67v1.67h-1.67zM1079.25 2515.08h1.79v1.79h-1.79zM1102.17 2480.62h2.26v2.26h-2.26zM1103.99 2511.61h1.77v1.77h-1.77zM1108.5 2533.69h2.04v2.04h-2.04zM1096.9 2489.12h1.75v1.75h-1.75zM1114.31 2525.07h1.69v1.69h-1.69zM1079.15 2494.54h2.08v2.08h-2.08zM1091.63 2533.12h2.14v2.14h-2.14zM1096.76 2544.83h2.45v2.45h-2.45zM1075.55 2532.93h1.6v1.6h-1.6zM1080.34 2505.5h1.95v1.95h-1.95zM1089.62 2541.74h1.67v1.67h-1.67zM1112.67 2483.34h2.15v2.15h-2.15zM1102.79 2527.05h1.77v1.77h-1.77zM1104.63 2520.68h1.93v1.93h-1.93zM1074.49 2531.78h2.57v2.57h-2.57zM1113.8 2496.17h2.25v2.25h-2.25zM1105.1 2529.34h2.27v2.27h-2.27zM1103.73 2526.67h2.21v2.21h-2.21zM1075.14 2498.94h1.8v1.8h-1.8zM1101.27 2528.48h2.28v2.28h-2.28zM1112.64 2492.39h2.57v2.57h-2.57zM1080.48 2498.32h1.69v1.69h-1.69zM1085.84 2542.38h2.44v2.44h-2.44zM1118.18 2513.93h1.94v1.94h-1.94zM1117.11 2502.87h1.8v1.8h-1.8zM1099.14 2512.95h2.26v2.26h-2.26zM1096.59 2494.81h2.45v2.45h-2.45zM1072.75 2525.55h1.77v1.77h-1.77zM1086.8 2492.93h1.8v1.8h-1.8zM1082.11 2477.87h2.1v2.1h-2.1zM1075.59 2515.84h1.8v1.8h-1.8zM1082.91 2478.31h2.11v2.11h-2.11zM1138.13 2434.82h2.59v2.59h-2.59zM1147.08 2434.6h1.63v1.63h-1.63zM1143.96 2452.19h2.03v2.03h-2.03zM1145.39 2447.42h1.8v1.8h-1.8zM1136.18 2452.28h1.77v1.77h-1.77zM1141.6 2449.25h2.19v2.19h-2.19zM1157.05 2439.33h2.55v2.55h-2.55zM1144.38 2438.03h2.07v2.07h-2.07zM1145.63 2441.63h2.16v2.16h-2.16zM1163.97 2470.6h2.3v2.3h-2.3zM1093.86 2515.32h2.46v2.46h-2.46zM1187.99 2411.82h2.57v2.57h-2.57zM1187.11 2407.22h1.93v1.93h-1.93zM1072.45 2515.2h1.78v1.78h-1.78zM1218.97 2490.54h2.52v2.52h-2.52zM1260.44 2436.12h2.21v2.21h-2.21zM1168.57 2454.44h2.48v2.48h-2.48zM1009.63 2504.84h1.75v1.75h-1.75z" fill="#c0141a"/>
</g>
<clipPath id="cp_f21"><rect x="1282.5" y="2351" width="278.5" height="232"/></clipPath>
<g clip-path="url(#cp_f21)">
<rect x="1282.5" y="2351" width="278.5" height="232" fill="#000"/>
<ellipse cx="1326" cy="2345" rx="26" ry="17" fill="#1c86d6" filter="url(#texf)"/>
<ellipse cx="1326" cy="2345" rx="25.4" ry="16.4" fill="none" stroke="#2ec2ee" stroke-width="2.2" opacity="0.9"/>
<ellipse cx="1422.3" cy="2460" rx="25" ry="27.7" fill="#1c86d6" filter="url(#texf)"/>
<ellipse cx="1422.3" cy="2460" rx="24.4" ry="27.1" fill="none" stroke="#2ec2ee" stroke-width="2.2" opacity="0.9"/>
<path d="M1385.96 2431.53h2.26v2.26h-2.26zM1389.97 2444.73h1.82v1.82h-1.82zM1373.37 2449.61h2.41v2.41h-2.41zM1370.54 2421.01h2.36v2.36h-2.36zM1366.77 2446.13h2.09v2.09h-2.09zM1370.63 2445.97h2.53v2.53h-2.53zM1384.01 2440.74h1.65v1.65h-1.65zM1382.98 2457.44h2.51v2.51h-2.51zM1390.29 2421.65h1.96v1.96h-1.96zM1368.99 2444.04h2.14v2.14h-2.14zM1388.4 2448.85h2.4v2.4h-2.4zM1403.28 2438.88h1.77v1.77h-1.77zM1368.89 2448.08h2.1v2.1h-2.1zM1370.65 2439.75h1.62v1.62h-1.62zM1369.92 2446.3h1.64v1.64h-1.64zM1402.67 2426.35h2.56v2.56h-2.56zM1380.08 2453.51h1.82v1.82h-1.82zM1388.25 2460.13h2.03v2.03h-2.03zM1395.52 2450.66h1.72v1.72h-1.72zM1400.66 2439.87h2.53v2.53h-2.53zM1381.05 2439.6h2.11v2.11h-2.11zM1394.01 2451.45h2.46v2.46h-2.46zM1370.48 2441.04h1.87v1.87h-1.87zM1397.39 2443.14h2.06v2.06h-2.06zM1394.96 2498.03h1.85v1.85h-1.85zM1369.47 2438.71h2.19v2.19h-2.19zM1311.49 2450.49h2.31v2.31h-2.31zM1510.26 2475.87h2.17v2.17h-2.17zM1338.84 2389.98h2.18v2.18h-2.18zM1375.48 2375.36h1.91v1.91h-1.91z" fill="#c0141a"/>
</g>
<clipPath id="cp_f22"><rect x="1575" y="2351" width="277.4" height="232"/></clipPath>
<g clip-path="url(#cp_f22)">
<rect x="1575" y="2351" width="277.4" height="232" fill="#0c0000"/>
<ellipse cx="1742" cy="2460" rx="12" ry="18" fill="#0d4a8c" opacity="0.75" filter="url(#tex3)"/>
<ellipse cx="1712.5" cy="2452" rx="24.2" ry="19.7" transform="rotate(15 1712.5 2452)" fill="#1c86d6" filter="url(#texf)"/>
<ellipse cx="1712.5" cy="2452" rx="23.6" ry="19.1" transform="rotate(15 1712.5 2452)" fill="none" stroke="#2ec2ee" stroke-width="2.2" opacity="0.9"/>
<ellipse cx="1707" cy="2421" rx="6" ry="4" fill="#1a7fcf" filter="url(#texm)"/>
<ellipse cx="1760" cy="2346" rx="30" ry="8" fill="#0d4a8c" opacity="0.75" filter="url(#tex3)"/>
<path d="M1727.35 2437.99h1.96v1.96h-1.96zM1734.24 2456.69h1.98v1.98h-1.98zM1746.48 2434.91h2.4v2.4h-2.4zM1724.64 2463.35h1.84v1.84h-1.84zM1705.83 2444.11h1.94v1.94h-1.94zM1712.02 2423.13h2.35v2.35h-2.35zM1741.32 2422.82h1.81v1.81h-1.81zM1714.68 2460.8h1.64v1.64h-1.64zM1715.41 2457.64h2.57v2.57h-2.57zM1734.66 2455.46h2.51v2.51h-2.51zM1716.27 2462.73h1.92v1.92h-1.92zM1716.14 2425.67h1.88v1.88h-1.88zM1732.23 2436.96h2.06v2.06h-2.06zM1723.7 2418.97h1.81v1.81h-1.81zM1740.66 2440.62h2.39v2.39h-2.39zM1742.36 2455.46h2.49v2.49h-2.49zM1739.99 2450.53h2.31v2.31h-2.31zM1715.48 2436.63h2v2h-2zM1799.01 2435.38h2.44v2.44h-2.44zM1659.56 2430.58h2.54v2.54h-2.54zM1751.28 2520.77h1.78v1.78h-1.78zM1765.81 2479.54h2.27v2.27h-2.27zM1627.9 2470.84h1.77v1.77h-1.77zM1711.89 2427.37h2.59v2.59h-2.59zM1734.32 2545.38h2.4v2.4h-2.4zM1680.95 2412.06h2.01v2.01h-2.01zM1721.19 2506.31h2.34v2.34h-2.34z" fill="#c0141a"/>
</g>
<clipPath id="cp_f23"><rect x="1865" y="2351" width="277" height="232"/></clipPath>
<g clip-path="url(#cp_f23)">
<rect x="1865" y="2351" width="277" height="232" fill="#000"/>
<ellipse cx="2005" cy="2487" rx="38" ry="14" fill="#0d4a8c" opacity="0.75" filter="url(#tex3)"/>
<ellipse cx="1955" cy="2440" rx="15" ry="20" fill="#0d4a8c" opacity="0.75" filter="url(#tex3)"/>
<ellipse cx="1995" cy="2445.5" rx="25" ry="28.8" transform="rotate(-15 1995 2445.5)" fill="#1c86d6" filter="url(#texf)"/>
<ellipse cx="1995" cy="2445.5" rx="24.4" ry="28.2" transform="rotate(-15 1995 2445.5)" fill="none" stroke="#2ec2ee" stroke-width="2.2" opacity="0.9"/>
<ellipse cx="1870" cy="2570" rx="20" ry="22" fill="#1c86d6" filter="url(#texf)"/>
<ellipse cx="1870" cy="2570" rx="19.4" ry="21.4" fill="none" stroke="#2ec2ee" stroke-width="2.2" opacity="0.9"/>
<ellipse cx="1906" cy="2565" rx="14.5" ry="16.5" fill="#1690e0" stroke="#27a8f0" stroke-width="2.5"/>
<ellipse cx="1906" cy="2566" rx="6.53" ry="6.93" fill="#0a3560" opacity="0.9"/>
<path d="M1985.94 2464.18h2.04v2.04h-2.04zM1976.49 2452.81h2.42v2.42h-2.42zM1948.82 2464.26h2.28v2.28h-2.28zM1968.54 2443.98h1.86v1.86h-1.86zM1996.72 2484.28h2.43v2.43h-2.43zM1946.48 2451.86h1.63v1.63h-1.63zM2003.63 2479.33h1.84v1.84h-1.84zM1963.04 2462.5h1.63v1.63h-1.63zM1999.6 2477.67h2.55v2.55h-2.55zM1969.83 2449.01h2.14v2.14h-2.14zM1974.77 2481.32h2.44v2.44h-2.44zM2017.77 2442.97h2.59v2.59h-2.59zM1984.41 2460.56h1.69v1.69h-1.69zM1962.52 2450.97h2.5v2.5h-2.5zM2012.33 2473.42h1.62v1.62h-1.62zM1968.96 2437.26h2.3v2.3h-2.3zM1985.48 2420.56h2.39v2.39h-2.39zM1998.23 2457.59h1.98v1.98h-1.98zM1954.2 2448.54h2.49v2.49h-2.49zM1968.64 2446.77h2.37v2.37h-2.37zM1967.65 2483.46h2.1v2.1h-2.1zM1962.97 2472.5h1.88v1.88h-1.88zM1993.94 2487.12h1.76v1.76h-1.76zM1986.79 2454.45h1.68v1.68h-1.68zM1990.05 2416.31h2.14v2.14h-2.14zM2032.47 2450.6h2.12v2.12h-2.12zM1980.02 2426.69h1.79v1.79h-1.79zM1985.22 2488.99h2.13v2.13h-2.13zM1966.84 2465.81h1.68v1.68h-1.68zM2015.03 2475.96h1.9v1.9h-1.9zM1979.18 2418.15h2.27v2.27h-2.27zM2000.83 2469.68h1.75v1.75h-1.75zM1978.4 2442.46h2.12v2.12h-2.12zM2021.88 2427.64h1.73v1.73h-1.73zM1973.11 2438.02h2.48v2.48h-2.48zM1952.69 2440.06h1.81v1.81h-1.81zM1968.36 2481.74h2.53v2.53h-2.53zM1954.25 2429.93h2.52v2.52h-2.52zM1994.73 2419.82h2.56v2.56h-2.56zM1948.29 2443.02h1.88v1.88h-1.88zM1959.01 2432.9h2.28v2.28h-2.28zM1983.69 2466.95h1.67v1.67h-1.67zM1941.4 2450.28h2.57v2.57h-2.57zM2058.9 2459.04h2.29v2.29h-2.29zM2058.67 2430.44h1.64v1.64h-1.64zM2034.49 2547.16h1.74v1.74h-1.74zM1942.29 2567.68h1.71v1.71h-1.71zM1968.48 2445.48h1.95v1.95h-1.95zM1982.72 2502.93h2.54v2.54h-2.54zM1904.44 2472.04h2.39v2.39h-2.39zM1956.15 2551.64h1.93v1.93h-1.93z" fill="#c0141a"/>
</g>
<rect x="1172" y="2087.8" width="88" height="3.6" fill="#ececec"/>
<text x="1138.3" y="89.7" font-size="23" text-anchor="middle">Mock</text>
<text x="1432.7" y="89.7" font-size="23" text-anchor="middle">Mock + pIC LV</text>
<text x="1719.2" y="89.7" font-size="23" text-anchor="middle">ECTV</text>
<text x="2009.5" y="91.2" font-size="23" text-anchor="middle">ECTV + pIC LV</text>
<text x="934.6" y="230.1" font-size="22.6" text-anchor="middle">DMSO</text>
<text x="929.2" y="477.5" font-size="22.6" text-anchor="middle">Mdivi-1</text>
<text x="932.6" y="717.4" font-size="22.6" text-anchor="middle">CCCP</text>
<text x="1130.5" y="973.5" font-size="23" text-anchor="middle">Mock</text>
<text x="1420.3" y="973.5" font-size="23" text-anchor="middle">Mock + pIC LV</text>
<text x="1712.5" y="973.5" font-size="23" text-anchor="middle">ECTV</text>
<text x="2010.1" y="976" font-size="23" text-anchor="middle">ECTV + pIC LV</text>
<text x="931.7" y="1114.6" font-size="22.6" text-anchor="middle">DMSO</text>
<text x="929.5" y="1358.1" font-size="22.6" text-anchor="middle">Mdivi-1</text>
<text x="931.8" y="1598" font-size="22.6" text-anchor="middle">CCCP</text>
<text x="1130.5" y="1850.9" font-size="23" text-anchor="middle">Mock</text>
<text x="1422.7" y="1850.9" font-size="23" text-anchor="middle">Mock + pIC LV</text>
<text x="1712.5" y="1850.9" font-size="23" text-anchor="middle">ECTV</text>
<text x="2002.5" y="1853" font-size="23" text-anchor="middle">ECTV + pIC LV</text>
<text x="937.5" y="1992.9" font-size="22.6" text-anchor="middle">DMSO</text>
<text x="932" y="2228.6" font-size="22.6" text-anchor="middle">Mdivi-1</text>
<text x="932.7" y="2476.7" font-size="22.6" text-anchor="middle">CCCP</text>
</svg></body></html>
